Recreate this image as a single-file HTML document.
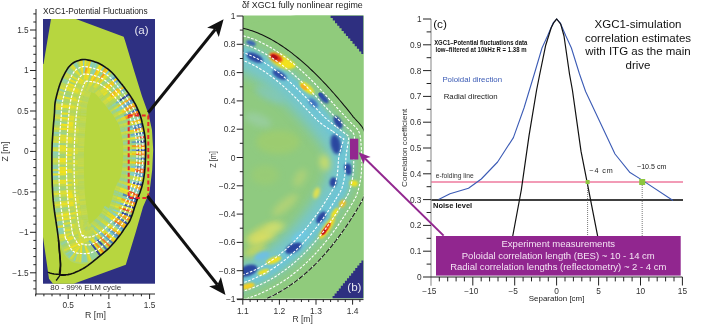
<!DOCTYPE html>
<html><head><meta charset="utf-8"><style>
html,body{margin:0;padding:0;background:#fff;}
svg{display:block;will-change:transform;}
</style></head><body>
<svg width="708" height="327" viewBox="0 0 708 327">
<rect width="708" height="327" fill="#fff"/>
<text x="43.0" y="14.0" font-family="Liberation Sans, sans-serif" font-size="9" fill="#222" text-anchor="start" textLength="104.6" lengthAdjust="spacingAndGlyphs">XGC1-Potential Fluctuations</text>
<rect x="43" y="19" width="112" height="264.7" fill="#2E3082"/>
<path d="M51.0,19.0 L76.0,19.0 L123.7,36.8 L125.2,41.3 L134.4,71.8 L142.0,96.2 L148.6,114.5 L152.0,130.0 L153.2,150.0 L152.2,170.0 L149.5,192.0 L143.0,207.0 L135.5,233.0 L125.8,264.7 L73.7,283.7 L53.0,283.7 L49.0,278.7 L43.0,237.0 L43.0,64.0 L43.5,64.0 L47.5,40.0 Z" fill="#B7D63F"/>
<defs><filter id="bl1" x="-50%" y="-50%" width="200%" height="200%"><feGaussianBlur stdDeviation="0.7"/></filter><filter id="bl2" x="-50%" y="-50%" width="200%" height="200%"><feGaussianBlur stdDeviation="1.6"/></filter><filter id="bl3" x="-50%" y="-50%" width="200%" height="200%"><feGaussianBlur stdDeviation="3"/></filter><filter id="bl15" x="-50%" y="-50%" width="200%" height="200%"><feGaussianBlur stdDeviation="1.2"/></filter><filter id="bl4" x="-50%" y="-50%" width="200%" height="200%"><feGaussianBlur stdDeviation="6"/></filter><filter id="bl05" x="-50%" y="-50%" width="200%" height="200%"><feGaussianBlur stdDeviation="0.6"/></filter><clipPath id="clipA"><path d="M59.8,274.5 L59.5,273.5 L59.6,272.0 L59.8,270.4 L60.1,268.5 L60.4,266.7 L60.5,265.0 L60.5,263.4 L60.4,261.9 L60.3,260.3 L60.1,258.7 L60.0,257.0 L59.8,255.0 L59.6,252.8 L59.4,250.4 L59.2,247.8 L59.0,245.2 L58.8,242.6 L58.5,240.0 L58.2,237.5 L57.9,235.0 L57.6,232.5 L57.2,230.0 L56.9,227.5 L56.5,225.0 L56.1,222.5 L55.8,220.0 L55.4,217.5 L55.0,215.0 L54.6,212.5 L54.3,210.0 L54.0,207.6 L53.7,205.2 L53.5,202.8 L53.2,200.4 L53.0,197.8 L52.8,195.0 L52.6,192.0 L52.5,188.9 L52.3,185.6 L52.2,182.2 L52.1,178.7 L52.0,175.0 L51.9,171.1 L51.9,166.8 L51.9,162.4 L51.9,158.1 L51.9,153.9 L52.0,150.0 L52.1,146.5 L52.2,143.1 L52.4,139.9 L52.6,136.9 L52.8,133.9 L53.0,131.0 L53.2,128.1 L53.4,125.4 L53.6,122.8 L53.9,120.1 L54.1,117.6 L54.3,115.0 L54.5,112.5 L54.6,110.1 L54.7,107.7 L54.8,105.3 L55.1,102.7 L55.6,100.0 L56.3,97.0 L57.1,93.8 L58.0,90.4 L59.0,87.1 L60.1,83.8 L61.3,80.8 L62.5,77.9 L63.9,75.1 L65.3,72.4 L66.8,69.9 L68.3,67.6 L69.9,65.7 L71.6,64.1 L73.4,62.8 L75.2,61.8 L77.1,61.0 L78.9,60.4 L80.6,59.9 L82.2,59.6 L83.7,59.5 L85.2,59.5 L86.7,59.8 L88.2,60.1 L89.8,60.4 L91.5,60.8 L93.3,61.3 L95.1,61.9 L96.9,62.5 L98.7,63.3 L100.5,64.2 L102.3,65.2 L104.1,66.3 L105.9,67.6 L107.8,68.9 L109.5,70.3 L111.2,71.8 L112.9,73.5 L114.5,75.3 L116.1,77.2 L117.7,79.2 L119.1,81.0 L120.3,82.5 L121.3,83.7 L122.1,84.6 L122.7,85.5 L123.4,86.3 L124.1,87.2 L125.0,88.5 L126.1,90.1 L127.5,91.9 L128.8,93.8 L130.3,95.9 L131.6,97.9 L132.9,100.0 L134.1,102.1 L135.3,104.2 L136.4,106.4 L137.4,108.6 L138.4,110.8 L139.3,112.9 L140.1,115.0 L140.7,117.0 L141.3,119.0 L141.8,121.0 L142.2,123.0 L142.7,125.0 L143.2,127.0 L143.6,129.0 L144.0,130.9 L144.4,132.9 L144.7,134.9 L145.0,137.0 L145.2,139.1 L145.4,141.3 L145.5,143.5 L145.6,145.7 L145.7,147.9 L145.7,150.0 L145.7,152.0 L145.7,154.0 L145.6,156.0 L145.5,158.0 L145.4,160.0 L145.3,162.0 L145.2,164.1 L145.0,166.3 L144.9,168.4 L144.7,170.6 L144.5,172.8 L144.2,175.0 L143.9,177.2 L143.5,179.3 L143.1,181.5 L142.6,183.7 L142.1,185.8 L141.5,188.0 L140.8,190.1 L140.1,192.2 L139.3,194.2 L138.5,196.3 L137.6,198.6 L136.7,201.0 L135.8,203.8 L134.7,207.0 L133.7,210.2 L132.7,213.4 L131.6,216.4 L130.7,218.8 L129.9,220.6 L129.1,222.0 L128.4,223.1 L127.7,224.1 L126.8,225.2 L125.9,226.5 L124.8,228.1 L123.6,229.9 L122.4,231.7 L121.1,233.6 L119.7,235.5 L118.3,237.3 L116.9,239.1 L115.4,240.9 L113.9,242.8 L112.3,244.5 L110.7,246.3 L109.1,248.0 L107.4,249.6 L105.6,251.2 L103.8,252.7 L102.0,254.2 L100.2,255.7 L98.4,257.2 L96.6,258.7 L94.7,260.2 L92.9,261.7 L91.0,263.1 L89.3,264.4 L87.7,265.6 L86.2,266.6 L84.9,267.5 L83.7,268.2 L82.5,268.9 L81.3,269.5 L80.0,270.2 L78.7,270.9 L77.3,271.5 L75.9,272.1 L74.5,272.7 L73.2,273.2 L72.0,273.6 L70.9,273.9 L69.9,274.2 L68.9,274.4 L67.9,274.6 L67.0,274.7 L66.0,274.8 L64.9,274.9 L63.7,275.2 L62.5,275.3 L61.4,275.3 L60.4,275.1 Z"/></clipPath><clipPath id="clipB"><rect x="243" y="15.5" width="120.5" height="283"/></clipPath></defs>
<clipPath id="clipA2"><path d="M57.5,240.2 L57.2,238.7 L56.9,237.0 L56.7,235.2 L56.5,233.2 L56.2,231.1 L56.0,229.1 L55.8,227.1 L55.5,225.1 L55.2,223.3 L55.0,221.4 L54.7,219.5 L54.4,217.7 L54.1,215.8 L53.8,213.9 L53.6,212.0 L53.3,210.1 L53.1,208.3 L52.9,206.5 L52.7,204.7 L52.5,202.9 L52.3,201.1 L52.1,199.2 L52.0,197.2 L51.8,195.1 L51.7,192.8 L51.5,190.5 L51.4,188.1 L51.3,185.7 L51.2,183.1 L51.1,180.5 L51.1,177.8 L51.0,175.0 L51.0,172.1 L50.9,169.0 L50.9,165.7 L50.9,162.4 L50.9,159.2 L50.9,155.9 L50.9,152.9 L51.0,150.0 L51.1,147.3 L51.2,144.7 L51.3,142.3 L51.4,139.9 L51.6,137.6 L51.7,135.3 L51.9,133.1 L52.0,130.9 L52.2,128.8 L52.3,126.7 L52.5,124.7 L52.6,122.7 L52.8,120.7 L53.0,118.8 L53.1,116.8 L53.3,114.9 L53.4,113.0 L53.5,111.2 L53.6,109.4 L53.7,107.6 L53.8,105.8 L54.0,103.9 L54.2,101.9 L54.6,99.8 L55.1,97.6 L55.7,95.2 L56.3,92.7 L57.0,90.1 L57.8,87.6 L58.6,85.1 L59.5,82.7 L60.4,80.4 L61.3,78.2 L62.3,76.1 L63.3,74.0 L64.4,71.9 L65.5,70.0 L66.7,68.2 L67.9,66.5 L69.2,65.0 L70.5,63.7 L71.9,62.6 L73.3,61.7 L74.8,60.9 L76.2,60.3 L77.7,59.7 L79.0,59.3 L80.4,58.9 L81.6,58.7 L82.9,58.5 L84.1,58.5 L85.3,58.6 L86.5,58.7 L87.6,58.9 L88.8,59.2 L90.0,59.4 L91.3,59.7 L92.6,60.1 L94.0,60.5 L95.4,60.9 L96.8,61.4 L98.2,62.0 L99.6,62.6 L101.0,63.3 L102.3,64.1 L103.7,64.9 L105.1,65.8 L106.5,66.8 L107.9,67.8 L109.3,68.8 L110.6,69.9 L111.9,71.1 L113.2,72.3 L114.4,73.7 L115.7,75.1 L116.9,76.6 L118.1,78.1 L119.2,79.5 L120.2,80.7 L121.1,81.9 L121.8,82.8 L122.5,83.6 L123.0,84.2 L123.5,84.8 L124.0,85.4 L124.5,86.1 L125.1,86.9 L125.8,87.9 L126.7,89.1 L127.6,90.4 L128.6,91.8 L129.7,93.2 L130.7,94.8 L131.8,96.3 L132.8,97.9 L133.8,99.5 L134.7,101.1 L135.6,102.7 L136.4,104.3 L137.3,106.0 L138.1,107.6 L138.9,109.3 L139.6,110.9 L140.2,112.5 L140.8,114.1 L141.3,115.7 L141.8,117.2 L142.2,118.8 L142.6,120.3 L143.0,121.8 L143.3,123.3 L143.7,124.8 L144.0,126.3 L144.4,127.8 L144.7,129.3 L145.0,130.7 L145.3,132.3 L145.6,133.8 L145.8,135.3 L146.0,136.9 L146.2,138.5 L146.3,140.1 L146.4,141.8 L146.5,143.5 L146.6,145.1 L146.6,146.8 L146.7,148.4 L146.7,150.0 L146.7,151.5 L146.7,153.1 L146.7,154.6 L146.6,156.0 L146.5,157.5 L146.5,159.0 L146.4,160.5 L146.3,162.1 L146.2,163.6 L146.1,165.2 L146.0,166.9 L145.9,168.5 L145.8,170.2 L145.6,171.8 L145.4,173.5 L145.2,175.1 L144.9,176.8 L144.7,178.4 L144.4,180.1 L144.1,181.7 L143.7,183.3 L143.3,185.0 L142.9,186.6 L142.5,188.3 L142.0,189.9 L141.4,191.5 L140.8,193.0 L140.2,194.6 L139.6,196.1 L139.0,197.8 L138.3,199.5 L137.6,201.3 L136.9,203.4 L136.2,205.7 L135.4,208.1 L134.7,210.5 L133.9,213.0 L133.1,215.3 L132.3,217.4 L131.6,219.2 L131.0,220.7 L130.4,221.8 L129.8,222.8 L129.2,223.7 L128.7,224.4 L128.1,225.2 L127.4,226.0 L126.7,227.1 L125.9,228.3 L125.1,229.5 L124.2,230.9 L123.2,232.3 L122.2,233.7 L121.2,235.1 L120.1,236.5 L119.1,237.9 L118.0,239.3 L116.9,240.6 L115.8,242.0 L114.7,243.4 L113.5,244.8 L112.3,246.1 L111.1,247.4 L109.8,248.7 L108.5,250.0 L107.2,251.2 L105.9,252.5 L104.5,253.7 L103.2,254.9 L101.8,256.0 L100.4,257.1 L99.0,258.0 L97.5,258.9 L96.1,259.8 L94.7,260.6 L93.2,261.4 L91.7,262.0 L90.2,262.6 L88.7,263.1 L87.2,263.5 L85.6,263.7 L84.0,263.9 L82.4,264.0 L80.8,264.0 L79.2,263.8 L77.6,263.6 L76.1,263.3 L74.7,263.0 L73.4,262.5 L72.1,261.9 L70.9,261.2 L69.7,260.4 L68.6,259.6 L67.6,258.6 L66.6,257.7 L65.7,256.6 L64.9,255.5 L64.1,254.2 L63.4,252.8 L62.7,251.4 L62.2,250.0 L61.6,248.7 L61.1,247.5 L60.6,246.4 L60.2,245.6 L59.8,245.0 L59.4,244.4 L59.0,243.9 L58.6,243.2 L58.2,242.4 L57.9,241.4 Z"/></clipPath>
<path d="M57.5,240.2 L57.2,238.7 L56.9,237.0 L56.7,235.2 L56.5,233.2 L56.2,231.1 L56.0,229.1 L55.8,227.1 L55.5,225.1 L55.2,223.3 L55.0,221.4 L54.7,219.5 L54.4,217.7 L54.1,215.8 L53.8,213.9 L53.6,212.0 L53.3,210.1 L53.1,208.3 L52.9,206.5 L52.7,204.7 L52.5,202.9 L52.3,201.1 L52.1,199.2 L52.0,197.2 L51.8,195.1 L51.7,192.8 L51.5,190.5 L51.4,188.1 L51.3,185.7 L51.2,183.1 L51.1,180.5 L51.1,177.8 L51.0,175.0 L51.0,172.1 L50.9,169.0 L50.9,165.7 L50.9,162.4 L50.9,159.2 L50.9,155.9 L50.9,152.9 L51.0,150.0 L51.1,147.3 L51.2,144.7 L51.3,142.3 L51.4,139.9 L51.6,137.6 L51.7,135.3 L51.9,133.1 L52.0,130.9 L52.2,128.8 L52.3,126.7 L52.5,124.7 L52.6,122.7 L52.8,120.7 L53.0,118.8 L53.1,116.8 L53.3,114.9 L53.4,113.0 L53.5,111.2 L53.6,109.4 L53.7,107.6 L53.8,105.8 L54.0,103.9 L54.2,101.9 L54.6,99.8 L55.1,97.6 L55.7,95.2 L56.3,92.7 L57.0,90.1 L57.8,87.6 L58.6,85.1 L59.5,82.7 L60.4,80.4 L61.3,78.2 L62.3,76.1 L63.3,74.0 L64.4,71.9 L65.5,70.0 L66.7,68.2 L67.9,66.5 L69.2,65.0 L70.5,63.7 L71.9,62.6 L73.3,61.7 L74.8,60.9 L76.2,60.3 L77.7,59.7 L79.0,59.3 L80.4,58.9 L81.6,58.7 L82.9,58.5 L84.1,58.5 L85.3,58.6 L86.5,58.7 L87.6,58.9 L88.8,59.2 L90.0,59.4 L91.3,59.7 L92.6,60.1 L94.0,60.5 L95.4,60.9 L96.8,61.4 L98.2,62.0 L99.6,62.6 L101.0,63.3 L102.3,64.1 L103.7,64.9 L105.1,65.8 L106.5,66.8 L107.9,67.8 L109.3,68.8 L110.6,69.9 L111.9,71.1 L113.2,72.3 L114.4,73.7 L115.7,75.1 L116.9,76.6 L118.1,78.1 L119.2,79.5 L120.2,80.7 L121.1,81.9 L121.8,82.8 L122.5,83.6 L123.0,84.2 L123.5,84.8 L124.0,85.4 L124.5,86.1 L125.1,86.9 L125.8,87.9 L126.7,89.1 L127.6,90.4 L128.6,91.8 L129.7,93.2 L130.7,94.8 L131.8,96.3 L132.8,97.9 L133.8,99.5 L134.7,101.1 L135.6,102.7 L136.4,104.3 L137.3,106.0 L138.1,107.6 L138.9,109.3 L139.6,110.9 L140.2,112.5 L140.8,114.1 L141.3,115.7 L141.8,117.2 L142.2,118.8 L142.6,120.3 L143.0,121.8 L143.3,123.3 L143.7,124.8 L144.0,126.3 L144.4,127.8 L144.7,129.3 L145.0,130.7 L145.3,132.3 L145.6,133.8 L145.8,135.3 L146.0,136.9 L146.2,138.5 L146.3,140.1 L146.4,141.8 L146.5,143.5 L146.6,145.1 L146.6,146.8 L146.7,148.4 L146.7,150.0 L146.7,151.5 L146.7,153.1 L146.7,154.6 L146.6,156.0 L146.5,157.5 L146.5,159.0 L146.4,160.5 L146.3,162.1 L146.2,163.6 L146.1,165.2 L146.0,166.9 L145.9,168.5 L145.8,170.2 L145.6,171.8 L145.4,173.5 L145.2,175.1 L144.9,176.8 L144.7,178.4 L144.4,180.1 L144.1,181.7 L143.7,183.3 L143.3,185.0 L142.9,186.6 L142.5,188.3 L142.0,189.9 L141.4,191.5 L140.8,193.0 L140.2,194.6 L139.6,196.1 L139.0,197.8 L138.3,199.5 L137.6,201.3 L136.9,203.4 L136.2,205.7 L135.4,208.1 L134.7,210.5 L133.9,213.0 L133.1,215.3 L132.3,217.4 L131.6,219.2 L131.0,220.7 L130.4,221.8 L129.8,222.8 L129.2,223.7 L128.7,224.4 L128.1,225.2 L127.4,226.0 L126.7,227.1 L125.9,228.3 L125.1,229.5 L124.2,230.9 L123.2,232.3 L122.2,233.7 L121.2,235.1 L120.1,236.5 L119.1,237.9 L118.0,239.3 L116.9,240.6 L115.8,242.0 L114.7,243.4 L113.5,244.8 L112.3,246.1 L111.1,247.4 L109.8,248.7 L108.5,250.0 L107.2,251.2 L105.9,252.5 L104.5,253.7 L103.2,254.9 L101.8,256.0 L100.4,257.1 L99.0,258.0 L97.5,258.9 L96.1,259.8 L94.7,260.6 L93.2,261.4 L91.7,262.0 L90.2,262.6 L88.7,263.1 L87.2,263.5 L85.6,263.7 L84.0,263.9 L82.4,264.0 L80.8,264.0 L79.2,263.8 L77.6,263.6 L76.1,263.3 L74.7,263.0 L73.4,262.5 L72.1,261.9 L70.9,261.2 L69.7,260.4 L68.6,259.6 L67.6,258.6 L66.6,257.7 L65.7,256.6 L64.9,255.5 L64.1,254.2 L63.4,252.8 L62.7,251.4 L62.2,250.0 L61.6,248.7 L61.1,247.5 L60.6,246.4 L60.2,245.6 L59.8,245.0 L59.4,244.4 L59.0,243.9 L58.6,243.2 L58.2,242.4 L57.9,241.4 Z" fill="#B0D666"/>
<path d="M81.3,230.8 L81.0,229.8 L80.7,228.7 L80.5,227.6 L80.2,226.6 L80.0,225.6 L79.9,224.6 L79.7,223.5 L79.4,222.2 L79.2,220.7 L79.0,219.1 L78.7,217.4 L78.5,215.6 L78.2,213.8 L78.0,212.0 L77.8,210.1 L77.5,208.3 L77.3,206.4 L77.1,204.6 L76.9,202.7 L76.7,200.9 L76.5,199.0 L76.3,197.0 L76.2,195.1 L76.0,193.0 L75.9,191.0 L75.8,188.8 L75.6,186.6 L75.5,184.3 L75.4,181.9 L75.4,179.4 L75.3,176.9 L75.2,174.4 L75.2,171.8 L75.1,169.2 L75.1,166.6 L75.1,164.0 L75.1,161.4 L75.1,158.8 L75.2,156.2 L75.2,153.6 L75.3,151.0 L75.3,148.5 L75.4,146.0 L75.5,143.5 L75.6,141.1 L75.7,138.8 L75.8,136.5 L76.0,134.3 L76.1,132.1 L76.2,130.0 L76.4,127.9 L76.5,125.9 L76.6,123.9 L76.8,122.0 L76.9,120.2 L77.0,118.4 L77.2,116.6 L77.4,114.8 L77.6,113.0 L77.8,111.2 L78.1,109.4 L78.4,107.7 L78.7,105.9 L79.0,104.2 L79.3,102.4 L79.7,100.7 L80.1,99.1 L80.6,97.5 L81.0,95.9 L81.5,94.5 L81.9,93.1 L82.4,91.8 L82.8,90.6 L83.1,89.4 L83.5,88.3 L83.8,87.3 L84.2,86.4 L84.5,85.5 L84.8,84.8 L85.0,84.2 L85.2,83.7 L85.3,83.2 L85.3,82.9 L85.3,82.6 L85.3,82.3 L85.2,82.2 L85.2,82.1 L85.2,82.1 L85.2,82.2 L85.2,82.2 L85.3,82.2 L85.4,82.3 L85.6,82.3 L85.8,82.2 L86.1,82.2 L86.5,82.2 L86.8,82.1 L87.3,82.1 L87.7,82.1 L88.3,82.2 L88.9,82.2 L89.7,82.3 L90.5,82.3 L91.5,82.4 L92.4,82.5 L93.4,82.7 L94.4,82.9 L95.4,83.2 L96.5,83.5 L97.5,83.9 L98.6,84.4 L99.6,84.9 L100.7,85.5 L101.7,86.1 L102.7,86.7 L103.7,87.4 L104.7,88.0 L105.6,88.7 L106.6,89.4 L107.5,90.1 L108.4,90.9 L109.3,91.8 L110.1,92.6 L111.0,93.6 L111.9,94.6 L112.8,95.6 L113.6,96.6 L114.5,97.6 L115.3,98.6 L116.2,99.6 L117.0,100.6 L117.9,101.6 L118.8,102.6 L119.6,103.7 L120.5,104.8 L121.4,106.0 L122.3,107.2 L123.2,108.4 L124.1,109.7 L125.0,110.9 L125.9,112.2 L126.7,113.5 L127.5,114.7 L128.2,116.0 L128.9,117.3 L129.6,118.6 L130.2,120.0 L130.8,121.3 L131.4,122.6 L131.9,123.9 L132.4,125.3 L132.9,126.6 L133.4,127.9 L133.8,129.3 L134.1,130.6 L134.5,132.0 L134.8,133.4 L135.0,134.8 L135.3,136.2 L135.5,137.7 L135.7,139.1 L135.9,140.5 L136.1,142.0 L136.2,143.4 L136.4,144.8 L136.5,146.2 L136.5,147.7 L136.6,149.1 L136.6,150.6 L136.7,152.1 L136.7,153.5 L136.6,155.0 L136.6,156.5 L136.5,158.0 L136.5,159.5 L136.4,161.0 L136.3,162.5 L136.1,164.0 L136.0,165.4 L135.8,166.9 L135.6,168.4 L135.4,169.9 L135.1,171.3 L134.8,172.8 L134.5,174.3 L134.1,175.7 L133.8,177.1 L133.4,178.6 L132.9,180.0 L132.5,181.5 L132.0,182.9 L131.5,184.5 L131.0,186.0 L130.4,187.6 L129.9,189.3 L129.3,191.0 L128.6,192.8 L128.0,194.5 L127.3,196.3 L126.6,198.0 L125.9,199.6 L125.1,201.1 L124.3,202.6 L123.5,204.0 L122.7,205.4 L122.0,206.8 L121.2,208.2 L120.5,209.6 L119.7,211.0 L118.9,212.3 L118.0,213.6 L117.2,214.8 L116.3,216.0 L115.4,217.1 L114.5,218.1 L113.6,219.1 L112.7,220.0 L111.7,220.9 L110.8,221.7 L109.8,222.6 L108.8,223.5 L107.9,224.5 L106.8,225.5 L105.8,226.6 L104.7,227.7 L103.6,228.7 L102.5,229.7 L101.3,230.6 L100.1,231.5 L98.9,232.3 L97.6,233.0 L96.4,233.7 L95.2,234.3 L93.9,234.9 L92.7,235.3 L91.5,235.7 L90.4,236.0 L89.3,236.2 L88.3,236.2 L87.4,236.2 L86.5,236.1 L85.8,236.0 L85.1,235.9 L84.5,235.7 L83.9,235.5 L83.5,235.2 L83.2,235.0 L83.0,234.8 L82.9,234.6 L82.9,234.5 L82.9,234.4 L83.1,234.4 L83.3,234.4 L83.5,234.5 L83.8,234.6 L84.1,234.8 L84.4,235.2 L84.7,235.5 L84.9,235.9 L85.1,236.3 L85.3,236.7 L85.4,236.9 L85.5,237.1 L85.5,237.1 L85.4,237.0 L85.3,236.9 L85.2,236.7 L85.0,236.5 L84.7,236.4 L84.5,236.3 L84.2,236.2 L83.9,236.1 L83.6,235.9 L83.3,235.5 L83.0,235.1 L82.6,234.5 L82.3,233.7 L82.0,232.8 L81.6,231.9 Z" fill="#B7D641" filter="url(#bl2)"/>
<g clip-path="url(#clipA)"><g clip-path="url(#clipA2)" filter="url(#bl05)"><line x1="59.0" y1="239.9" x2="65.4" y2="238.4" stroke="#A8D46D" stroke-width="2.3"/><line x1="65.4" y1="238.4" x2="72.4" y2="236.7" stroke="#BFD853" stroke-width="2.3"/><line x1="72.4" y1="236.7" x2="78.3" y2="235.3" stroke="#E9E027" stroke-width="2.3"/><line x1="78.3" y1="235.3" x2="84.3" y2="233.9" stroke="#D1DC41" stroke-width="2.3"/><line x1="84.3" y1="233.9" x2="90.2" y2="232.6" stroke="#BDD855" stroke-width="2.3"/><line x1="58.6" y1="237.7" x2="65.1" y2="236.6" stroke="#D8DD39" stroke-width="2.3"/><line x1="65.1" y1="236.6" x2="72.0" y2="235.3" stroke="#E9E028" stroke-width="2.3"/><line x1="72.0" y1="235.3" x2="78.0" y2="234.2" stroke="#EAE126" stroke-width="2.3"/><line x1="78.0" y1="234.2" x2="84.0" y2="233.1" stroke="#BAD759" stroke-width="2.3"/><line x1="84.0" y1="233.1" x2="89.9" y2="232.1" stroke="#C5D94D" stroke-width="2.3"/><line x1="58.3" y1="235.6" x2="64.7" y2="234.6" stroke="#D4DC3E" stroke-width="2.3"/><line x1="64.7" y1="234.6" x2="71.7" y2="233.6" stroke="#D8DD39" stroke-width="2.3"/><line x1="71.7" y1="233.6" x2="77.7" y2="232.7" stroke="#DADD37" stroke-width="2.3"/><line x1="77.7" y1="232.7" x2="83.7" y2="231.9" stroke="#D0DB42" stroke-width="2.3"/><line x1="83.7" y1="231.9" x2="89.7" y2="231.0" stroke="#C2D950" stroke-width="2.3"/><line x1="58.0" y1="233.4" x2="64.5" y2="232.6" stroke="#92D1A3" stroke-width="2.3"/><line x1="64.5" y1="232.6" x2="71.5" y2="231.7" stroke="#B1D562" stroke-width="2.3"/><line x1="71.5" y1="231.7" x2="77.5" y2="230.9" stroke="#C2D950" stroke-width="2.3"/><line x1="77.5" y1="230.9" x2="83.4" y2="230.2" stroke="#B7D75C" stroke-width="2.3"/><line x1="83.4" y1="230.2" x2="89.4" y2="229.4" stroke="#B9D759" stroke-width="2.3"/><line x1="57.8" y1="231.2" x2="64.2" y2="230.5" stroke="#8DD1AE" stroke-width="2.3"/><line x1="64.2" y1="230.5" x2="71.2" y2="229.7" stroke="#DBDE36" stroke-width="2.3"/><line x1="71.2" y1="229.7" x2="77.2" y2="229.0" stroke="#B4D65F" stroke-width="2.3"/><line x1="77.2" y1="229.0" x2="83.2" y2="228.3" stroke="#B8D75A" stroke-width="2.3"/><line x1="83.2" y1="228.3" x2="89.2" y2="227.6" stroke="#B6D75C" stroke-width="2.3"/><line x1="57.5" y1="229.1" x2="64.0" y2="228.3" stroke="#88D0BA" stroke-width="2.3"/><line x1="64.0" y1="228.3" x2="71.0" y2="227.5" stroke="#C1D951" stroke-width="2.3"/><line x1="71.0" y1="227.5" x2="77.0" y2="226.9" stroke="#CDDB44" stroke-width="2.3"/><line x1="77.0" y1="226.9" x2="83.0" y2="226.2" stroke="#D9DD38" stroke-width="2.3"/><line x1="83.0" y1="226.2" x2="88.9" y2="225.5" stroke="#B7D75B" stroke-width="2.3"/><line x1="57.2" y1="226.9" x2="63.7" y2="226.1" stroke="#DDDE34" stroke-width="2.3"/><line x1="63.7" y1="226.1" x2="70.7" y2="225.2" stroke="#A0D381" stroke-width="2.3"/><line x1="70.7" y1="225.2" x2="76.7" y2="224.5" stroke="#E0DF31" stroke-width="2.3"/><line x1="76.7" y1="224.5" x2="82.7" y2="223.7" stroke="#D1DC40" stroke-width="2.3"/><line x1="82.7" y1="223.7" x2="88.7" y2="223.0" stroke="#C6DA4C" stroke-width="2.3"/><line x1="57.0" y1="224.7" x2="63.4" y2="223.8" stroke="#93D19F" stroke-width="2.3"/><line x1="63.4" y1="223.8" x2="70.4" y2="222.8" stroke="#D4DC3D" stroke-width="2.3"/><line x1="70.4" y1="222.8" x2="76.4" y2="222.0" stroke="#B1D562" stroke-width="2.3"/><line x1="76.4" y1="222.0" x2="82.4" y2="221.2" stroke="#CDDB44" stroke-width="2.3"/><line x1="82.4" y1="221.2" x2="88.4" y2="220.4" stroke="#B7D75B" stroke-width="2.3"/><line x1="56.6" y1="222.5" x2="63.1" y2="221.5" stroke="#94D29C" stroke-width="2.3"/><line x1="63.1" y1="221.5" x2="70.1" y2="220.5" stroke="#A5D375" stroke-width="2.3"/><line x1="70.1" y1="220.5" x2="76.1" y2="219.6" stroke="#B4D65E" stroke-width="2.3"/><line x1="76.1" y1="219.6" x2="82.1" y2="218.7" stroke="#BAD759" stroke-width="2.3"/><line x1="82.1" y1="218.7" x2="88.0" y2="217.9" stroke="#B6D65C" stroke-width="2.3"/><line x1="56.3" y1="220.3" x2="62.8" y2="219.3" stroke="#D1DC40" stroke-width="2.3"/><line x1="62.8" y1="219.3" x2="69.8" y2="218.3" stroke="#E4DF2C" stroke-width="2.3"/><line x1="69.8" y1="218.3" x2="75.7" y2="217.4" stroke="#E1DF30" stroke-width="2.3"/><line x1="75.7" y1="217.4" x2="81.7" y2="216.4" stroke="#BAD758" stroke-width="2.3"/><line x1="81.7" y1="216.4" x2="87.7" y2="215.5" stroke="#B6D65D" stroke-width="2.3"/><line x1="56.0" y1="218.1" x2="62.5" y2="217.1" stroke="#BED855" stroke-width="2.3"/><line x1="62.5" y1="217.1" x2="69.4" y2="216.1" stroke="#D3DC3F" stroke-width="2.3"/><line x1="69.4" y1="216.1" x2="75.4" y2="215.1" stroke="#B4D65E" stroke-width="2.3"/><line x1="75.4" y1="215.1" x2="81.4" y2="214.2" stroke="#CDDB44" stroke-width="2.3"/><line x1="81.4" y1="214.2" x2="87.4" y2="213.3" stroke="#C7DA4B" stroke-width="2.3"/><line x1="55.6" y1="216.0" x2="62.1" y2="215.0" stroke="#DCDE35" stroke-width="2.3"/><line x1="62.1" y1="215.0" x2="69.1" y2="213.9" stroke="#F0E220" stroke-width="2.3"/><line x1="69.1" y1="213.9" x2="75.1" y2="213.0" stroke="#E7E02A" stroke-width="2.3"/><line x1="75.1" y1="213.0" x2="81.1" y2="212.1" stroke="#D8DD39" stroke-width="2.3"/><line x1="81.1" y1="212.1" x2="87.0" y2="211.1" stroke="#C6DA4C" stroke-width="2.3"/><line x1="55.3" y1="213.8" x2="61.8" y2="212.8" stroke="#B5D65D" stroke-width="2.3"/><line x1="61.8" y1="212.8" x2="68.8" y2="211.8" stroke="#CBDB46" stroke-width="2.3"/><line x1="68.8" y1="211.8" x2="74.8" y2="210.9" stroke="#ACD467" stroke-width="2.3"/><line x1="74.8" y1="210.9" x2="80.7" y2="210.0" stroke="#CADA47" stroke-width="2.3"/><line x1="80.7" y1="210.0" x2="86.7" y2="209.1" stroke="#C0D853" stroke-width="2.3"/><line x1="55.0" y1="211.6" x2="61.5" y2="210.7" stroke="#98D293" stroke-width="2.3"/><line x1="61.5" y1="210.7" x2="68.5" y2="209.8" stroke="#ACD567" stroke-width="2.3"/><line x1="68.5" y1="209.8" x2="74.5" y2="209.0" stroke="#C0D852" stroke-width="2.3"/><line x1="74.5" y1="209.0" x2="80.4" y2="208.2" stroke="#B7D75C" stroke-width="2.3"/><line x1="80.4" y1="208.2" x2="86.4" y2="207.4" stroke="#B7D75B" stroke-width="2.3"/><line x1="54.7" y1="209.4" x2="61.2" y2="208.6" stroke="#95D29B" stroke-width="2.3"/><line x1="61.2" y1="208.6" x2="68.2" y2="207.7" stroke="#9DD387" stroke-width="2.3"/><line x1="68.2" y1="207.7" x2="74.2" y2="207.0" stroke="#B4D65E" stroke-width="2.3"/><line x1="74.2" y1="207.0" x2="80.2" y2="206.2" stroke="#D6DD3B" stroke-width="2.3"/><line x1="80.2" y1="206.2" x2="86.2" y2="205.5" stroke="#B6D65D" stroke-width="2.3"/><line x1="54.5" y1="207.3" x2="61.0" y2="206.5" stroke="#BAD759" stroke-width="2.3"/><line x1="61.0" y1="206.5" x2="67.9" y2="205.6" stroke="#CDDB45" stroke-width="2.3"/><line x1="67.9" y1="205.6" x2="73.9" y2="204.9" stroke="#E5DF2C" stroke-width="2.3"/><line x1="73.9" y1="204.9" x2="79.9" y2="204.2" stroke="#B2D661" stroke-width="2.3"/><line x1="79.9" y1="204.2" x2="85.9" y2="203.4" stroke="#C6D94C" stroke-width="2.3"/><line x1="54.2" y1="205.1" x2="60.7" y2="204.3" stroke="#DEDE33" stroke-width="2.3"/><line x1="60.7" y1="204.3" x2="67.7" y2="203.5" stroke="#EAE126" stroke-width="2.3"/><line x1="67.7" y1="203.5" x2="73.7" y2="202.8" stroke="#ECE125" stroke-width="2.3"/><line x1="73.7" y1="202.8" x2="79.7" y2="202.1" stroke="#D6DD3B" stroke-width="2.3"/><line x1="79.7" y1="202.1" x2="85.7" y2="201.4" stroke="#C8DA4A" stroke-width="2.3"/><line x1="54.0" y1="202.9" x2="60.5" y2="202.2" stroke="#C2D950" stroke-width="2.3"/><line x1="60.5" y1="202.2" x2="67.5" y2="201.4" stroke="#D4DC3D" stroke-width="2.3"/><line x1="67.5" y1="201.4" x2="73.4" y2="200.7" stroke="#DBDE35" stroke-width="2.3"/><line x1="73.4" y1="200.7" x2="79.4" y2="200.0" stroke="#D2DC40" stroke-width="2.3"/><line x1="79.4" y1="200.0" x2="85.4" y2="199.4" stroke="#B5D65D" stroke-width="2.3"/><line x1="53.8" y1="200.7" x2="60.2" y2="200.1" stroke="#95D29A" stroke-width="2.3"/><line x1="60.2" y1="200.1" x2="67.2" y2="199.4" stroke="#A3D379" stroke-width="2.3"/><line x1="67.2" y1="199.4" x2="73.2" y2="198.9" stroke="#BED855" stroke-width="2.3"/><line x1="73.2" y1="198.9" x2="79.2" y2="198.3" stroke="#D5DC3D" stroke-width="2.3"/><line x1="79.2" y1="198.3" x2="85.2" y2="197.7" stroke="#C6DA4C" stroke-width="2.3"/><line x1="53.6" y1="198.5" x2="60.1" y2="198.0" stroke="#96D299" stroke-width="2.3"/><line x1="60.1" y1="198.0" x2="67.1" y2="197.4" stroke="#A9D46A" stroke-width="2.3"/><line x1="67.1" y1="197.4" x2="73.0" y2="196.9" stroke="#EEE122" stroke-width="2.3"/><line x1="73.0" y1="196.9" x2="79.0" y2="196.3" stroke="#D1DC40" stroke-width="2.3"/><line x1="79.0" y1="196.3" x2="85.0" y2="195.8" stroke="#C6D94C" stroke-width="2.3"/><line x1="53.4" y1="196.3" x2="59.9" y2="195.8" stroke="#AFD564" stroke-width="2.3"/><line x1="59.9" y1="195.8" x2="66.9" y2="195.3" stroke="#C8DA49" stroke-width="2.3"/><line x1="66.9" y1="195.3" x2="72.9" y2="194.9" stroke="#EFE121" stroke-width="2.3"/><line x1="72.9" y1="194.9" x2="78.9" y2="194.4" stroke="#C8DA49" stroke-width="2.3"/><line x1="78.9" y1="194.4" x2="84.9" y2="194.0" stroke="#BFD853" stroke-width="2.3"/><line x1="53.2" y1="194.1" x2="59.7" y2="193.7" stroke="#DEDE33" stroke-width="2.3"/><line x1="59.7" y1="193.7" x2="66.7" y2="193.2" stroke="#E2DF2F" stroke-width="2.3"/><line x1="66.7" y1="193.2" x2="72.7" y2="192.9" stroke="#E9E027" stroke-width="2.3"/><line x1="72.7" y1="192.9" x2="78.7" y2="192.5" stroke="#B7D75B" stroke-width="2.3"/><line x1="78.7" y1="192.5" x2="84.7" y2="192.1" stroke="#C4D94E" stroke-width="2.3"/><line x1="53.1" y1="192.0" x2="59.6" y2="191.6" stroke="#C0D852" stroke-width="2.3"/><line x1="59.6" y1="191.6" x2="66.6" y2="191.2" stroke="#D7DD3A" stroke-width="2.3"/><line x1="66.6" y1="191.2" x2="72.6" y2="190.8" stroke="#D9DD38" stroke-width="2.3"/><line x1="72.6" y1="190.8" x2="78.6" y2="190.4" stroke="#CCDB46" stroke-width="2.3"/><line x1="78.6" y1="190.4" x2="84.6" y2="190.1" stroke="#C1D951" stroke-width="2.3"/><line x1="53.0" y1="189.8" x2="59.5" y2="189.4" stroke="#95D29B" stroke-width="2.3"/><line x1="59.5" y1="189.4" x2="66.5" y2="189.0" stroke="#A2D37C" stroke-width="2.3"/><line x1="66.5" y1="189.0" x2="72.5" y2="188.7" stroke="#BCD856" stroke-width="2.3"/><line x1="72.5" y1="188.7" x2="78.5" y2="188.4" stroke="#B7D75C" stroke-width="2.3"/><line x1="78.5" y1="188.4" x2="84.5" y2="188.1" stroke="#B6D65D" stroke-width="2.3"/><line x1="52.9" y1="187.6" x2="59.4" y2="187.3" stroke="#93D19F" stroke-width="2.3"/><line x1="59.4" y1="187.3" x2="66.4" y2="186.9" stroke="#A8D46C" stroke-width="2.3"/><line x1="66.4" y1="186.9" x2="72.4" y2="186.7" stroke="#BBD757" stroke-width="2.3"/><line x1="72.4" y1="186.7" x2="78.4" y2="186.4" stroke="#B5D65D" stroke-width="2.3"/><line x1="78.4" y1="186.4" x2="84.4" y2="186.1" stroke="#B8D75A" stroke-width="2.3"/><line x1="52.8" y1="185.4" x2="59.3" y2="185.1" stroke="#AAD469" stroke-width="2.3"/><line x1="59.3" y1="185.1" x2="66.3" y2="184.8" stroke="#C2D950" stroke-width="2.3"/><line x1="66.3" y1="184.8" x2="72.3" y2="184.6" stroke="#E6E02B" stroke-width="2.3"/><line x1="72.3" y1="184.6" x2="78.3" y2="184.3" stroke="#C6DA4C" stroke-width="2.3"/><line x1="78.3" y1="184.3" x2="84.3" y2="184.1" stroke="#BDD855" stroke-width="2.3"/><line x1="52.7" y1="183.2" x2="59.2" y2="182.9" stroke="#CBDB47" stroke-width="2.3"/><line x1="59.2" y1="182.9" x2="66.2" y2="182.6" stroke="#E7E029" stroke-width="2.3"/><line x1="66.2" y1="182.6" x2="72.2" y2="182.4" stroke="#ADD566" stroke-width="2.3"/><line x1="72.2" y1="182.4" x2="78.2" y2="182.1" stroke="#CFDB42" stroke-width="2.3"/><line x1="78.2" y1="182.1" x2="84.2" y2="181.9" stroke="#B8D75B" stroke-width="2.3"/><line x1="52.6" y1="181.0" x2="59.1" y2="180.7" stroke="#C8DA49" stroke-width="2.3"/><line x1="59.1" y1="180.7" x2="66.1" y2="180.5" stroke="#EDE123" stroke-width="2.3"/><line x1="66.1" y1="180.5" x2="72.1" y2="180.3" stroke="#E4DF2D" stroke-width="2.3"/><line x1="72.1" y1="180.3" x2="78.1" y2="180.1" stroke="#CEDB43" stroke-width="2.3"/><line x1="78.1" y1="180.1" x2="84.1" y2="179.9" stroke="#C5D94D" stroke-width="2.3"/><line x1="52.6" y1="178.8" x2="59.1" y2="178.6" stroke="#95D299" stroke-width="2.3"/><line x1="59.1" y1="178.6" x2="66.1" y2="178.4" stroke="#A5D474" stroke-width="2.3"/><line x1="66.1" y1="178.4" x2="72.1" y2="178.2" stroke="#BBD758" stroke-width="2.3"/><line x1="72.1" y1="178.2" x2="78.1" y2="178.0" stroke="#BAD759" stroke-width="2.3"/><line x1="78.1" y1="178.0" x2="84.1" y2="177.9" stroke="#B8D75A" stroke-width="2.3"/><line x1="52.5" y1="176.6" x2="59.0" y2="176.4" stroke="#88D0BB" stroke-width="2.3"/><line x1="59.0" y1="176.4" x2="66.0" y2="176.3" stroke="#A4D375" stroke-width="2.3"/><line x1="66.0" y1="176.3" x2="72.0" y2="176.1" stroke="#B8D75B" stroke-width="2.3"/><line x1="72.0" y1="176.1" x2="78.0" y2="176.0" stroke="#B6D75C" stroke-width="2.3"/><line x1="78.0" y1="176.0" x2="84.0" y2="175.8" stroke="#B6D65D" stroke-width="2.3"/><line x1="52.5" y1="174.4" x2="59.0" y2="174.3" stroke="#DFDE32" stroke-width="2.3"/><line x1="59.0" y1="174.3" x2="66.0" y2="174.1" stroke="#E8E029" stroke-width="2.3"/><line x1="66.0" y1="174.1" x2="72.0" y2="174.0" stroke="#B4D65E" stroke-width="2.3"/><line x1="72.0" y1="174.0" x2="78.0" y2="173.9" stroke="#C8DA4A" stroke-width="2.3"/><line x1="78.0" y1="173.9" x2="84.0" y2="173.8" stroke="#BFD853" stroke-width="2.3"/><line x1="52.5" y1="172.2" x2="59.0" y2="172.1" stroke="#8AD0B4" stroke-width="2.3"/><line x1="59.0" y1="172.1" x2="66.0" y2="171.9" stroke="#F1E21F" stroke-width="2.3"/><line x1="66.0" y1="171.9" x2="72.0" y2="171.8" stroke="#E0DF31" stroke-width="2.3"/><line x1="72.0" y1="171.8" x2="78.0" y2="171.7" stroke="#D1DC40" stroke-width="2.3"/><line x1="78.0" y1="171.7" x2="84.0" y2="171.6" stroke="#C6D94C" stroke-width="2.3"/><line x1="52.4" y1="170.0" x2="58.9" y2="169.9" stroke="#CBDA47" stroke-width="2.3"/><line x1="58.9" y1="169.9" x2="65.9" y2="169.8" stroke="#E6E02A" stroke-width="2.3"/><line x1="65.9" y1="169.8" x2="71.9" y2="169.7" stroke="#E6E02B" stroke-width="2.3"/><line x1="71.9" y1="169.7" x2="77.9" y2="169.7" stroke="#B8D75A" stroke-width="2.3"/><line x1="77.9" y1="169.7" x2="83.9" y2="169.6" stroke="#C3D94F" stroke-width="2.3"/><line x1="52.4" y1="167.8" x2="58.9" y2="167.7" stroke="#8ED1AC" stroke-width="2.3"/><line x1="58.9" y1="167.7" x2="65.9" y2="167.7" stroke="#EFE221" stroke-width="2.3"/><line x1="65.9" y1="167.7" x2="71.9" y2="167.6" stroke="#B9D759" stroke-width="2.3"/><line x1="71.9" y1="167.6" x2="77.9" y2="167.6" stroke="#B6D75C" stroke-width="2.3"/><line x1="77.9" y1="167.6" x2="83.9" y2="167.5" stroke="#B4D65E" stroke-width="2.3"/><line x1="52.4" y1="165.6" x2="58.9" y2="165.6" stroke="#91D1A4" stroke-width="2.3"/><line x1="58.9" y1="165.6" x2="65.9" y2="165.5" stroke="#A3D379" stroke-width="2.3"/><line x1="65.9" y1="165.5" x2="71.9" y2="165.5" stroke="#BAD758" stroke-width="2.3"/><line x1="71.9" y1="165.5" x2="77.9" y2="165.5" stroke="#BCD856" stroke-width="2.3"/><line x1="77.9" y1="165.5" x2="83.9" y2="165.4" stroke="#C9DA49" stroke-width="2.3"/><line x1="52.4" y1="163.4" x2="58.9" y2="163.4" stroke="#B7D75C" stroke-width="2.3"/><line x1="58.9" y1="163.4" x2="65.9" y2="163.3" stroke="#D5DC3C" stroke-width="2.3"/><line x1="65.9" y1="163.3" x2="71.9" y2="163.3" stroke="#D7DD3A" stroke-width="2.3"/><line x1="71.9" y1="163.3" x2="77.9" y2="163.3" stroke="#D6DD3B" stroke-width="2.3"/><line x1="77.9" y1="163.3" x2="83.9" y2="163.2" stroke="#C1D951" stroke-width="2.3"/><line x1="52.4" y1="161.2" x2="58.9" y2="161.2" stroke="#CBDB46" stroke-width="2.3"/><line x1="58.9" y1="161.2" x2="65.9" y2="161.2" stroke="#EEE122" stroke-width="2.3"/><line x1="65.9" y1="161.2" x2="71.9" y2="161.2" stroke="#B1D661" stroke-width="2.3"/><line x1="71.9" y1="161.2" x2="77.9" y2="161.2" stroke="#D1DC40" stroke-width="2.3"/><line x1="77.9" y1="161.2" x2="83.9" y2="161.2" stroke="#C5D94D" stroke-width="2.3"/><line x1="52.4" y1="159.0" x2="58.9" y2="159.0" stroke="#C1D951" stroke-width="2.3"/><line x1="58.9" y1="159.0" x2="65.9" y2="159.0" stroke="#F0E221" stroke-width="2.3"/><line x1="65.9" y1="159.0" x2="71.9" y2="159.1" stroke="#D9DD38" stroke-width="2.3"/><line x1="71.9" y1="159.1" x2="77.9" y2="159.1" stroke="#B8D75B" stroke-width="2.3"/><line x1="77.9" y1="159.1" x2="83.9" y2="159.1" stroke="#C3D94E" stroke-width="2.3"/><line x1="52.4" y1="156.8" x2="58.9" y2="156.8" stroke="#98D294" stroke-width="2.3"/><line x1="58.9" y1="156.8" x2="65.9" y2="156.8" stroke="#A8D46B" stroke-width="2.3"/><line x1="65.9" y1="156.8" x2="71.9" y2="156.9" stroke="#BDD855" stroke-width="2.3"/><line x1="71.9" y1="156.9" x2="77.9" y2="156.9" stroke="#BBD857" stroke-width="2.3"/><line x1="77.9" y1="156.9" x2="83.9" y2="156.9" stroke="#B8D75A" stroke-width="2.3"/><line x1="52.4" y1="154.6" x2="58.9" y2="154.7" stroke="#8ED1AA" stroke-width="2.3"/><line x1="58.9" y1="154.7" x2="65.9" y2="154.7" stroke="#A1D37E" stroke-width="2.3"/><line x1="65.9" y1="154.7" x2="71.9" y2="154.8" stroke="#EBE125" stroke-width="2.3"/><line x1="71.9" y1="154.8" x2="77.9" y2="154.8" stroke="#BAD758" stroke-width="2.3"/><line x1="77.9" y1="154.8" x2="83.9" y2="154.9" stroke="#B5D65D" stroke-width="2.3"/><line x1="52.5" y1="152.4" x2="59.0" y2="152.5" stroke="#89D0B8" stroke-width="2.3"/><line x1="59.0" y1="152.5" x2="66.0" y2="152.6" stroke="#C0D852" stroke-width="2.3"/><line x1="66.0" y1="152.6" x2="72.0" y2="152.7" stroke="#CDDB45" stroke-width="2.3"/><line x1="72.0" y1="152.7" x2="78.0" y2="152.8" stroke="#D4DC3D" stroke-width="2.3"/><line x1="78.0" y1="152.8" x2="84.0" y2="152.9" stroke="#B7D75C" stroke-width="2.3"/><line x1="52.5" y1="150.2" x2="59.0" y2="150.3" stroke="#D7DD3A" stroke-width="2.3"/><line x1="59.0" y1="150.3" x2="66.0" y2="150.4" stroke="#E3DF2E" stroke-width="2.3"/><line x1="66.0" y1="150.4" x2="72.0" y2="150.5" stroke="#E6E02B" stroke-width="2.3"/><line x1="72.0" y1="150.5" x2="78.0" y2="150.6" stroke="#D4DC3D" stroke-width="2.3"/><line x1="78.0" y1="150.6" x2="84.0" y2="150.7" stroke="#C8DA4A" stroke-width="2.3"/><line x1="52.6" y1="148.0" x2="59.1" y2="148.2" stroke="#C5D94C" stroke-width="2.3"/><line x1="59.1" y1="148.2" x2="66.1" y2="148.3" stroke="#E6E02B" stroke-width="2.3"/><line x1="66.1" y1="148.3" x2="72.1" y2="148.5" stroke="#E1DF30" stroke-width="2.3"/><line x1="72.1" y1="148.5" x2="78.0" y2="148.6" stroke="#D3DC3E" stroke-width="2.3"/><line x1="78.0" y1="148.6" x2="84.0" y2="148.7" stroke="#C5D94D" stroke-width="2.3"/><line x1="52.6" y1="145.8" x2="59.1" y2="146.0" stroke="#8AD0B6" stroke-width="2.3"/><line x1="59.1" y1="146.0" x2="66.1" y2="146.3" stroke="#E2DF2F" stroke-width="2.3"/><line x1="66.1" y1="146.3" x2="72.1" y2="146.5" stroke="#B3D65F" stroke-width="2.3"/><line x1="72.1" y1="146.5" x2="78.1" y2="146.7" stroke="#B6D65C" stroke-width="2.3"/><line x1="78.1" y1="146.7" x2="84.1" y2="146.9" stroke="#B6D65D" stroke-width="2.3"/><line x1="52.7" y1="143.6" x2="59.2" y2="143.9" stroke="#93D19F" stroke-width="2.3"/><line x1="59.2" y1="143.9" x2="66.2" y2="144.2" stroke="#9DD386" stroke-width="2.3"/><line x1="66.2" y1="144.2" x2="72.2" y2="144.5" stroke="#B5D65E" stroke-width="2.3"/><line x1="72.2" y1="144.5" x2="78.2" y2="144.7" stroke="#B4D65E" stroke-width="2.3"/><line x1="78.2" y1="144.7" x2="84.2" y2="145.0" stroke="#C5D94D" stroke-width="2.3"/><line x1="52.8" y1="141.4" x2="59.3" y2="141.8" stroke="#D6DD3B" stroke-width="2.3"/><line x1="59.3" y1="141.8" x2="66.3" y2="142.1" stroke="#CCDB46" stroke-width="2.3"/><line x1="66.3" y1="142.1" x2="72.3" y2="142.4" stroke="#D5DC3D" stroke-width="2.3"/><line x1="72.3" y1="142.4" x2="78.3" y2="142.7" stroke="#CADA48" stroke-width="2.3"/><line x1="78.3" y1="142.7" x2="84.3" y2="143.0" stroke="#C0D853" stroke-width="2.3"/><line x1="53.0" y1="139.2" x2="59.5" y2="139.6" stroke="#C5D94C" stroke-width="2.3"/><line x1="59.5" y1="139.6" x2="66.4" y2="140.0" stroke="#DFDE32" stroke-width="2.3"/><line x1="66.4" y1="140.0" x2="72.4" y2="140.4" stroke="#E0DF30" stroke-width="2.3"/><line x1="72.4" y1="140.4" x2="78.4" y2="140.7" stroke="#CFDB42" stroke-width="2.3"/><line x1="78.4" y1="140.7" x2="84.4" y2="141.1" stroke="#C3D94F" stroke-width="2.3"/><line x1="53.1" y1="137.0" x2="59.6" y2="137.5" stroke="#D0DC41" stroke-width="2.3"/><line x1="59.6" y1="137.5" x2="66.6" y2="137.9" stroke="#DEDE33" stroke-width="2.3"/><line x1="66.6" y1="137.9" x2="72.6" y2="138.3" stroke="#E5E02C" stroke-width="2.3"/><line x1="72.6" y1="138.3" x2="78.5" y2="138.6" stroke="#D0DB42" stroke-width="2.3"/><line x1="78.5" y1="138.6" x2="84.5" y2="139.0" stroke="#C5D94C" stroke-width="2.3"/><line x1="53.2" y1="134.8" x2="59.7" y2="135.3" stroke="#9ED385" stroke-width="2.3"/><line x1="59.7" y1="135.3" x2="66.7" y2="135.7" stroke="#DBDE35" stroke-width="2.3"/><line x1="66.7" y1="135.7" x2="72.7" y2="136.1" stroke="#C3D94F" stroke-width="2.3"/><line x1="72.7" y1="136.1" x2="78.7" y2="136.5" stroke="#BFD853" stroke-width="2.3"/><line x1="78.7" y1="136.5" x2="84.7" y2="136.9" stroke="#BAD758" stroke-width="2.3"/><line x1="53.4" y1="132.7" x2="59.9" y2="133.1" stroke="#8CD1B1" stroke-width="2.3"/><line x1="59.9" y1="133.1" x2="66.9" y2="133.6" stroke="#9BD28D" stroke-width="2.3"/><line x1="66.9" y1="133.6" x2="72.8" y2="134.0" stroke="#B9D75A" stroke-width="2.3"/><line x1="72.8" y1="134.0" x2="78.8" y2="134.4" stroke="#B5D65D" stroke-width="2.3"/><line x1="78.8" y1="134.4" x2="84.8" y2="134.8" stroke="#B2D661" stroke-width="2.3"/><line x1="53.5" y1="130.5" x2="60.0" y2="130.9" stroke="#B4D65F" stroke-width="2.3"/><line x1="60.0" y1="130.9" x2="67.0" y2="131.4" stroke="#A4D376" stroke-width="2.3"/><line x1="67.0" y1="131.4" x2="73.0" y2="131.8" stroke="#D4DC3D" stroke-width="2.3"/><line x1="73.0" y1="131.8" x2="79.0" y2="132.2" stroke="#C9DA49" stroke-width="2.3"/><line x1="79.0" y1="132.2" x2="85.0" y2="132.6" stroke="#BFD853" stroke-width="2.3"/><line x1="53.7" y1="128.3" x2="60.2" y2="128.7" stroke="#D7DD3A" stroke-width="2.3"/><line x1="60.2" y1="128.7" x2="67.2" y2="129.2" stroke="#EFE121" stroke-width="2.3"/><line x1="67.2" y1="129.2" x2="73.1" y2="129.7" stroke="#E6E02A" stroke-width="2.3"/><line x1="73.1" y1="129.7" x2="79.1" y2="130.1" stroke="#D6DD3B" stroke-width="2.3"/><line x1="79.1" y1="130.1" x2="85.1" y2="130.5" stroke="#C4D94E" stroke-width="2.3"/><line x1="53.9" y1="126.1" x2="60.3" y2="126.6" stroke="#B4D65E" stroke-width="2.3"/><line x1="60.3" y1="126.6" x2="67.3" y2="127.1" stroke="#CBDB46" stroke-width="2.3"/><line x1="67.3" y1="127.1" x2="73.3" y2="127.6" stroke="#D8DD39" stroke-width="2.3"/><line x1="73.3" y1="127.6" x2="79.3" y2="128.0" stroke="#C9DA48" stroke-width="2.3"/><line x1="79.3" y1="128.0" x2="85.3" y2="128.5" stroke="#C0D852" stroke-width="2.3"/><line x1="54.0" y1="123.9" x2="60.5" y2="124.4" stroke="#9CD389" stroke-width="2.3"/><line x1="60.5" y1="124.4" x2="67.5" y2="125.0" stroke="#F2E21E" stroke-width="2.3"/><line x1="67.5" y1="125.0" x2="73.5" y2="125.5" stroke="#EAE126" stroke-width="2.3"/><line x1="73.5" y1="125.5" x2="79.5" y2="126.0" stroke="#BCD856" stroke-width="2.3"/><line x1="79.5" y1="126.0" x2="85.4" y2="126.4" stroke="#B8D75B" stroke-width="2.3"/><line x1="54.2" y1="121.7" x2="60.7" y2="122.2" stroke="#95D29B" stroke-width="2.3"/><line x1="60.7" y1="122.2" x2="67.7" y2="122.8" stroke="#9BD28D" stroke-width="2.3"/><line x1="67.7" y1="122.8" x2="73.7" y2="123.3" stroke="#EEE122" stroke-width="2.3"/><line x1="73.7" y1="123.3" x2="79.6" y2="123.8" stroke="#B8D75B" stroke-width="2.3"/><line x1="79.6" y1="123.8" x2="85.6" y2="124.4" stroke="#B6D65C" stroke-width="2.3"/><line x1="54.4" y1="119.5" x2="60.9" y2="120.1" stroke="#A8D46C" stroke-width="2.3"/><line x1="60.9" y1="120.1" x2="67.9" y2="120.7" stroke="#C0D852" stroke-width="2.3"/><line x1="67.9" y1="120.7" x2="73.8" y2="121.2" stroke="#CDDB45" stroke-width="2.3"/><line x1="73.8" y1="121.2" x2="79.8" y2="121.7" stroke="#C5D94D" stroke-width="2.3"/><line x1="79.8" y1="121.7" x2="85.8" y2="122.2" stroke="#BDD855" stroke-width="2.3"/><line x1="54.6" y1="117.3" x2="61.1" y2="117.9" stroke="#D2DC3F" stroke-width="2.3"/><line x1="61.1" y1="117.9" x2="68.1" y2="118.5" stroke="#EBE125" stroke-width="2.3"/><line x1="68.1" y1="118.5" x2="74.0" y2="119.0" stroke="#E2DF2F" stroke-width="2.3"/><line x1="74.0" y1="119.0" x2="80.0" y2="119.5" stroke="#B3D65F" stroke-width="2.3"/><line x1="80.0" y1="119.5" x2="86.0" y2="120.0" stroke="#C5D94C" stroke-width="2.3"/><line x1="54.8" y1="115.1" x2="61.3" y2="115.7" stroke="#C0D852" stroke-width="2.3"/><line x1="61.3" y1="115.7" x2="68.2" y2="116.3" stroke="#9BD28C" stroke-width="2.3"/><line x1="68.2" y1="116.3" x2="74.2" y2="116.8" stroke="#E0DF30" stroke-width="2.3"/><line x1="74.2" y1="116.8" x2="80.2" y2="117.3" stroke="#CDDB44" stroke-width="2.3"/><line x1="80.2" y1="117.3" x2="86.2" y2="117.8" stroke="#C3D94E" stroke-width="2.3"/><line x1="54.9" y1="112.9" x2="61.4" y2="113.3" stroke="#98D294" stroke-width="2.3"/><line x1="61.4" y1="113.3" x2="68.4" y2="113.7" stroke="#E8E028" stroke-width="2.3"/><line x1="68.4" y1="113.7" x2="74.4" y2="114.1" stroke="#BDD855" stroke-width="2.3"/><line x1="74.4" y1="114.1" x2="80.4" y2="114.4" stroke="#B3D65F" stroke-width="2.3"/><line x1="80.4" y1="114.4" x2="86.4" y2="114.8" stroke="#B8D75B" stroke-width="2.3"/><line x1="55.0" y1="110.7" x2="61.5" y2="111.0" stroke="#97D297" stroke-width="2.3"/><line x1="61.5" y1="111.0" x2="68.5" y2="111.3" stroke="#A3D379" stroke-width="2.3"/><line x1="68.5" y1="111.3" x2="74.5" y2="111.6" stroke="#B5D65E" stroke-width="2.3"/><line x1="74.5" y1="111.6" x2="80.5" y2="111.8" stroke="#B9D759" stroke-width="2.3"/><line x1="80.5" y1="111.8" x2="86.5" y2="112.1" stroke="#B6D65D" stroke-width="2.3"/><line x1="55.1" y1="108.5" x2="61.6" y2="108.8" stroke="#D4DC3D" stroke-width="2.3"/><line x1="61.6" y1="108.8" x2="68.6" y2="109.1" stroke="#B4D65F" stroke-width="2.3"/><line x1="68.6" y1="109.1" x2="74.6" y2="109.3" stroke="#C4D94E" stroke-width="2.3"/><line x1="74.6" y1="109.3" x2="80.6" y2="109.6" stroke="#C0D852" stroke-width="2.3"/><line x1="80.6" y1="109.6" x2="86.6" y2="109.9" stroke="#BAD759" stroke-width="2.3"/><line x1="55.3" y1="106.3" x2="61.8" y2="106.7" stroke="#D9DD38" stroke-width="2.3"/><line x1="61.8" y1="106.7" x2="68.7" y2="107.1" stroke="#EBE126" stroke-width="2.3"/><line x1="68.7" y1="107.1" x2="74.7" y2="107.4" stroke="#E1DF2F" stroke-width="2.3"/><line x1="74.7" y1="107.4" x2="80.7" y2="107.7" stroke="#D6DD3B" stroke-width="2.3"/><line x1="80.7" y1="107.7" x2="86.7" y2="108.0" stroke="#C5D94C" stroke-width="2.3"/><line x1="55.5" y1="104.1" x2="61.9" y2="104.6" stroke="#D5DC3C" stroke-width="2.3"/><line x1="61.9" y1="104.6" x2="68.9" y2="105.2" stroke="#EAE026" stroke-width="2.3"/><line x1="68.9" y1="105.2" x2="74.9" y2="105.7" stroke="#EFE122" stroke-width="2.3"/><line x1="74.9" y1="105.7" x2="80.9" y2="106.1" stroke="#D5DC3D" stroke-width="2.3"/><line x1="80.9" y1="106.1" x2="86.9" y2="106.6" stroke="#C6DA4C" stroke-width="2.3"/><line x1="55.7" y1="102.0" x2="62.2" y2="103.0" stroke="#A4D376" stroke-width="2.3"/><line x1="62.2" y1="103.0" x2="69.1" y2="104.1" stroke="#BAD758" stroke-width="2.3"/><line x1="69.1" y1="104.1" x2="75.0" y2="105.0" stroke="#C8DA49" stroke-width="2.3"/><line x1="75.0" y1="105.0" x2="80.9" y2="106.0" stroke="#C2D950" stroke-width="2.3"/><line x1="80.9" y1="106.0" x2="86.9" y2="106.9" stroke="#B7D75C" stroke-width="2.3"/><line x1="56.1" y1="99.9" x2="62.5" y2="101.1" stroke="#8AD0B4" stroke-width="2.3"/><line x1="62.5" y1="101.1" x2="69.4" y2="102.5" stroke="#A8D46D" stroke-width="2.3"/><line x1="69.4" y1="102.5" x2="75.3" y2="103.7" stroke="#AFD564" stroke-width="2.3"/><line x1="75.3" y1="103.7" x2="81.2" y2="104.8" stroke="#B5D65D" stroke-width="2.3"/><line x1="81.2" y1="104.8" x2="87.0" y2="106.0" stroke="#B4D65F" stroke-width="2.3"/><line x1="56.6" y1="97.7" x2="62.9" y2="99.2" stroke="#D3DC3E" stroke-width="2.3"/><line x1="62.9" y1="99.2" x2="69.8" y2="100.7" stroke="#B0D563" stroke-width="2.3"/><line x1="69.8" y1="100.7" x2="75.6" y2="102.0" stroke="#C3D94F" stroke-width="2.3"/><line x1="75.6" y1="102.0" x2="81.5" y2="103.4" stroke="#C0D852" stroke-width="2.3"/><line x1="81.5" y1="103.4" x2="87.3" y2="104.7" stroke="#BAD758" stroke-width="2.3"/><line x1="57.1" y1="95.6" x2="63.5" y2="97.0" stroke="#D8DD39" stroke-width="2.3"/><line x1="63.5" y1="97.0" x2="70.3" y2="98.6" stroke="#E1DF30" stroke-width="2.3"/><line x1="70.3" y1="98.6" x2="76.1" y2="99.9" stroke="#E8E029" stroke-width="2.3"/><line x1="76.1" y1="99.9" x2="82.0" y2="101.2" stroke="#D7DD3A" stroke-width="2.3"/><line x1="82.0" y1="101.2" x2="87.8" y2="102.6" stroke="#C5D94D" stroke-width="2.3"/><line x1="57.7" y1="93.5" x2="64.0" y2="95.0" stroke="#B3D65F" stroke-width="2.3"/><line x1="64.0" y1="95.0" x2="70.8" y2="96.7" stroke="#99D290" stroke-width="2.3"/><line x1="70.8" y1="96.7" x2="76.6" y2="98.2" stroke="#D4DC3E" stroke-width="2.3"/><line x1="76.6" y1="98.2" x2="82.4" y2="99.6" stroke="#B5D65D" stroke-width="2.3"/><line x1="82.4" y1="99.6" x2="88.2" y2="101.1" stroke="#B5D65E" stroke-width="2.3"/><line x1="58.3" y1="91.3" x2="64.5" y2="93.0" stroke="#CDDB45" stroke-width="2.3"/><line x1="64.5" y1="93.0" x2="71.3" y2="94.9" stroke="#A8D46B" stroke-width="2.3"/><line x1="71.3" y1="94.9" x2="77.1" y2="96.4" stroke="#B3D660" stroke-width="2.3"/><line x1="77.1" y1="96.4" x2="82.9" y2="98.0" stroke="#BED854" stroke-width="2.3"/><line x1="82.9" y1="98.0" x2="88.7" y2="99.5" stroke="#B7D75B" stroke-width="2.3"/><line x1="58.9" y1="89.2" x2="65.1" y2="91.1" stroke="#95D29A" stroke-width="2.3"/><line x1="65.1" y1="91.1" x2="71.8" y2="93.0" stroke="#A4D377" stroke-width="2.3"/><line x1="71.8" y1="93.0" x2="77.6" y2="94.7" stroke="#B8D75B" stroke-width="2.3"/><line x1="77.6" y1="94.7" x2="83.4" y2="96.4" stroke="#B7D75B" stroke-width="2.3"/><line x1="83.4" y1="96.4" x2="89.1" y2="98.1" stroke="#B5D65D" stroke-width="2.3"/><line x1="59.5" y1="87.2" x2="65.7" y2="89.1" stroke="#D7DD3A" stroke-width="2.3"/><line x1="65.7" y1="89.1" x2="72.4" y2="91.2" stroke="#D4DC3E" stroke-width="2.3"/><line x1="72.4" y1="91.2" x2="78.1" y2="93.0" stroke="#D7DD3A" stroke-width="2.3"/><line x1="78.1" y1="93.0" x2="83.8" y2="94.8" stroke="#CADA47" stroke-width="2.3"/><line x1="83.8" y1="94.8" x2="89.6" y2="96.6" stroke="#C0D852" stroke-width="2.3"/><line x1="60.2" y1="85.1" x2="66.4" y2="87.2" stroke="#C7DA4B" stroke-width="2.3"/><line x1="66.4" y1="87.2" x2="73.0" y2="89.5" stroke="#EBE126" stroke-width="2.3"/><line x1="73.0" y1="89.5" x2="78.7" y2="91.4" stroke="#E9E027" stroke-width="2.3"/><line x1="78.7" y1="91.4" x2="84.3" y2="93.3" stroke="#D3DC3E" stroke-width="2.3"/><line x1="84.3" y1="93.3" x2="90.0" y2="95.3" stroke="#C6DA4C" stroke-width="2.3"/><line x1="61.0" y1="83.0" x2="67.0" y2="85.3" stroke="#BCD857" stroke-width="2.3"/><line x1="67.0" y1="85.3" x2="73.6" y2="87.8" stroke="#D4DC3D" stroke-width="2.3"/><line x1="73.6" y1="87.8" x2="79.2" y2="89.9" stroke="#D9DD38" stroke-width="2.3"/><line x1="79.2" y1="89.9" x2="84.8" y2="92.0" stroke="#CBDB47" stroke-width="2.3"/><line x1="84.8" y1="92.0" x2="90.4" y2="94.1" stroke="#C1D951" stroke-width="2.3"/><line x1="61.8" y1="81.0" x2="67.9" y2="83.3" stroke="#99D290" stroke-width="2.3"/><line x1="67.9" y1="83.3" x2="74.4" y2="85.7" stroke="#EEE123" stroke-width="2.3"/><line x1="74.4" y1="85.7" x2="80.0" y2="87.8" stroke="#BCD856" stroke-width="2.3"/><line x1="80.0" y1="87.8" x2="85.6" y2="89.9" stroke="#BDD856" stroke-width="2.3"/><line x1="85.6" y1="89.9" x2="91.3" y2="92.1" stroke="#C4D94E" stroke-width="2.3"/><line x1="62.6" y1="79.0" x2="68.6" y2="81.4" stroke="#8FD1A8" stroke-width="2.3"/><line x1="68.6" y1="81.4" x2="75.1" y2="84.1" stroke="#A8D46B" stroke-width="2.3"/><line x1="75.1" y1="84.1" x2="80.7" y2="86.4" stroke="#B8D75A" stroke-width="2.3"/><line x1="80.7" y1="86.4" x2="86.2" y2="88.7" stroke="#B6D75C" stroke-width="2.3"/><line x1="86.2" y1="88.7" x2="91.8" y2="91.0" stroke="#B5D65E" stroke-width="2.3"/><line x1="63.5" y1="77.0" x2="69.5" y2="79.6" stroke="#B8D75A" stroke-width="2.3"/><line x1="69.5" y1="79.6" x2="75.9" y2="82.5" stroke="#E9E027" stroke-width="2.3"/><line x1="75.9" y1="82.5" x2="81.4" y2="84.9" stroke="#BAD758" stroke-width="2.3"/><line x1="81.4" y1="84.9" x2="86.8" y2="87.3" stroke="#CBDB46" stroke-width="2.3"/><line x1="86.8" y1="87.3" x2="92.3" y2="89.7" stroke="#C3D94F" stroke-width="2.3"/><line x1="64.5" y1="75.0" x2="70.4" y2="77.8" stroke="#CCDB45" stroke-width="2.3"/><line x1="70.4" y1="77.8" x2="76.7" y2="80.8" stroke="#A8D46D" stroke-width="2.3"/><line x1="76.7" y1="80.8" x2="82.1" y2="83.4" stroke="#DEDE33" stroke-width="2.3"/><line x1="82.1" y1="83.4" x2="87.5" y2="85.9" stroke="#D1DC40" stroke-width="2.3"/><line x1="87.5" y1="85.9" x2="93.0" y2="88.5" stroke="#C6DA4C" stroke-width="2.3"/><line x1="65.5" y1="73.1" x2="71.3" y2="76.0" stroke="#C1D951" stroke-width="2.3"/><line x1="71.3" y1="76.0" x2="77.5" y2="79.2" stroke="#E0DE31" stroke-width="2.3"/><line x1="77.5" y1="79.2" x2="82.9" y2="81.9" stroke="#DCDE35" stroke-width="2.3"/><line x1="82.9" y1="81.9" x2="88.2" y2="84.6" stroke="#CEDB43" stroke-width="2.3"/><line x1="88.2" y1="84.6" x2="93.6" y2="87.4" stroke="#C2D950" stroke-width="2.3"/><line x1="66.6" y1="71.2" x2="72.3" y2="74.3" stroke="#94D29C" stroke-width="2.3"/><line x1="72.3" y1="74.3" x2="78.4" y2="77.7" stroke="#A5D474" stroke-width="2.3"/><line x1="78.4" y1="77.7" x2="83.6" y2="80.6" stroke="#EFE121" stroke-width="2.3"/><line x1="83.6" y1="80.6" x2="88.9" y2="83.5" stroke="#B9D75A" stroke-width="2.3"/><line x1="88.9" y1="83.5" x2="94.1" y2="86.4" stroke="#B4D65F" stroke-width="2.3"/><line x1="67.7" y1="69.3" x2="73.3" y2="72.7" stroke="#93D19F" stroke-width="2.3"/><line x1="73.3" y1="72.7" x2="79.3" y2="76.4" stroke="#A9D46A" stroke-width="2.3"/><line x1="79.3" y1="76.4" x2="84.4" y2="79.5" stroke="#BED854" stroke-width="2.3"/><line x1="84.4" y1="79.5" x2="89.5" y2="82.6" stroke="#BBD857" stroke-width="2.3"/><line x1="89.5" y1="82.6" x2="94.6" y2="85.7" stroke="#B7D75C" stroke-width="2.3"/><line x1="69.0" y1="67.6" x2="74.4" y2="71.2" stroke="#A2D37B" stroke-width="2.3"/><line x1="74.4" y1="71.2" x2="80.1" y2="75.2" stroke="#BAD758" stroke-width="2.3"/><line x1="80.1" y1="75.2" x2="85.1" y2="78.6" stroke="#C6DA4C" stroke-width="2.3"/><line x1="85.1" y1="78.6" x2="90.1" y2="81.9" stroke="#B5D65D" stroke-width="2.3"/><line x1="90.1" y1="81.9" x2="95.0" y2="85.3" stroke="#BCD857" stroke-width="2.3"/><line x1="70.4" y1="65.9" x2="75.1" y2="70.4" stroke="#D4DC3D" stroke-width="2.3"/><line x1="75.1" y1="70.4" x2="80.3" y2="75.1" stroke="#DFDE32" stroke-width="2.3"/><line x1="80.3" y1="75.1" x2="84.7" y2="79.2" stroke="#E4DF2C" stroke-width="2.3"/><line x1="84.7" y1="79.2" x2="89.0" y2="83.3" stroke="#D9DD38" stroke-width="2.3"/><line x1="89.0" y1="83.3" x2="93.4" y2="87.4" stroke="#B7D75C" stroke-width="2.3"/><line x1="72.0" y1="64.5" x2="76.2" y2="69.4" stroke="#DFDE31" stroke-width="2.3"/><line x1="76.2" y1="69.4" x2="80.9" y2="74.6" stroke="#DCDE34" stroke-width="2.3"/><line x1="80.9" y1="74.6" x2="84.8" y2="79.1" stroke="#D2DC3F" stroke-width="2.3"/><line x1="84.8" y1="79.1" x2="88.8" y2="83.6" stroke="#CADA48" stroke-width="2.3"/><line x1="88.8" y1="83.6" x2="92.7" y2="88.2" stroke="#C6DA4C" stroke-width="2.3"/><line x1="73.7" y1="63.2" x2="77.5" y2="68.5" stroke="#91D1A4" stroke-width="2.3"/><line x1="77.5" y1="68.5" x2="81.6" y2="74.2" stroke="#A7D470" stroke-width="2.3"/><line x1="81.6" y1="74.2" x2="85.1" y2="79.1" stroke="#B8D75B" stroke-width="2.3"/><line x1="85.1" y1="79.1" x2="88.6" y2="84.0" stroke="#B8D75A" stroke-width="2.3"/><line x1="88.6" y1="84.0" x2="92.1" y2="88.8" stroke="#B5D65E" stroke-width="2.3"/><line x1="75.6" y1="62.2" x2="78.4" y2="68.1" stroke="#8ED1AC" stroke-width="2.3"/><line x1="78.4" y1="68.1" x2="81.5" y2="74.3" stroke="#9ED384" stroke-width="2.3"/><line x1="81.5" y1="74.3" x2="84.1" y2="79.7" stroke="#B6D75C" stroke-width="2.3"/><line x1="84.1" y1="79.7" x2="86.8" y2="85.1" stroke="#B9D759" stroke-width="2.3"/><line x1="86.8" y1="85.1" x2="89.4" y2="90.5" stroke="#B2D660" stroke-width="2.3"/><line x1="77.5" y1="61.4" x2="80.0" y2="67.4" stroke="#AED565" stroke-width="2.3"/><line x1="80.0" y1="67.4" x2="82.7" y2="73.9" stroke="#C6DA4C" stroke-width="2.3"/><line x1="82.7" y1="73.9" x2="85.0" y2="79.4" stroke="#ADD566" stroke-width="2.3"/><line x1="85.0" y1="79.4" x2="87.2" y2="85.0" stroke="#C7DA4B" stroke-width="2.3"/><line x1="87.2" y1="85.0" x2="89.5" y2="90.5" stroke="#B7D75B" stroke-width="2.3"/><line x1="79.6" y1="60.7" x2="81.5" y2="66.9" stroke="#D7DD3A" stroke-width="2.3"/><line x1="81.5" y1="66.9" x2="83.5" y2="73.6" stroke="#ECE125" stroke-width="2.3"/><line x1="83.5" y1="73.6" x2="85.2" y2="79.4" stroke="#EAE026" stroke-width="2.3"/><line x1="85.2" y1="79.4" x2="86.9" y2="85.1" stroke="#D5DC3C" stroke-width="2.3"/><line x1="86.9" y1="85.1" x2="88.7" y2="90.9" stroke="#C7DA4B" stroke-width="2.3"/><line x1="81.7" y1="60.2" x2="83.3" y2="66.5" stroke="#F2DB1E" stroke-width="2.3"/><line x1="83.3" y1="66.5" x2="85.0" y2="73.3" stroke="#DADD37" stroke-width="2.3"/><line x1="85.0" y1="73.3" x2="86.4" y2="79.1" stroke="#A9D46A" stroke-width="2.3"/><line x1="86.4" y1="79.1" x2="87.9" y2="84.9" stroke="#CEDB44" stroke-width="2.3"/><line x1="87.9" y1="84.9" x2="89.3" y2="90.7" stroke="#B2D661" stroke-width="2.3"/><line x1="83.8" y1="60.0" x2="84.2" y2="66.5" stroke="#8AD0B5" stroke-width="2.3"/><line x1="84.2" y1="66.5" x2="84.7" y2="73.5" stroke="#94D29C" stroke-width="2.3"/><line x1="84.7" y1="73.5" x2="85.1" y2="79.4" stroke="#AAD469" stroke-width="2.3"/><line x1="85.1" y1="79.4" x2="85.6" y2="85.4" stroke="#B2D661" stroke-width="2.3"/><line x1="85.6" y1="85.4" x2="86.0" y2="91.4" stroke="#B5D65E" stroke-width="2.3"/><line x1="85.9" y1="60.1" x2="85.3" y2="66.6" stroke="#EFE221" stroke-width="2.3"/><line x1="85.3" y1="66.6" x2="84.6" y2="73.5" stroke="#81CFCA" stroke-width="2.3"/><line x1="84.6" y1="73.5" x2="84.0" y2="79.5" stroke="#A8D46C" stroke-width="2.3"/><line x1="84.0" y1="79.5" x2="83.5" y2="85.5" stroke="#E2DF2E" stroke-width="2.3"/><line x1="83.5" y1="85.5" x2="82.9" y2="91.4" stroke="#A9D46A" stroke-width="2.3"/><line x1="88.0" y1="60.5" x2="86.8" y2="66.8" stroke="#C6DA4C" stroke-width="2.3"/><line x1="86.8" y1="66.8" x2="85.5" y2="73.6" stroke="#F1A71F" stroke-width="2.3"/><line x1="85.5" y1="73.6" x2="84.4" y2="79.5" stroke="#DFDE31" stroke-width="2.3"/><line x1="84.4" y1="79.5" x2="83.2" y2="85.3" stroke="#D0DB42" stroke-width="2.3"/><line x1="83.2" y1="85.3" x2="82.1" y2="91.1" stroke="#ACD566" stroke-width="2.3"/><line x1="90.2" y1="61.0" x2="88.8" y2="67.2" stroke="#F2D11E" stroke-width="2.3"/><line x1="88.8" y1="67.2" x2="87.3" y2="74.0" stroke="#F2D41E" stroke-width="2.3"/><line x1="87.3" y1="74.0" x2="86.0" y2="79.7" stroke="#F2D71E" stroke-width="2.3"/><line x1="86.0" y1="79.7" x2="84.7" y2="85.5" stroke="#A7D46F" stroke-width="2.3"/><line x1="84.7" y1="85.5" x2="83.4" y2="91.3" stroke="#CEDB43" stroke-width="2.3"/><line x1="92.3" y1="61.5" x2="90.6" y2="67.6" stroke="#85D0C1" stroke-width="2.3"/><line x1="90.6" y1="67.6" x2="88.8" y2="74.3" stroke="#ECE124" stroke-width="2.3"/><line x1="88.8" y1="74.3" x2="87.2" y2="79.9" stroke="#E8E028" stroke-width="2.3"/><line x1="87.2" y1="79.9" x2="85.7" y2="85.6" stroke="#E7E029" stroke-width="2.3"/><line x1="85.7" y1="85.6" x2="84.1" y2="91.2" stroke="#C5D94D" stroke-width="2.3"/><line x1="94.4" y1="62.1" x2="92.5" y2="68.2" stroke="#94D29D" stroke-width="2.3"/><line x1="92.5" y1="68.2" x2="90.5" y2="74.7" stroke="#A0D381" stroke-width="2.3"/><line x1="90.5" y1="74.7" x2="88.8" y2="80.3" stroke="#B3D65F" stroke-width="2.3"/><line x1="88.8" y1="80.3" x2="87.1" y2="85.9" stroke="#B9D759" stroke-width="2.3"/><line x1="87.1" y1="85.9" x2="85.3" y2="91.5" stroke="#CCDB45" stroke-width="2.3"/><line x1="96.4" y1="62.9" x2="94.2" y2="68.7" stroke="#83D0C6" stroke-width="2.3"/><line x1="94.2" y1="68.7" x2="91.8" y2="75.0" stroke="#92D1A0" stroke-width="2.3"/><line x1="91.8" y1="75.0" x2="89.7" y2="80.4" stroke="#9CD389" stroke-width="2.3"/><line x1="89.7" y1="80.4" x2="87.6" y2="85.8" stroke="#A9D46A" stroke-width="2.3"/><line x1="87.6" y1="85.8" x2="85.6" y2="91.1" stroke="#B0D562" stroke-width="2.3"/><line x1="98.4" y1="63.7" x2="96.0" y2="69.4" stroke="#A3D378" stroke-width="2.3"/><line x1="96.0" y1="69.4" x2="93.4" y2="75.5" stroke="#87D0BD" stroke-width="2.3"/><line x1="93.4" y1="75.5" x2="91.1" y2="80.8" stroke="#F2C81E" stroke-width="2.3"/><line x1="91.1" y1="80.8" x2="88.9" y2="86.1" stroke="#C2D950" stroke-width="2.3"/><line x1="88.9" y1="86.1" x2="86.6" y2="91.3" stroke="#BBD757" stroke-width="2.3"/><line x1="100.4" y1="64.7" x2="97.5" y2="70.0" stroke="#F2E11E" stroke-width="2.3"/><line x1="97.5" y1="70.0" x2="94.5" y2="75.8" stroke="#F1C41F" stroke-width="2.3"/><line x1="94.5" y1="75.8" x2="91.8" y2="80.8" stroke="#EFE121" stroke-width="2.3"/><line x1="91.8" y1="80.8" x2="89.2" y2="85.7" stroke="#DBDE36" stroke-width="2.3"/><line x1="89.2" y1="85.7" x2="86.6" y2="90.7" stroke="#CADA47" stroke-width="2.3"/><line x1="102.3" y1="65.7" x2="99.3" y2="70.9" stroke="#EBE125" stroke-width="2.3"/><line x1="99.3" y1="70.9" x2="96.0" y2="76.6" stroke="#F2DC1E" stroke-width="2.3"/><line x1="96.0" y1="76.6" x2="93.3" y2="81.4" stroke="#F1BB1F" stroke-width="2.3"/><line x1="93.3" y1="81.4" x2="90.5" y2="86.2" stroke="#E1DF2F" stroke-width="2.3"/><line x1="90.5" y1="86.2" x2="87.7" y2="91.0" stroke="#CADA48" stroke-width="2.3"/><line x1="104.1" y1="66.9" x2="101.0" y2="72.0" stroke="#90D1A7" stroke-width="2.3"/><line x1="101.0" y1="72.0" x2="97.6" y2="77.4" stroke="#A8D46C" stroke-width="2.3"/><line x1="97.6" y1="77.4" x2="94.7" y2="82.1" stroke="#B4D65F" stroke-width="2.3"/><line x1="94.7" y1="82.1" x2="91.8" y2="86.8" stroke="#BAD759" stroke-width="2.3"/><line x1="91.8" y1="86.8" x2="88.9" y2="91.5" stroke="#B7D75C" stroke-width="2.3"/><line x1="105.9" y1="68.1" x2="102.5" y2="72.9" stroke="#F1B61F" stroke-width="2.3"/><line x1="102.5" y1="72.9" x2="98.9" y2="78.0" stroke="#94D29D" stroke-width="2.3"/><line x1="98.9" y1="78.0" x2="95.8" y2="82.4" stroke="#F2D61E" stroke-width="2.3"/><line x1="95.8" y1="82.4" x2="92.7" y2="86.9" stroke="#B1D562" stroke-width="2.3"/><line x1="92.7" y1="86.9" x2="89.6" y2="91.3" stroke="#B3D65F" stroke-width="2.3"/><line x1="107.7" y1="69.4" x2="104.2" y2="74.0" stroke="#F2CE1E" stroke-width="2.3"/><line x1="104.2" y1="74.0" x2="100.4" y2="79.0" stroke="#F19F1F" stroke-width="2.3"/><line x1="100.4" y1="79.0" x2="97.2" y2="83.3" stroke="#C0D852" stroke-width="2.3"/><line x1="97.2" y1="83.3" x2="94.0" y2="87.6" stroke="#DEDE33" stroke-width="2.3"/><line x1="94.0" y1="87.6" x2="90.8" y2="91.8" stroke="#B9D759" stroke-width="2.3"/><line x1="109.4" y1="70.8" x2="105.8" y2="75.2" stroke="#83D0C7" stroke-width="2.3"/><line x1="105.8" y1="75.2" x2="101.9" y2="80.1" stroke="#EEE122" stroke-width="2.3"/><line x1="101.9" y1="80.1" x2="98.6" y2="84.2" stroke="#F1BE1F" stroke-width="2.3"/><line x1="98.6" y1="84.2" x2="95.3" y2="88.3" stroke="#DDDE34" stroke-width="2.3"/><line x1="95.3" y1="88.3" x2="92.0" y2="92.4" stroke="#ABD468" stroke-width="2.3"/><line x1="111.0" y1="72.2" x2="107.2" y2="76.3" stroke="#D5DD3C" stroke-width="2.3"/><line x1="107.2" y1="76.3" x2="103.1" y2="80.7" stroke="#DCDE35" stroke-width="2.3"/><line x1="103.1" y1="80.7" x2="99.5" y2="84.4" stroke="#E3DF2E" stroke-width="2.3"/><line x1="99.5" y1="84.4" x2="96.0" y2="88.2" stroke="#D1DC40" stroke-width="2.3"/><line x1="96.0" y1="88.2" x2="92.5" y2="92.0" stroke="#C5D94C" stroke-width="2.3"/><line x1="112.5" y1="73.7" x2="108.6" y2="77.6" stroke="#99D290" stroke-width="2.3"/><line x1="108.6" y1="77.6" x2="104.4" y2="81.7" stroke="#ABD468" stroke-width="2.3"/><line x1="104.4" y1="81.7" x2="100.7" y2="85.2" stroke="#9DD388" stroke-width="2.3"/><line x1="100.7" y1="85.2" x2="97.1" y2="88.8" stroke="#B9D75A" stroke-width="2.3"/><line x1="97.1" y1="88.8" x2="93.4" y2="92.3" stroke="#B6D75C" stroke-width="2.3"/><line x1="114.0" y1="75.4" x2="110.0" y2="79.0" stroke="#87D0BC" stroke-width="2.3"/><line x1="110.0" y1="79.0" x2="105.6" y2="82.9" stroke="#92D1A2" stroke-width="2.3"/><line x1="105.6" y1="82.9" x2="101.9" y2="86.2" stroke="#A6D471" stroke-width="2.3"/><line x1="101.9" y1="86.2" x2="98.2" y2="89.5" stroke="#A9D46B" stroke-width="2.3"/><line x1="98.2" y1="89.5" x2="94.4" y2="92.9" stroke="#B0D562" stroke-width="2.3"/><line x1="115.4" y1="77.0" x2="111.3" y2="80.5" stroke="#63A3C3" stroke-width="2.3"/><line x1="111.3" y1="80.5" x2="106.9" y2="84.2" stroke="#B6D65D" stroke-width="2.3"/><line x1="106.9" y1="84.2" x2="103.1" y2="87.4" stroke="#C7DA4B" stroke-width="2.3"/><line x1="103.1" y1="87.4" x2="99.3" y2="90.6" stroke="#C1D951" stroke-width="2.3"/><line x1="99.3" y1="90.6" x2="95.6" y2="93.8" stroke="#CEDB43" stroke-width="2.3"/><line x1="116.8" y1="78.7" x2="112.7" y2="82.1" stroke="#F2D91E" stroke-width="2.3"/><line x1="112.7" y1="82.1" x2="108.2" y2="85.7" stroke="#F2C71E" stroke-width="2.3"/><line x1="108.2" y1="85.7" x2="104.4" y2="88.8" stroke="#F2CB1E" stroke-width="2.3"/><line x1="104.4" y1="88.8" x2="100.6" y2="91.9" stroke="#DCDE35" stroke-width="2.3"/><line x1="100.6" y1="91.9" x2="96.8" y2="95.0" stroke="#CADA48" stroke-width="2.3"/><line x1="118.2" y1="80.5" x2="114.0" y2="83.7" stroke="#6AB0C7" stroke-width="2.3"/><line x1="114.0" y1="83.7" x2="109.5" y2="87.3" stroke="#F2C81E" stroke-width="2.3"/><line x1="109.5" y1="87.3" x2="105.7" y2="90.3" stroke="#F0E220" stroke-width="2.3"/><line x1="105.7" y1="90.3" x2="101.8" y2="93.3" stroke="#D8DD39" stroke-width="2.3"/><line x1="101.8" y1="93.3" x2="98.0" y2="96.4" stroke="#CBDA47" stroke-width="2.3"/><line x1="119.5" y1="82.2" x2="115.4" y2="85.5" stroke="#9ED386" stroke-width="2.3"/><line x1="115.4" y1="85.5" x2="110.9" y2="89.1" stroke="#A8D46D" stroke-width="2.3"/><line x1="110.9" y1="89.1" x2="107.1" y2="92.1" stroke="#C1D951" stroke-width="2.3"/><line x1="107.1" y1="92.1" x2="103.2" y2="95.2" stroke="#E4DF2C" stroke-width="2.3"/><line x1="103.2" y1="95.2" x2="99.4" y2="98.2" stroke="#B9D759" stroke-width="2.3"/><line x1="120.9" y1="83.9" x2="116.8" y2="87.3" stroke="#84D0C5" stroke-width="2.3"/><line x1="116.8" y1="87.3" x2="112.4" y2="91.0" stroke="#94D29E" stroke-width="2.3"/><line x1="112.4" y1="91.0" x2="108.6" y2="94.1" stroke="#A3D379" stroke-width="2.3"/><line x1="108.6" y1="94.1" x2="104.8" y2="97.3" stroke="#B2D660" stroke-width="2.3"/><line x1="104.8" y1="97.3" x2="101.0" y2="100.4" stroke="#B2D661" stroke-width="2.3"/><line x1="122.3" y1="85.6" x2="118.2" y2="89.0" stroke="#9ED384" stroke-width="2.3"/><line x1="118.2" y1="89.0" x2="113.7" y2="92.6" stroke="#F1B81F" stroke-width="2.3"/><line x1="113.7" y1="92.6" x2="109.9" y2="95.7" stroke="#F2C71E" stroke-width="2.3"/><line x1="109.9" y1="95.7" x2="106.1" y2="98.8" stroke="#C0D852" stroke-width="2.3"/><line x1="106.1" y1="98.8" x2="102.3" y2="101.9" stroke="#BAD758" stroke-width="2.3"/><line x1="123.6" y1="87.3" x2="119.4" y2="90.5" stroke="#F1BD1F" stroke-width="2.3"/><line x1="119.4" y1="90.5" x2="114.9" y2="93.8" stroke="#F2CE1E" stroke-width="2.3"/><line x1="114.9" y1="93.8" x2="111.0" y2="96.7" stroke="#F1BA1F" stroke-width="2.3"/><line x1="111.0" y1="96.7" x2="107.1" y2="99.6" stroke="#EAE027" stroke-width="2.3"/><line x1="107.1" y1="99.6" x2="103.3" y2="102.5" stroke="#D1DC41" stroke-width="2.3"/><line x1="124.9" y1="89.1" x2="120.7" y2="92.2" stroke="#6DB3C9" stroke-width="2.3"/><line x1="120.7" y1="92.2" x2="116.2" y2="95.5" stroke="#F2DF1E" stroke-width="2.3"/><line x1="116.2" y1="95.5" x2="112.3" y2="98.3" stroke="#F2DB1E" stroke-width="2.3"/><line x1="112.3" y1="98.3" x2="108.4" y2="101.1" stroke="#D8DD39" stroke-width="2.3"/><line x1="108.4" y1="101.1" x2="104.5" y2="104.0" stroke="#CDDB45" stroke-width="2.3"/><line x1="126.2" y1="90.9" x2="122.0" y2="94.0" stroke="#93D19F" stroke-width="2.3"/><line x1="122.0" y1="94.0" x2="117.5" y2="97.3" stroke="#A9D46B" stroke-width="2.3"/><line x1="117.5" y1="97.3" x2="113.6" y2="100.1" stroke="#BAD759" stroke-width="2.3"/><line x1="113.6" y1="100.1" x2="109.7" y2="102.9" stroke="#B9D759" stroke-width="2.3"/><line x1="109.7" y1="102.9" x2="105.8" y2="105.8" stroke="#B7D75B" stroke-width="2.3"/><line x1="127.5" y1="92.7" x2="123.3" y2="95.7" stroke="#B4D65F" stroke-width="2.3"/><line x1="123.3" y1="95.7" x2="118.7" y2="99.0" stroke="#AFD564" stroke-width="2.3"/><line x1="118.7" y1="99.0" x2="114.8" y2="101.8" stroke="#AED565" stroke-width="2.3"/><line x1="114.8" y1="101.8" x2="110.9" y2="104.6" stroke="#ACD567" stroke-width="2.3"/><line x1="110.9" y1="104.6" x2="107.0" y2="107.4" stroke="#ABD468" stroke-width="2.3"/><line x1="128.8" y1="94.5" x2="124.5" y2="97.4" stroke="#304FA5" stroke-width="2.3"/><line x1="124.5" y1="97.4" x2="120.0" y2="100.7" stroke="#304A9F" stroke-width="2.3"/><line x1="120.0" y1="100.7" x2="116.1" y2="103.4" stroke="#70B8CA" stroke-width="2.3"/><line x1="116.1" y1="103.4" x2="112.1" y2="106.2" stroke="#8DD1AE" stroke-width="2.3"/><line x1="112.1" y1="106.2" x2="108.2" y2="109.0" stroke="#99D290" stroke-width="2.3"/><line x1="130.0" y1="96.3" x2="125.8" y2="99.2" stroke="#9CD389" stroke-width="2.3"/><line x1="125.8" y1="99.2" x2="121.2" y2="102.3" stroke="#9DD386" stroke-width="2.3"/><line x1="121.2" y1="102.3" x2="117.2" y2="105.0" stroke="#A3D379" stroke-width="2.3"/><line x1="117.2" y1="105.0" x2="113.3" y2="107.7" stroke="#A5D473" stroke-width="2.3"/><line x1="113.3" y1="107.7" x2="109.4" y2="110.4" stroke="#A6D472" stroke-width="2.3"/><line x1="131.3" y1="98.1" x2="127.0" y2="100.9" stroke="#F1A41F" stroke-width="2.3"/><line x1="127.0" y1="100.9" x2="122.3" y2="104.0" stroke="#F1B21F" stroke-width="2.3"/><line x1="122.3" y1="104.0" x2="118.4" y2="106.6" stroke="#F1C51F" stroke-width="2.3"/><line x1="118.4" y1="106.6" x2="114.4" y2="109.2" stroke="#DBDE36" stroke-width="2.3"/><line x1="114.4" y1="109.2" x2="110.5" y2="111.8" stroke="#C6DA4C" stroke-width="2.3"/><line x1="132.4" y1="99.9" x2="128.1" y2="102.7" stroke="#5186BA" stroke-width="2.3"/><line x1="128.1" y1="102.7" x2="123.4" y2="105.6" stroke="#73BDCC" stroke-width="2.3"/><line x1="123.4" y1="105.6" x2="119.4" y2="108.1" stroke="#80CFCD" stroke-width="2.3"/><line x1="119.4" y1="108.1" x2="115.5" y2="110.6" stroke="#95D29B" stroke-width="2.3"/><line x1="115.5" y1="110.6" x2="111.5" y2="113.1" stroke="#9CD389" stroke-width="2.3"/><line x1="133.5" y1="101.8" x2="129.1" y2="104.3" stroke="#66A8C5" stroke-width="2.3"/><line x1="129.1" y1="104.3" x2="124.4" y2="107.0" stroke="#5F9DC1" stroke-width="2.3"/><line x1="124.4" y1="107.0" x2="120.4" y2="109.2" stroke="#75C1CD" stroke-width="2.3"/><line x1="120.4" y1="109.2" x2="116.4" y2="111.5" stroke="#8AD0B5" stroke-width="2.3"/><line x1="116.4" y1="111.5" x2="112.3" y2="113.8" stroke="#9DD386" stroke-width="2.3"/><line x1="134.6" y1="103.8" x2="130.2" y2="106.1" stroke="#F1C51F" stroke-width="2.3"/><line x1="130.2" y1="106.1" x2="125.5" y2="108.7" stroke="#F1B81F" stroke-width="2.3"/><line x1="125.5" y1="108.7" x2="121.4" y2="110.9" stroke="#DEDE33" stroke-width="2.3"/><line x1="121.4" y1="110.9" x2="117.3" y2="113.1" stroke="#C2D950" stroke-width="2.3"/><line x1="117.3" y1="113.1" x2="113.3" y2="115.3" stroke="#BCD856" stroke-width="2.3"/><line x1="135.6" y1="105.7" x2="131.2" y2="108.0" stroke="#F1901F" stroke-width="2.3"/><line x1="131.2" y1="108.0" x2="126.4" y2="110.5" stroke="#F08320" stroke-width="2.3"/><line x1="126.4" y1="110.5" x2="122.4" y2="112.6" stroke="#F2CB1E" stroke-width="2.3"/><line x1="122.4" y1="112.6" x2="118.3" y2="114.7" stroke="#E4DF2D" stroke-width="2.3"/><line x1="118.3" y1="114.7" x2="114.2" y2="116.8" stroke="#C8DA49" stroke-width="2.3"/><line x1="136.6" y1="107.7" x2="132.1" y2="109.9" stroke="#A5D473" stroke-width="2.3"/><line x1="132.1" y1="109.9" x2="127.4" y2="112.2" stroke="#A6D472" stroke-width="2.3"/><line x1="127.4" y1="112.2" x2="123.3" y2="114.3" stroke="#A7D46E" stroke-width="2.3"/><line x1="123.3" y1="114.3" x2="119.2" y2="116.3" stroke="#A8D46D" stroke-width="2.3"/><line x1="119.2" y1="116.3" x2="115.2" y2="118.4" stroke="#A8D46B" stroke-width="2.3"/><line x1="137.5" y1="109.6" x2="133.1" y2="111.8" stroke="#365BAB" stroke-width="2.3"/><line x1="133.1" y1="111.8" x2="128.3" y2="114.0" stroke="#5790BD" stroke-width="2.3"/><line x1="128.3" y1="114.0" x2="124.2" y2="116.0" stroke="#66A9C5" stroke-width="2.3"/><line x1="124.2" y1="116.0" x2="120.1" y2="117.9" stroke="#8ED1AC" stroke-width="2.3"/><line x1="120.1" y1="117.9" x2="116.0" y2="119.9" stroke="#97D295" stroke-width="2.3"/><line x1="138.4" y1="111.6" x2="133.9" y2="113.5" stroke="#F1901F" stroke-width="2.3"/><line x1="133.9" y1="113.5" x2="129.1" y2="115.6" stroke="#F18F1F" stroke-width="2.3"/><line x1="129.1" y1="115.6" x2="125.0" y2="117.3" stroke="#F1B51F" stroke-width="2.3"/><line x1="125.0" y1="117.3" x2="120.9" y2="119.0" stroke="#DADD37" stroke-width="2.3"/><line x1="120.9" y1="119.0" x2="116.8" y2="120.8" stroke="#CADA47" stroke-width="2.3"/><line x1="139.2" y1="113.7" x2="134.7" y2="115.4" stroke="#DC2A27" stroke-width="2.3"/><line x1="134.7" y1="115.4" x2="129.9" y2="117.3" stroke="#F1951F" stroke-width="2.3"/><line x1="129.9" y1="117.3" x2="125.8" y2="118.9" stroke="#F19C1F" stroke-width="2.3"/><line x1="125.8" y1="118.9" x2="121.6" y2="120.5" stroke="#D9DD38" stroke-width="2.3"/><line x1="121.6" y1="120.5" x2="117.5" y2="122.1" stroke="#C7DA4A" stroke-width="2.3"/><line x1="139.9" y1="115.7" x2="135.4" y2="117.3" stroke="#91D1A4" stroke-width="2.3"/><line x1="135.4" y1="117.3" x2="130.6" y2="119.0" stroke="#95D29A" stroke-width="2.3"/><line x1="130.6" y1="119.0" x2="126.4" y2="120.5" stroke="#9BD28C" stroke-width="2.3"/><line x1="126.4" y1="120.5" x2="122.3" y2="121.9" stroke="#A2D37B" stroke-width="2.3"/><line x1="122.3" y1="121.9" x2="118.1" y2="123.4" stroke="#A4D377" stroke-width="2.3"/><line x1="140.6" y1="117.8" x2="136.0" y2="119.1" stroke="#8DD1AE" stroke-width="2.3"/><line x1="136.0" y1="119.1" x2="131.2" y2="120.5" stroke="#8BD1B2" stroke-width="2.3"/><line x1="131.2" y1="120.5" x2="127.0" y2="121.7" stroke="#93D19F" stroke-width="2.3"/><line x1="127.0" y1="121.7" x2="122.8" y2="122.9" stroke="#A0D380" stroke-width="2.3"/><line x1="122.8" y1="122.9" x2="118.7" y2="124.1" stroke="#A2D37A" stroke-width="2.3"/><line x1="141.1" y1="119.9" x2="136.6" y2="121.1" stroke="#F1BA1F" stroke-width="2.3"/><line x1="136.6" y1="121.1" x2="131.7" y2="122.4" stroke="#F1B51F" stroke-width="2.3"/><line x1="131.7" y1="122.4" x2="127.6" y2="123.5" stroke="#F2D61E" stroke-width="2.3"/><line x1="127.6" y1="123.5" x2="123.4" y2="124.6" stroke="#CADA47" stroke-width="2.3"/><line x1="123.4" y1="124.6" x2="119.2" y2="125.7" stroke="#BFD854" stroke-width="2.3"/><line x1="141.6" y1="122.1" x2="137.1" y2="123.2" stroke="#E5E02C" stroke-width="2.3"/><line x1="137.1" y1="123.2" x2="132.2" y2="124.4" stroke="#CEDB43" stroke-width="2.3"/><line x1="132.2" y1="124.4" x2="128.1" y2="125.4" stroke="#C7DA4B" stroke-width="2.3"/><line x1="128.1" y1="125.4" x2="123.9" y2="126.5" stroke="#B9D759" stroke-width="2.3"/><line x1="123.9" y1="126.5" x2="119.7" y2="127.5" stroke="#B2D661" stroke-width="2.3"/><line x1="142.1" y1="124.2" x2="137.6" y2="125.3" stroke="#4370B2" stroke-width="2.3"/><line x1="137.6" y1="125.3" x2="132.7" y2="126.4" stroke="#65A7C4" stroke-width="2.3"/><line x1="132.7" y1="126.4" x2="128.6" y2="127.4" stroke="#67AAC6" stroke-width="2.3"/><line x1="128.6" y1="127.4" x2="124.4" y2="128.4" stroke="#94D29D" stroke-width="2.3"/><line x1="124.4" y1="128.4" x2="120.2" y2="129.3" stroke="#9CD28A" stroke-width="2.3"/><line x1="142.6" y1="126.3" x2="138.1" y2="127.4" stroke="#4878B5" stroke-width="2.3"/><line x1="138.1" y1="127.4" x2="133.2" y2="128.6" stroke="#4777B4" stroke-width="2.3"/><line x1="133.2" y1="128.6" x2="129.1" y2="129.5" stroke="#80CFCD" stroke-width="2.3"/><line x1="129.1" y1="129.5" x2="124.9" y2="130.5" stroke="#8DD1AE" stroke-width="2.3"/><line x1="124.9" y1="130.5" x2="120.7" y2="131.5" stroke="#99D291" stroke-width="2.3"/><line x1="143.1" y1="128.5" x2="138.6" y2="129.5" stroke="#F1A21F" stroke-width="2.3"/><line x1="138.6" y1="129.5" x2="133.7" y2="130.6" stroke="#F07520" stroke-width="2.3"/><line x1="133.7" y1="130.6" x2="129.5" y2="131.5" stroke="#F2D01E" stroke-width="2.3"/><line x1="129.5" y1="131.5" x2="125.4" y2="132.5" stroke="#D2DC3F" stroke-width="2.3"/><line x1="125.4" y1="132.5" x2="121.2" y2="133.4" stroke="#CBDA47" stroke-width="2.3"/><line x1="143.6" y1="130.6" x2="139.1" y2="131.6" stroke="#DBDE36" stroke-width="2.3"/><line x1="139.1" y1="131.6" x2="134.2" y2="132.6" stroke="#DEDE33" stroke-width="2.3"/><line x1="134.2" y1="132.6" x2="130.0" y2="133.5" stroke="#C1D951" stroke-width="2.3"/><line x1="130.0" y1="133.5" x2="125.8" y2="134.4" stroke="#BDD855" stroke-width="2.3"/><line x1="125.8" y1="134.4" x2="121.6" y2="135.3" stroke="#B5D65E" stroke-width="2.3"/><line x1="144.0" y1="132.8" x2="139.5" y2="133.6" stroke="#3E68AF" stroke-width="2.3"/><line x1="139.5" y1="133.6" x2="134.6" y2="134.5" stroke="#4B7EB7" stroke-width="2.3"/><line x1="134.6" y1="134.5" x2="130.4" y2="135.3" stroke="#67AAC6" stroke-width="2.3"/><line x1="130.4" y1="135.3" x2="126.2" y2="136.0" stroke="#90D1A7" stroke-width="2.3"/><line x1="126.2" y1="136.0" x2="122.0" y2="136.8" stroke="#9BD28C" stroke-width="2.3"/><line x1="144.4" y1="135.0" x2="139.8" y2="135.7" stroke="#86D0BE" stroke-width="2.3"/><line x1="139.8" y1="135.7" x2="134.9" y2="136.5" stroke="#8CD1B1" stroke-width="2.3"/><line x1="134.9" y1="136.5" x2="130.7" y2="137.2" stroke="#8BD0B3" stroke-width="2.3"/><line x1="130.7" y1="137.2" x2="126.5" y2="137.9" stroke="#99D291" stroke-width="2.3"/><line x1="126.5" y1="137.9" x2="122.4" y2="138.5" stroke="#A1D37E" stroke-width="2.3"/><line x1="144.7" y1="137.1" x2="140.1" y2="137.7" stroke="#E13D25" stroke-width="2.3"/><line x1="140.1" y1="137.7" x2="135.2" y2="138.2" stroke="#F1A41F" stroke-width="2.3"/><line x1="135.2" y1="138.2" x2="131.0" y2="138.7" stroke="#EFE122" stroke-width="2.3"/><line x1="131.0" y1="138.7" x2="126.8" y2="139.3" stroke="#E4DF2C" stroke-width="2.3"/><line x1="126.8" y1="139.3" x2="122.6" y2="139.8" stroke="#CEDB43" stroke-width="2.3"/><line x1="144.9" y1="139.3" x2="140.3" y2="139.7" stroke="#95D29A" stroke-width="2.3"/><line x1="140.3" y1="139.7" x2="135.4" y2="140.2" stroke="#98D294" stroke-width="2.3"/><line x1="135.4" y1="140.2" x2="131.2" y2="140.6" stroke="#9ED385" stroke-width="2.3"/><line x1="131.2" y1="140.6" x2="127.0" y2="141.0" stroke="#A1D37E" stroke-width="2.3"/><line x1="127.0" y1="141.0" x2="122.8" y2="141.5" stroke="#A6D472" stroke-width="2.3"/><line x1="145.1" y1="141.5" x2="140.5" y2="141.8" stroke="#2E3285" stroke-width="2.3"/><line x1="140.5" y1="141.8" x2="135.6" y2="142.2" stroke="#4E82B8" stroke-width="2.3"/><line x1="135.6" y1="142.2" x2="131.4" y2="142.6" stroke="#609FC2" stroke-width="2.3"/><line x1="131.4" y1="142.6" x2="127.2" y2="142.9" stroke="#8CD1B0" stroke-width="2.3"/><line x1="127.2" y1="142.9" x2="123.0" y2="143.2" stroke="#96D298" stroke-width="2.3"/><line x1="145.2" y1="143.7" x2="140.6" y2="143.9" stroke="#91D1A5" stroke-width="2.3"/><line x1="140.6" y1="143.9" x2="135.7" y2="144.1" stroke="#90D1A5" stroke-width="2.3"/><line x1="135.7" y1="144.1" x2="131.5" y2="144.3" stroke="#98D294" stroke-width="2.3"/><line x1="131.5" y1="144.3" x2="127.3" y2="144.5" stroke="#A1D37D" stroke-width="2.3"/><line x1="127.3" y1="144.5" x2="123.1" y2="144.7" stroke="#A2D37A" stroke-width="2.3"/><line x1="145.3" y1="145.9" x2="140.7" y2="146.0" stroke="#F07F20" stroke-width="2.3"/><line x1="140.7" y1="146.0" x2="135.8" y2="146.2" stroke="#F1911F" stroke-width="2.3"/><line x1="135.8" y1="146.2" x2="131.6" y2="146.4" stroke="#F1951F" stroke-width="2.3"/><line x1="131.6" y1="146.4" x2="127.4" y2="146.5" stroke="#D7DD3A" stroke-width="2.3"/><line x1="127.4" y1="146.5" x2="123.2" y2="146.7" stroke="#C5D94D" stroke-width="2.3"/><line x1="145.3" y1="148.1" x2="140.8" y2="148.2" stroke="#F2DE1E" stroke-width="2.3"/><line x1="140.8" y1="148.2" x2="135.9" y2="148.3" stroke="#DFDE31" stroke-width="2.3"/><line x1="135.9" y1="148.3" x2="131.7" y2="148.4" stroke="#CFDB42" stroke-width="2.3"/><line x1="131.7" y1="148.4" x2="127.5" y2="148.5" stroke="#C5D94C" stroke-width="2.3"/><line x1="127.5" y1="148.5" x2="123.3" y2="148.7" stroke="#B8D75A" stroke-width="2.3"/><line x1="145.4" y1="150.3" x2="140.8" y2="150.3" stroke="#3050A6" stroke-width="2.3"/><line x1="140.8" y1="150.3" x2="135.9" y2="150.3" stroke="#304FA4" stroke-width="2.3"/><line x1="135.9" y1="150.3" x2="131.7" y2="150.4" stroke="#67ABC6" stroke-width="2.3"/><line x1="131.7" y1="150.4" x2="127.5" y2="150.4" stroke="#8DD1AF" stroke-width="2.3"/><line x1="127.5" y1="150.4" x2="123.3" y2="150.5" stroke="#95D299" stroke-width="2.3"/><line x1="145.3" y1="152.4" x2="140.8" y2="152.4" stroke="#F1AF1F" stroke-width="2.3"/><line x1="140.8" y1="152.4" x2="135.9" y2="152.4" stroke="#F2D31E" stroke-width="2.3"/><line x1="135.9" y1="152.4" x2="131.7" y2="152.4" stroke="#DFDE32" stroke-width="2.3"/><line x1="131.7" y1="152.4" x2="127.5" y2="152.4" stroke="#C1D951" stroke-width="2.3"/><line x1="127.5" y1="152.4" x2="123.3" y2="152.4" stroke="#B9D759" stroke-width="2.3"/><line x1="145.3" y1="154.6" x2="140.8" y2="154.5" stroke="#F08220" stroke-width="2.3"/><line x1="140.8" y1="154.5" x2="135.9" y2="154.4" stroke="#EE6821" stroke-width="2.3"/><line x1="135.9" y1="154.4" x2="131.7" y2="154.3" stroke="#F1C31F" stroke-width="2.3"/><line x1="131.7" y1="154.3" x2="127.5" y2="154.1" stroke="#EBE126" stroke-width="2.3"/><line x1="127.5" y1="154.1" x2="123.3" y2="154.0" stroke="#CDDB45" stroke-width="2.3"/><line x1="145.2" y1="156.8" x2="140.7" y2="156.7" stroke="#A4D377" stroke-width="2.3"/><line x1="140.7" y1="156.7" x2="135.8" y2="156.5" stroke="#A5D473" stroke-width="2.3"/><line x1="135.8" y1="156.5" x2="131.6" y2="156.3" stroke="#A7D470" stroke-width="2.3"/><line x1="131.6" y1="156.3" x2="127.4" y2="156.2" stroke="#A8D46D" stroke-width="2.3"/><line x1="127.4" y1="156.2" x2="123.2" y2="156.0" stroke="#A8D46C" stroke-width="2.3"/><line x1="145.1" y1="159.0" x2="140.6" y2="158.8" stroke="#375DAC" stroke-width="2.3"/><line x1="140.6" y1="158.8" x2="135.7" y2="158.5" stroke="#65A7C4" stroke-width="2.3"/><line x1="135.7" y1="158.5" x2="131.5" y2="158.3" stroke="#87D0BC" stroke-width="2.3"/><line x1="131.5" y1="158.3" x2="127.3" y2="158.1" stroke="#94D29C" stroke-width="2.3"/><line x1="127.3" y1="158.1" x2="123.1" y2="157.9" stroke="#9CD28B" stroke-width="2.3"/><line x1="145.0" y1="161.2" x2="140.4" y2="161.0" stroke="#ABD468" stroke-width="2.3"/><line x1="140.4" y1="161.0" x2="135.5" y2="160.7" stroke="#ABD468" stroke-width="2.3"/><line x1="135.5" y1="160.7" x2="131.3" y2="160.4" stroke="#AAD469" stroke-width="2.3"/><line x1="131.3" y1="160.4" x2="127.1" y2="160.2" stroke="#AAD469" stroke-width="2.3"/><line x1="127.1" y1="160.2" x2="122.9" y2="160.0" stroke="#A9D46A" stroke-width="2.3"/><line x1="144.9" y1="163.4" x2="140.3" y2="163.1" stroke="#F18E1F" stroke-width="2.3"/><line x1="140.3" y1="163.1" x2="135.4" y2="162.9" stroke="#F1941F" stroke-width="2.3"/><line x1="135.4" y1="162.9" x2="131.2" y2="162.6" stroke="#F2CC1E" stroke-width="2.3"/><line x1="131.2" y1="162.6" x2="127.0" y2="162.4" stroke="#E1DF2F" stroke-width="2.3"/><line x1="127.0" y1="162.4" x2="122.8" y2="162.1" stroke="#C3D94F" stroke-width="2.3"/><line x1="144.7" y1="165.6" x2="140.2" y2="165.3" stroke="#8FD1A9" stroke-width="2.3"/><line x1="140.2" y1="165.3" x2="135.3" y2="165.0" stroke="#92D1A1" stroke-width="2.3"/><line x1="135.3" y1="165.0" x2="131.1" y2="164.8" stroke="#9BD28D" stroke-width="2.3"/><line x1="131.1" y1="164.8" x2="126.9" y2="164.5" stroke="#A1D37E" stroke-width="2.3"/><line x1="126.9" y1="164.5" x2="122.7" y2="164.3" stroke="#A4D376" stroke-width="2.3"/><line x1="144.6" y1="167.8" x2="140.0" y2="167.5" stroke="#64A5C4" stroke-width="2.3"/><line x1="140.0" y1="167.5" x2="135.1" y2="167.2" stroke="#5186BA" stroke-width="2.3"/><line x1="135.1" y1="167.2" x2="130.9" y2="166.9" stroke="#79C6CF" stroke-width="2.3"/><line x1="130.9" y1="166.9" x2="126.7" y2="166.6" stroke="#8ED1AC" stroke-width="2.3"/><line x1="126.7" y1="166.6" x2="122.5" y2="166.3" stroke="#99D291" stroke-width="2.3"/><line x1="144.4" y1="170.0" x2="139.9" y2="169.6" stroke="#ED6521" stroke-width="2.3"/><line x1="139.9" y1="169.6" x2="134.9" y2="169.3" stroke="#F08720" stroke-width="2.3"/><line x1="134.9" y1="169.3" x2="130.7" y2="169.0" stroke="#F2D51E" stroke-width="2.3"/><line x1="130.7" y1="169.0" x2="126.5" y2="168.6" stroke="#D8DD39" stroke-width="2.3"/><line x1="126.5" y1="168.6" x2="122.3" y2="168.3" stroke="#BDD855" stroke-width="2.3"/><line x1="144.2" y1="172.2" x2="139.6" y2="171.7" stroke="#EE6B21" stroke-width="2.3"/><line x1="139.6" y1="171.7" x2="134.7" y2="171.2" stroke="#E34224" stroke-width="2.3"/><line x1="134.7" y1="171.2" x2="130.5" y2="170.8" stroke="#F2CE1E" stroke-width="2.3"/><line x1="130.5" y1="170.8" x2="126.3" y2="170.3" stroke="#ECE124" stroke-width="2.3"/><line x1="126.3" y1="170.3" x2="122.1" y2="169.9" stroke="#C4D94E" stroke-width="2.3"/><line x1="143.9" y1="174.4" x2="139.4" y2="173.8" stroke="#69ADC7" stroke-width="2.3"/><line x1="139.4" y1="173.8" x2="134.4" y2="173.2" stroke="#70B8CA" stroke-width="2.3"/><line x1="134.4" y1="173.2" x2="130.2" y2="172.7" stroke="#87D0BD" stroke-width="2.3"/><line x1="130.2" y1="172.7" x2="126.0" y2="172.1" stroke="#93D1A0" stroke-width="2.3"/><line x1="126.0" y1="172.1" x2="121.8" y2="171.6" stroke="#A1D37E" stroke-width="2.3"/><line x1="143.6" y1="176.5" x2="139.0" y2="175.9" stroke="#5D9AC0" stroke-width="2.3"/><line x1="139.0" y1="175.9" x2="134.1" y2="175.2" stroke="#5891BD" stroke-width="2.3"/><line x1="134.1" y1="175.2" x2="129.9" y2="174.6" stroke="#81CFCB" stroke-width="2.3"/><line x1="129.9" y1="174.6" x2="125.7" y2="174.0" stroke="#90D1A8" stroke-width="2.3"/><line x1="125.7" y1="174.0" x2="121.4" y2="173.4" stroke="#9BD28C" stroke-width="2.3"/><line x1="143.2" y1="178.7" x2="138.7" y2="177.9" stroke="#DDDE34" stroke-width="2.3"/><line x1="138.7" y1="177.9" x2="133.7" y2="177.1" stroke="#D5DC3C" stroke-width="2.3"/><line x1="133.7" y1="177.1" x2="129.5" y2="176.3" stroke="#C1D951" stroke-width="2.3"/><line x1="129.5" y1="176.3" x2="125.3" y2="175.6" stroke="#BED854" stroke-width="2.3"/><line x1="125.3" y1="175.6" x2="121.0" y2="174.9" stroke="#B2D660" stroke-width="2.3"/><line x1="142.8" y1="180.8" x2="138.3" y2="180.0" stroke="#D7DD3A" stroke-width="2.3"/><line x1="138.3" y1="180.0" x2="133.3" y2="179.1" stroke="#DBDE36" stroke-width="2.3"/><line x1="133.3" y1="179.1" x2="129.1" y2="178.3" stroke="#CADA48" stroke-width="2.3"/><line x1="129.1" y1="178.3" x2="124.8" y2="177.5" stroke="#BAD758" stroke-width="2.3"/><line x1="124.8" y1="177.5" x2="120.6" y2="176.7" stroke="#B6D65D" stroke-width="2.3"/><line x1="142.4" y1="183.0" x2="137.8" y2="182.1" stroke="#63A3C3" stroke-width="2.3"/><line x1="137.8" y1="182.1" x2="132.8" y2="181.0" stroke="#87D0BD" stroke-width="2.3"/><line x1="132.8" y1="181.0" x2="128.6" y2="180.2" stroke="#8ED1AC" stroke-width="2.3"/><line x1="128.6" y1="180.2" x2="124.4" y2="179.3" stroke="#95D29A" stroke-width="2.3"/><line x1="124.4" y1="179.3" x2="120.1" y2="178.5" stroke="#A1D37E" stroke-width="2.3"/><line x1="141.9" y1="185.1" x2="137.3" y2="184.0" stroke="#2F4296" stroke-width="2.3"/><line x1="137.3" y1="184.0" x2="132.3" y2="182.8" stroke="#3459AA" stroke-width="2.3"/><line x1="132.3" y1="182.8" x2="128.0" y2="181.8" stroke="#81CFCC" stroke-width="2.3"/><line x1="128.0" y1="181.8" x2="123.8" y2="180.7" stroke="#91D1A3" stroke-width="2.3"/><line x1="123.8" y1="180.7" x2="119.5" y2="179.7" stroke="#9AD28F" stroke-width="2.3"/><line x1="141.3" y1="187.2" x2="136.7" y2="186.0" stroke="#F1B51F" stroke-width="2.3"/><line x1="136.7" y1="186.0" x2="131.7" y2="184.7" stroke="#F2D11E" stroke-width="2.3"/><line x1="131.7" y1="184.7" x2="127.5" y2="183.6" stroke="#EAE026" stroke-width="2.3"/><line x1="127.5" y1="183.6" x2="123.2" y2="182.4" stroke="#C5D94C" stroke-width="2.3"/><line x1="123.2" y1="182.4" x2="118.9" y2="181.3" stroke="#BED854" stroke-width="2.3"/><line x1="140.7" y1="189.3" x2="136.1" y2="188.0" stroke="#F19B1F" stroke-width="2.3"/><line x1="136.1" y1="188.0" x2="131.1" y2="186.5" stroke="#F2D71E" stroke-width="2.3"/><line x1="131.1" y1="186.5" x2="126.8" y2="185.3" stroke="#F2DA1E" stroke-width="2.3"/><line x1="126.8" y1="185.3" x2="122.5" y2="184.0" stroke="#CADA48" stroke-width="2.3"/><line x1="122.5" y1="184.0" x2="118.2" y2="182.8" stroke="#C3D94F" stroke-width="2.3"/><line x1="140.0" y1="191.4" x2="135.3" y2="189.7" stroke="#72BCCC" stroke-width="2.3"/><line x1="135.3" y1="189.7" x2="130.3" y2="187.9" stroke="#78C5CF" stroke-width="2.3"/><line x1="130.3" y1="187.9" x2="126.0" y2="186.4" stroke="#80CFCD" stroke-width="2.3"/><line x1="126.0" y1="186.4" x2="121.7" y2="184.8" stroke="#92D1A2" stroke-width="2.3"/><line x1="121.7" y1="184.8" x2="117.3" y2="183.3" stroke="#9DD387" stroke-width="2.3"/><line x1="139.2" y1="193.4" x2="134.5" y2="191.6" stroke="#8DD1AE" stroke-width="2.3"/><line x1="134.5" y1="191.6" x2="129.5" y2="189.7" stroke="#8ED1AB" stroke-width="2.3"/><line x1="129.5" y1="189.7" x2="125.1" y2="188.1" stroke="#9BD28C" stroke-width="2.3"/><line x1="125.1" y1="188.1" x2="120.8" y2="186.4" stroke="#A0D37F" stroke-width="2.3"/><line x1="120.8" y1="186.4" x2="116.5" y2="184.8" stroke="#A2D37A" stroke-width="2.3"/><line x1="138.4" y1="195.5" x2="133.7" y2="193.6" stroke="#E95922" stroke-width="2.3"/><line x1="133.7" y1="193.6" x2="128.6" y2="191.6" stroke="#EB5F22" stroke-width="2.3"/><line x1="128.6" y1="191.6" x2="124.3" y2="189.9" stroke="#EEE122" stroke-width="2.3"/><line x1="124.3" y1="189.9" x2="120.0" y2="188.2" stroke="#EBE125" stroke-width="2.3"/><line x1="120.0" y1="188.2" x2="115.7" y2="186.5" stroke="#C6D94C" stroke-width="2.3"/><line x1="137.6" y1="197.5" x2="132.9" y2="195.7" stroke="#F08920" stroke-width="2.3"/><line x1="132.9" y1="195.7" x2="127.8" y2="193.7" stroke="#F2DC1E" stroke-width="2.3"/><line x1="127.8" y1="193.7" x2="123.5" y2="192.1" stroke="#DCDE35" stroke-width="2.3"/><line x1="123.5" y1="192.1" x2="119.2" y2="190.4" stroke="#D6DD3B" stroke-width="2.3"/><line x1="119.2" y1="190.4" x2="114.9" y2="188.7" stroke="#C2D950" stroke-width="2.3"/><line x1="136.8" y1="199.6" x2="132.1" y2="197.8" stroke="#2F4499" stroke-width="2.3"/><line x1="132.1" y1="197.8" x2="127.1" y2="196.0" stroke="#304DA2" stroke-width="2.3"/><line x1="127.1" y1="196.0" x2="122.8" y2="194.4" stroke="#538ABB" stroke-width="2.3"/><line x1="122.8" y1="194.4" x2="118.5" y2="192.8" stroke="#90D1A7" stroke-width="2.3"/><line x1="118.5" y1="192.8" x2="114.1" y2="191.2" stroke="#9AD28F" stroke-width="2.3"/><line x1="136.1" y1="201.7" x2="131.4" y2="200.0" stroke="#426EB2" stroke-width="2.3"/><line x1="131.4" y1="200.0" x2="126.4" y2="198.3" stroke="#7DCDD1" stroke-width="2.3"/><line x1="126.4" y1="198.3" x2="122.1" y2="196.8" stroke="#89D0B8" stroke-width="2.3"/><line x1="122.1" y1="196.8" x2="117.8" y2="195.3" stroke="#96D298" stroke-width="2.3"/><line x1="117.8" y1="195.3" x2="113.5" y2="193.7" stroke="#9DD388" stroke-width="2.3"/><line x1="135.4" y1="203.8" x2="130.7" y2="202.2" stroke="#F07920" stroke-width="2.3"/><line x1="130.7" y1="202.2" x2="125.7" y2="200.6" stroke="#F07D20" stroke-width="2.3"/><line x1="125.7" y1="200.6" x2="121.4" y2="199.1" stroke="#F1AC1F" stroke-width="2.3"/><line x1="121.4" y1="199.1" x2="117.1" y2="197.7" stroke="#E4DF2C" stroke-width="2.3"/><line x1="117.1" y1="197.7" x2="112.8" y2="196.3" stroke="#C1D951" stroke-width="2.3"/><line x1="134.7" y1="205.9" x2="130.0" y2="204.4" stroke="#F2CD1E" stroke-width="2.3"/><line x1="130.0" y1="204.4" x2="125.0" y2="202.7" stroke="#E3DF2E" stroke-width="2.3"/><line x1="125.0" y1="202.7" x2="120.7" y2="201.4" stroke="#DEDE33" stroke-width="2.3"/><line x1="120.7" y1="201.4" x2="116.4" y2="200.0" stroke="#BED855" stroke-width="2.3"/><line x1="116.4" y1="200.0" x2="112.1" y2="198.6" stroke="#B8D75A" stroke-width="2.3"/><line x1="134.0" y1="208.0" x2="129.4" y2="206.5" stroke="#2F4195" stroke-width="2.3"/><line x1="129.4" y1="206.5" x2="124.4" y2="204.9" stroke="#3961AD" stroke-width="2.3"/><line x1="124.4" y1="204.9" x2="120.1" y2="203.5" stroke="#74BFCD" stroke-width="2.3"/><line x1="120.1" y1="203.5" x2="115.8" y2="202.1" stroke="#8DD1AE" stroke-width="2.3"/><line x1="115.8" y1="202.1" x2="111.5" y2="200.8" stroke="#99D291" stroke-width="2.3"/><line x1="133.4" y1="210.1" x2="128.7" y2="208.6" stroke="#E0DF31" stroke-width="2.3"/><line x1="128.7" y1="208.6" x2="123.7" y2="207.0" stroke="#DEDE33" stroke-width="2.3"/><line x1="123.7" y1="207.0" x2="119.4" y2="205.6" stroke="#CFDB42" stroke-width="2.3"/><line x1="119.4" y1="205.6" x2="115.1" y2="204.2" stroke="#C1D951" stroke-width="2.3"/><line x1="115.1" y1="204.2" x2="110.8" y2="202.9" stroke="#B5D65D" stroke-width="2.3"/><line x1="132.7" y1="212.1" x2="128.0" y2="210.6" stroke="#EB6022" stroke-width="2.3"/><line x1="128.0" y1="210.6" x2="123.0" y2="209.0" stroke="#E44824" stroke-width="2.3"/><line x1="123.0" y1="209.0" x2="118.7" y2="207.7" stroke="#F1B01F" stroke-width="2.3"/><line x1="118.7" y1="207.7" x2="114.4" y2="206.3" stroke="#E3DF2E" stroke-width="2.3"/><line x1="114.4" y1="206.3" x2="110.1" y2="204.9" stroke="#CADA48" stroke-width="2.3"/><line x1="132.0" y1="214.2" x2="127.3" y2="212.7" stroke="#B3D660" stroke-width="2.3"/><line x1="127.3" y1="212.7" x2="122.3" y2="211.0" stroke="#B6D65D" stroke-width="2.3"/><line x1="122.3" y1="211.0" x2="118.0" y2="209.6" stroke="#AFD564" stroke-width="2.3"/><line x1="118.0" y1="209.6" x2="113.7" y2="208.2" stroke="#ADD566" stroke-width="2.3"/><line x1="113.7" y1="208.2" x2="109.4" y2="206.8" stroke="#ACD467" stroke-width="2.3"/><line x1="131.3" y1="216.3" x2="126.6" y2="214.7" stroke="#2F489D" stroke-width="2.3"/><line x1="126.6" y1="214.7" x2="121.6" y2="212.9" stroke="#304CA2" stroke-width="2.3"/><line x1="121.6" y1="212.9" x2="117.3" y2="211.5" stroke="#7ECED2" stroke-width="2.3"/><line x1="117.3" y1="211.5" x2="113.0" y2="210.0" stroke="#81CFCB" stroke-width="2.3"/><line x1="113.0" y1="210.0" x2="108.6" y2="208.5" stroke="#95D29A" stroke-width="2.3"/><line x1="130.5" y1="218.3" x2="125.8" y2="216.6" stroke="#F1C51F" stroke-width="2.3"/><line x1="125.8" y1="216.6" x2="120.8" y2="214.7" stroke="#F1B81F" stroke-width="2.3"/><line x1="120.8" y1="214.7" x2="116.4" y2="213.1" stroke="#DBDE36" stroke-width="2.3"/><line x1="116.4" y1="213.1" x2="112.1" y2="211.5" stroke="#D6DD3B" stroke-width="2.3"/><line x1="112.1" y1="211.5" x2="107.8" y2="209.8" stroke="#B9D759" stroke-width="2.3"/><line x1="129.6" y1="220.3" x2="124.8" y2="218.1" stroke="#F08120" stroke-width="2.3"/><line x1="124.8" y1="218.1" x2="119.8" y2="215.6" stroke="#F1961F" stroke-width="2.3"/><line x1="119.8" y1="215.6" x2="115.4" y2="213.6" stroke="#F2D31E" stroke-width="2.3"/><line x1="115.4" y1="213.6" x2="111.0" y2="211.5" stroke="#D7DD3B" stroke-width="2.3"/><line x1="111.0" y1="211.5" x2="106.7" y2="209.4" stroke="#CEDB44" stroke-width="2.3"/><line x1="128.5" y1="222.2" x2="123.7" y2="219.2" stroke="#BBD758" stroke-width="2.3"/><line x1="123.7" y1="219.2" x2="118.6" y2="216.0" stroke="#B9D75A" stroke-width="2.3"/><line x1="118.6" y1="216.0" x2="114.3" y2="213.2" stroke="#B7D75B" stroke-width="2.3"/><line x1="114.3" y1="213.2" x2="109.9" y2="210.5" stroke="#B0D563" stroke-width="2.3"/><line x1="109.9" y1="210.5" x2="105.5" y2="207.8" stroke="#AED565" stroke-width="2.3"/><line x1="127.2" y1="223.9" x2="122.5" y2="220.4" stroke="#3050A5" stroke-width="2.3"/><line x1="122.5" y1="220.4" x2="117.4" y2="216.5" stroke="#4E82B8" stroke-width="2.3"/><line x1="117.4" y1="216.5" x2="113.0" y2="213.3" stroke="#83D0C6" stroke-width="2.3"/><line x1="113.0" y1="213.3" x2="108.7" y2="210.0" stroke="#93D19E" stroke-width="2.3"/><line x1="108.7" y1="210.0" x2="104.3" y2="206.7" stroke="#99D291" stroke-width="2.3"/><line x1="125.9" y1="225.7" x2="121.2" y2="222.3" stroke="#F1BA1F" stroke-width="2.3"/><line x1="121.2" y1="222.3" x2="116.1" y2="218.6" stroke="#F1AA1F" stroke-width="2.3"/><line x1="116.1" y1="218.6" x2="111.7" y2="215.5" stroke="#F2D61E" stroke-width="2.3"/><line x1="111.7" y1="215.5" x2="107.3" y2="212.4" stroke="#D8DD39" stroke-width="2.3"/><line x1="107.3" y1="212.4" x2="102.9" y2="209.2" stroke="#BCD857" stroke-width="2.3"/><line x1="124.7" y1="227.5" x2="119.9" y2="224.4" stroke="#F1AE1F" stroke-width="2.3"/><line x1="119.9" y1="224.4" x2="114.8" y2="220.9" stroke="#F07320" stroke-width="2.3"/><line x1="114.8" y1="220.9" x2="110.4" y2="218.0" stroke="#F1E21F" stroke-width="2.3"/><line x1="110.4" y1="218.0" x2="106.1" y2="215.1" stroke="#D6DD3B" stroke-width="2.3"/><line x1="106.1" y1="215.1" x2="101.7" y2="212.1" stroke="#BED854" stroke-width="2.3"/><line x1="123.4" y1="229.4" x2="118.7" y2="226.2" stroke="#5A95BE" stroke-width="2.3"/><line x1="118.7" y1="226.2" x2="113.6" y2="222.7" stroke="#609EC2" stroke-width="2.3"/><line x1="113.6" y1="222.7" x2="109.2" y2="219.8" stroke="#8BD1B2" stroke-width="2.3"/><line x1="109.2" y1="219.8" x2="104.8" y2="216.8" stroke="#8FD1A9" stroke-width="2.3"/><line x1="104.8" y1="216.8" x2="100.4" y2="213.9" stroke="#9FD382" stroke-width="2.3"/><line x1="122.2" y1="231.2" x2="117.5" y2="227.9" stroke="#74BFCC" stroke-width="2.3"/><line x1="117.5" y1="227.9" x2="112.4" y2="224.5" stroke="#8AD0B6" stroke-width="2.3"/><line x1="112.4" y1="224.5" x2="108.0" y2="221.5" stroke="#92D1A1" stroke-width="2.3"/><line x1="108.0" y1="221.5" x2="103.6" y2="218.5" stroke="#9AD28E" stroke-width="2.3"/><line x1="103.6" y1="218.5" x2="99.2" y2="215.5" stroke="#A0D381" stroke-width="2.3"/><line x1="120.9" y1="233.0" x2="116.2" y2="229.6" stroke="#F2E11E" stroke-width="2.3"/><line x1="116.2" y1="229.6" x2="111.1" y2="226.0" stroke="#D9DD38" stroke-width="2.3"/><line x1="111.1" y1="226.0" x2="106.7" y2="222.9" stroke="#D3DC3F" stroke-width="2.3"/><line x1="106.7" y1="222.9" x2="102.3" y2="219.8" stroke="#C1D951" stroke-width="2.3"/><line x1="102.3" y1="219.8" x2="98.0" y2="216.7" stroke="#B9D759" stroke-width="2.3"/><line x1="119.7" y1="234.7" x2="114.9" y2="231.3" stroke="#F1A91F" stroke-width="2.3"/><line x1="114.9" y1="231.3" x2="109.8" y2="227.6" stroke="#F1B81F" stroke-width="2.3"/><line x1="109.8" y1="227.6" x2="105.4" y2="224.4" stroke="#E7E029" stroke-width="2.3"/><line x1="105.4" y1="224.4" x2="101.1" y2="221.2" stroke="#D1DC40" stroke-width="2.3"/><line x1="101.1" y1="221.2" x2="96.7" y2="218.1" stroke="#BBD857" stroke-width="2.3"/><line x1="118.3" y1="236.5" x2="113.6" y2="232.9" stroke="#5288BA" stroke-width="2.3"/><line x1="113.6" y1="232.9" x2="108.5" y2="229.1" stroke="#62A1C3" stroke-width="2.3"/><line x1="108.5" y1="229.1" x2="104.1" y2="225.8" stroke="#8ED1AC" stroke-width="2.3"/><line x1="104.1" y1="225.8" x2="99.8" y2="222.6" stroke="#98D293" stroke-width="2.3"/><line x1="99.8" y1="222.6" x2="95.4" y2="219.3" stroke="#9BD28B" stroke-width="2.3"/><line x1="117.0" y1="238.2" x2="112.3" y2="234.6" stroke="#68ACC6" stroke-width="2.3"/><line x1="112.3" y1="234.6" x2="107.2" y2="230.6" stroke="#7AC8D0" stroke-width="2.3"/><line x1="107.2" y1="230.6" x2="102.8" y2="227.2" stroke="#8AD0B5" stroke-width="2.3"/><line x1="102.8" y1="227.2" x2="98.5" y2="223.9" stroke="#99D291" stroke-width="2.3"/><line x1="98.5" y1="223.9" x2="94.1" y2="220.5" stroke="#A1D37D" stroke-width="2.3"/><line x1="115.6" y1="239.9" x2="110.9" y2="236.1" stroke="#ECE125" stroke-width="2.3"/><line x1="110.9" y1="236.1" x2="105.8" y2="232.0" stroke="#DDDE34" stroke-width="2.3"/><line x1="105.8" y1="232.0" x2="101.5" y2="228.5" stroke="#D2DC40" stroke-width="2.3"/><line x1="101.5" y1="228.5" x2="97.1" y2="225.0" stroke="#BBD758" stroke-width="2.3"/><line x1="97.1" y1="225.0" x2="92.8" y2="221.5" stroke="#B7D75B" stroke-width="2.3"/><line x1="114.2" y1="241.6" x2="109.5" y2="237.7" stroke="#F2C81E" stroke-width="2.3"/><line x1="109.5" y1="237.7" x2="104.5" y2="233.6" stroke="#F1931F" stroke-width="2.3"/><line x1="104.5" y1="233.6" x2="100.1" y2="230.0" stroke="#E7E02A" stroke-width="2.3"/><line x1="100.1" y1="230.0" x2="95.8" y2="226.4" stroke="#D1DC41" stroke-width="2.3"/><line x1="95.8" y1="226.4" x2="91.4" y2="222.8" stroke="#C1D951" stroke-width="2.3"/><line x1="112.8" y1="243.3" x2="108.1" y2="239.3" stroke="#4B7DB6" stroke-width="2.3"/><line x1="108.1" y1="239.3" x2="103.1" y2="235.0" stroke="#64A5C4" stroke-width="2.3"/><line x1="103.1" y1="235.0" x2="98.7" y2="231.4" stroke="#6DB4C9" stroke-width="2.3"/><line x1="98.7" y1="231.4" x2="94.4" y2="227.7" stroke="#91D1A5" stroke-width="2.3"/><line x1="94.4" y1="227.7" x2="90.1" y2="224.0" stroke="#9CD388" stroke-width="2.3"/><line x1="111.3" y1="244.9" x2="106.7" y2="240.8" stroke="#93D19F" stroke-width="2.3"/><line x1="106.7" y1="240.8" x2="101.6" y2="236.4" stroke="#89D0B6" stroke-width="2.3"/><line x1="101.6" y1="236.4" x2="97.3" y2="232.6" stroke="#98D293" stroke-width="2.3"/><line x1="97.3" y1="232.6" x2="93.0" y2="228.9" stroke="#9ED384" stroke-width="2.3"/><line x1="93.0" y1="228.9" x2="88.7" y2="225.1" stroke="#A2D37B" stroke-width="2.3"/><line x1="109.8" y1="246.5" x2="105.2" y2="242.1" stroke="#F07C20" stroke-width="2.3"/><line x1="105.2" y1="242.1" x2="100.2" y2="237.4" stroke="#F08320" stroke-width="2.3"/><line x1="100.2" y1="237.4" x2="96.0" y2="233.3" stroke="#F2CE1E" stroke-width="2.3"/><line x1="96.0" y1="233.3" x2="91.7" y2="229.3" stroke="#EAE027" stroke-width="2.3"/><line x1="91.7" y1="229.3" x2="87.4" y2="225.2" stroke="#CDDB45" stroke-width="2.3"/><line x1="108.3" y1="248.1" x2="103.7" y2="243.5" stroke="#C5D94D" stroke-width="2.3"/><line x1="103.7" y1="243.5" x2="98.8" y2="238.6" stroke="#BFD853" stroke-width="2.3"/><line x1="98.8" y1="238.6" x2="94.5" y2="234.4" stroke="#BAD758" stroke-width="2.3"/><line x1="94.5" y1="234.4" x2="90.3" y2="230.2" stroke="#B1D662" stroke-width="2.3"/><line x1="90.3" y1="230.2" x2="86.0" y2="226.0" stroke="#AFD564" stroke-width="2.3"/><line x1="106.7" y1="249.6" x2="102.2" y2="244.9" stroke="#4573B3" stroke-width="2.3"/><line x1="102.2" y1="244.9" x2="97.2" y2="239.9" stroke="#3051A6" stroke-width="2.3"/><line x1="97.2" y1="239.9" x2="93.0" y2="235.6" stroke="#72BCCC" stroke-width="2.3"/><line x1="93.0" y1="235.6" x2="88.8" y2="231.3" stroke="#8ED1AB" stroke-width="2.3"/><line x1="88.8" y1="231.3" x2="84.6" y2="227.0" stroke="#97D296" stroke-width="2.3"/><line x1="105.1" y1="251.1" x2="100.6" y2="246.3" stroke="#A1D37C" stroke-width="2.3"/><line x1="100.6" y1="246.3" x2="95.7" y2="241.2" stroke="#9FD383" stroke-width="2.3"/><line x1="95.7" y1="241.2" x2="91.5" y2="236.8" stroke="#A4D377" stroke-width="2.3"/><line x1="91.5" y1="236.8" x2="87.3" y2="232.4" stroke="#A6D470" stroke-width="2.3"/><line x1="87.3" y1="232.4" x2="83.1" y2="227.9" stroke="#A7D46F" stroke-width="2.3"/><line x1="103.5" y1="252.6" x2="99.1" y2="247.5" stroke="#F1921F" stroke-width="2.3"/><line x1="99.1" y1="247.5" x2="94.2" y2="242.0" stroke="#F1931F" stroke-width="2.3"/><line x1="94.2" y1="242.0" x2="90.1" y2="237.3" stroke="#F2E11E" stroke-width="2.3"/><line x1="90.1" y1="237.3" x2="86.0" y2="232.6" stroke="#E5E02B" stroke-width="2.3"/><line x1="86.0" y1="232.6" x2="81.9" y2="227.9" stroke="#CCDB45" stroke-width="2.3"/><line x1="101.8" y1="254.0" x2="97.4" y2="248.7" stroke="#F2DD1E" stroke-width="2.3"/><line x1="97.4" y1="248.7" x2="92.7" y2="243.0" stroke="#E0DE31" stroke-width="2.3"/><line x1="92.7" y1="243.0" x2="88.6" y2="238.1" stroke="#CCDB46" stroke-width="2.3"/><line x1="88.6" y1="238.1" x2="84.6" y2="233.2" stroke="#BDD856" stroke-width="2.3"/><line x1="84.6" y1="233.2" x2="80.5" y2="228.4" stroke="#B8D75B" stroke-width="2.3"/><line x1="100.1" y1="255.3" x2="95.8" y2="249.8" stroke="#2F3D90" stroke-width="2.3"/><line x1="95.8" y1="249.8" x2="91.2" y2="243.8" stroke="#2F479C" stroke-width="2.3"/><line x1="91.2" y1="243.8" x2="87.2" y2="238.7" stroke="#6FB7CA" stroke-width="2.3"/><line x1="87.2" y1="238.7" x2="83.2" y2="233.6" stroke="#8CD1B1" stroke-width="2.3"/><line x1="83.2" y1="233.6" x2="79.2" y2="228.5" stroke="#95D29B" stroke-width="2.3"/><line x1="98.3" y1="256.6" x2="94.1" y2="250.8" stroke="#A0D37F" stroke-width="2.3"/><line x1="94.1" y1="250.8" x2="89.6" y2="244.5" stroke="#A3D379" stroke-width="2.3"/><line x1="89.6" y1="244.5" x2="85.7" y2="239.1" stroke="#A6D472" stroke-width="2.3"/><line x1="85.7" y1="239.1" x2="81.9" y2="233.7" stroke="#A6D471" stroke-width="2.3"/><line x1="81.9" y1="233.7" x2="78.0" y2="228.4" stroke="#A8D46D" stroke-width="2.3"/><line x1="96.5" y1="257.7" x2="92.6" y2="251.4" stroke="#93D19F" stroke-width="2.3"/><line x1="92.6" y1="251.4" x2="88.3" y2="244.6" stroke="#A6D470" stroke-width="2.3"/><line x1="88.3" y1="244.6" x2="84.7" y2="238.7" stroke="#B5D65D" stroke-width="2.3"/><line x1="84.7" y1="238.7" x2="81.0" y2="232.9" stroke="#BBD857" stroke-width="2.3"/><line x1="81.0" y1="232.9" x2="77.4" y2="227.0" stroke="#B4D65E" stroke-width="2.3"/><line x1="94.6" y1="258.8" x2="90.8" y2="252.3" stroke="#94D29C" stroke-width="2.3"/><line x1="90.8" y1="252.3" x2="86.7" y2="245.2" stroke="#9DD387" stroke-width="2.3"/><line x1="86.7" y1="245.2" x2="83.2" y2="239.2" stroke="#B8D75B" stroke-width="2.3"/><line x1="83.2" y1="239.2" x2="79.7" y2="233.2" stroke="#B5D65D" stroke-width="2.3"/><line x1="79.7" y1="233.2" x2="76.1" y2="227.1" stroke="#B5D65E" stroke-width="2.3"/><line x1="92.7" y1="259.8" x2="89.0" y2="253.0" stroke="#94D29C" stroke-width="2.3"/><line x1="89.0" y1="253.0" x2="85.1" y2="245.7" stroke="#C9DA49" stroke-width="2.3"/><line x1="85.1" y1="245.7" x2="81.7" y2="239.5" stroke="#D2DC3F" stroke-width="2.3"/><line x1="81.7" y1="239.5" x2="78.4" y2="233.2" stroke="#C9DA49" stroke-width="2.3"/><line x1="78.4" y1="233.2" x2="75.0" y2="226.9" stroke="#C9DA49" stroke-width="2.3"/><line x1="90.7" y1="260.7" x2="87.6" y2="253.3" stroke="#E0DF31" stroke-width="2.3"/><line x1="87.6" y1="253.3" x2="84.2" y2="245.3" stroke="#EEE122" stroke-width="2.3"/><line x1="84.2" y1="245.3" x2="81.3" y2="238.5" stroke="#AFD564" stroke-width="2.3"/><line x1="81.3" y1="238.5" x2="78.4" y2="231.6" stroke="#D7DD3A" stroke-width="2.3"/><line x1="78.4" y1="231.6" x2="75.5" y2="224.8" stroke="#C6DA4C" stroke-width="2.3"/><line x1="88.7" y1="261.4" x2="85.9" y2="253.7" stroke="#C3D94F" stroke-width="2.3"/><line x1="85.9" y1="253.7" x2="82.9" y2="245.3" stroke="#DADD37" stroke-width="2.3"/><line x1="82.9" y1="245.3" x2="80.4" y2="238.2" stroke="#E1DF30" stroke-width="2.3"/><line x1="80.4" y1="238.2" x2="77.8" y2="231.0" stroke="#CFDB42" stroke-width="2.3"/><line x1="77.8" y1="231.0" x2="75.3" y2="223.9" stroke="#C3D94F" stroke-width="2.3"/><line x1="86.6" y1="261.9" x2="84.9" y2="253.5" stroke="#8DD1AF" stroke-width="2.3"/><line x1="84.9" y1="253.5" x2="83.0" y2="244.5" stroke="#A4D377" stroke-width="2.3"/><line x1="83.0" y1="244.5" x2="81.4" y2="236.7" stroke="#B3D65F" stroke-width="2.3"/><line x1="81.4" y1="236.7" x2="79.8" y2="229.0" stroke="#B6D75C" stroke-width="2.3"/><line x1="79.8" y1="229.0" x2="78.2" y2="221.2" stroke="#B5D65E" stroke-width="2.3"/><line x1="84.5" y1="262.2" x2="83.3" y2="253.6" stroke="#8FD1A8" stroke-width="2.3"/><line x1="83.3" y1="253.6" x2="82.1" y2="244.3" stroke="#9AD28D" stroke-width="2.3"/><line x1="82.1" y1="244.3" x2="81.0" y2="236.4" stroke="#E4DF2C" stroke-width="2.3"/><line x1="81.0" y1="236.4" x2="79.9" y2="228.4" stroke="#D2DC40" stroke-width="2.3"/><line x1="79.9" y1="228.4" x2="78.8" y2="220.5" stroke="#B5D65E" stroke-width="2.3"/><line x1="82.3" y1="262.3" x2="81.7" y2="253.6" stroke="#8BD0B4" stroke-width="2.3"/><line x1="81.7" y1="253.6" x2="81.0" y2="244.2" stroke="#B3D660" stroke-width="2.3"/><line x1="81.0" y1="244.2" x2="80.4" y2="236.1" stroke="#C5D94D" stroke-width="2.3"/><line x1="80.4" y1="236.1" x2="79.9" y2="228.1" stroke="#C0D852" stroke-width="2.3"/><line x1="79.9" y1="228.1" x2="79.3" y2="220.0" stroke="#BAD758" stroke-width="2.3"/><line x1="80.2" y1="262.2" x2="80.6" y2="253.5" stroke="#D8DD3A" stroke-width="2.3"/><line x1="80.6" y1="253.5" x2="81.0" y2="244.0" stroke="#F0E221" stroke-width="2.3"/><line x1="81.0" y1="244.0" x2="81.4" y2="235.9" stroke="#E8E029" stroke-width="2.3"/><line x1="81.4" y1="235.9" x2="81.7" y2="227.9" stroke="#D6DD3B" stroke-width="2.3"/><line x1="81.7" y1="227.9" x2="82.0" y2="219.8" stroke="#C5D94C" stroke-width="2.3"/><line x1="78.1" y1="262.0" x2="79.0" y2="253.3" stroke="#C1D951" stroke-width="2.3"/><line x1="79.0" y1="253.3" x2="79.9" y2="243.9" stroke="#DBDE36" stroke-width="2.3"/><line x1="79.9" y1="243.9" x2="80.7" y2="235.9" stroke="#E4DF2D" stroke-width="2.3"/><line x1="80.7" y1="235.9" x2="81.5" y2="227.8" stroke="#D2DC3F" stroke-width="2.3"/><line x1="81.5" y1="227.8" x2="82.3" y2="219.8" stroke="#C6DA4C" stroke-width="2.3"/><line x1="76.0" y1="261.6" x2="78.0" y2="253.2" stroke="#CADA48" stroke-width="2.3"/><line x1="78.0" y1="253.2" x2="80.1" y2="244.1" stroke="#B5D65E" stroke-width="2.3"/><line x1="80.1" y1="244.1" x2="81.9" y2="236.3" stroke="#C5D94C" stroke-width="2.3"/><line x1="81.9" y1="236.3" x2="83.7" y2="228.5" stroke="#C1D951" stroke-width="2.3"/><line x1="83.7" y1="228.5" x2="85.6" y2="220.7" stroke="#BAD758" stroke-width="2.3"/><line x1="74.0" y1="260.9" x2="76.6" y2="252.8" stroke="#8ED1AC" stroke-width="2.3"/><line x1="76.6" y1="252.8" x2="79.4" y2="244.0" stroke="#A1D37E" stroke-width="2.3"/><line x1="79.4" y1="244.0" x2="81.8" y2="236.4" stroke="#EDE123" stroke-width="2.3"/><line x1="81.8" y1="236.4" x2="84.2" y2="228.9" stroke="#B9D759" stroke-width="2.3"/><line x1="84.2" y1="228.9" x2="86.6" y2="221.4" stroke="#B4D65E" stroke-width="2.3"/><line x1="72.1" y1="260.0" x2="75.9" y2="252.6" stroke="#B7D75B" stroke-width="2.3"/><line x1="75.9" y1="252.6" x2="80.0" y2="244.7" stroke="#CFDB42" stroke-width="2.3"/><line x1="80.0" y1="244.7" x2="83.5" y2="237.9" stroke="#D9DD38" stroke-width="2.3"/><line x1="83.5" y1="237.9" x2="87.0" y2="231.1" stroke="#CCDB46" stroke-width="2.3"/><line x1="87.0" y1="231.1" x2="90.6" y2="224.3" stroke="#C4D94E" stroke-width="2.3"/><line x1="70.3" y1="258.8" x2="75.0" y2="252.4" stroke="#D2DC3F" stroke-width="2.3"/><line x1="75.0" y1="252.4" x2="80.1" y2="245.4" stroke="#E8E028" stroke-width="2.3"/><line x1="80.1" y1="245.4" x2="84.4" y2="239.4" stroke="#EEE122" stroke-width="2.3"/><line x1="84.4" y1="239.4" x2="88.8" y2="233.5" stroke="#D3DC3F" stroke-width="2.3"/><line x1="88.8" y1="233.5" x2="93.1" y2="227.5" stroke="#C8DA4A" stroke-width="2.3"/><line x1="68.7" y1="257.5" x2="73.7" y2="251.4" stroke="#8AD0B5" stroke-width="2.3"/><line x1="73.7" y1="251.4" x2="79.1" y2="245.0" stroke="#E5E02B" stroke-width="2.3"/><line x1="79.1" y1="245.0" x2="83.8" y2="239.4" stroke="#E5DF2C" stroke-width="2.3"/><line x1="83.8" y1="239.4" x2="88.4" y2="233.8" stroke="#CFDB43" stroke-width="2.3"/><line x1="88.4" y1="233.8" x2="93.0" y2="228.3" stroke="#C5D94D" stroke-width="2.3"/><line x1="67.2" y1="255.9" x2="72.7" y2="250.7" stroke="#99D290" stroke-width="2.3"/><line x1="72.7" y1="250.7" x2="78.7" y2="245.2" stroke="#A7D46E" stroke-width="2.3"/><line x1="78.7" y1="245.2" x2="83.7" y2="240.4" stroke="#BAD758" stroke-width="2.3"/><line x1="83.7" y1="240.4" x2="88.8" y2="235.6" stroke="#B5D65E" stroke-width="2.3"/><line x1="88.8" y1="235.6" x2="93.9" y2="230.8" stroke="#B8D75A" stroke-width="2.3"/><line x1="65.9" y1="254.2" x2="71.9" y2="250.3" stroke="#8ED1AC" stroke-width="2.3"/><line x1="71.9" y1="250.3" x2="78.4" y2="245.9" stroke="#E3DF2E" stroke-width="2.3"/><line x1="78.4" y1="245.9" x2="83.9" y2="242.3" stroke="#B9D759" stroke-width="2.3"/><line x1="83.9" y1="242.3" x2="89.4" y2="238.6" stroke="#BAD758" stroke-width="2.3"/><line x1="89.4" y1="238.6" x2="95.0" y2="234.9" stroke="#B3D660" stroke-width="2.3"/><line x1="64.9" y1="252.4" x2="71.0" y2="249.0" stroke="#A9D469" stroke-width="2.3"/><line x1="71.0" y1="249.0" x2="77.7" y2="245.3" stroke="#C2D950" stroke-width="2.3"/><line x1="77.7" y1="245.3" x2="83.3" y2="242.1" stroke="#CEDB44" stroke-width="2.3"/><line x1="83.3" y1="242.1" x2="89.0" y2="239.0" stroke="#C6D94C" stroke-width="2.3"/><line x1="89.0" y1="239.0" x2="94.7" y2="235.8" stroke="#BDD855" stroke-width="2.3"/><line x1="64.0" y1="250.4" x2="70.3" y2="247.6" stroke="#D4DC3D" stroke-width="2.3"/><line x1="70.3" y1="247.6" x2="77.0" y2="244.7" stroke="#EDE123" stroke-width="2.3"/><line x1="77.0" y1="244.7" x2="82.8" y2="242.1" stroke="#E5E02B" stroke-width="2.3"/><line x1="82.8" y1="242.1" x2="88.6" y2="239.5" stroke="#D2DC3F" stroke-width="2.3"/><line x1="88.6" y1="239.5" x2="94.4" y2="237.0" stroke="#C5D94D" stroke-width="2.3"/><line x1="63.1" y1="248.4" x2="69.4" y2="245.8" stroke="#B7D75B" stroke-width="2.3"/><line x1="69.4" y1="245.8" x2="76.2" y2="242.9" stroke="#CFDB43" stroke-width="2.3"/><line x1="76.2" y1="242.9" x2="82.1" y2="240.5" stroke="#D5DC3C" stroke-width="2.3"/><line x1="82.1" y1="240.5" x2="87.9" y2="238.0" stroke="#CBDA47" stroke-width="2.3"/><line x1="87.9" y1="238.0" x2="93.7" y2="235.6" stroke="#C0D852" stroke-width="2.3"/><line x1="62.3" y1="246.4" x2="68.5" y2="243.6" stroke="#A4D375" stroke-width="2.3"/><line x1="68.5" y1="243.6" x2="75.3" y2="240.6" stroke="#B9D759" stroke-width="2.3"/><line x1="75.3" y1="240.6" x2="81.1" y2="238.0" stroke="#C9DA49" stroke-width="2.3"/><line x1="81.1" y1="238.0" x2="86.9" y2="235.4" stroke="#C2D950" stroke-width="2.3"/><line x1="86.9" y1="235.4" x2="92.7" y2="232.8" stroke="#BCD856" stroke-width="2.3"/><line x1="61.2" y1="244.4" x2="67.3" y2="240.8" stroke="#93D19F" stroke-width="2.3"/><line x1="67.3" y1="240.8" x2="73.9" y2="237.0" stroke="#EAE026" stroke-width="2.3"/><line x1="73.9" y1="237.0" x2="79.5" y2="233.7" stroke="#BBD857" stroke-width="2.3"/><line x1="79.5" y1="233.7" x2="85.2" y2="230.4" stroke="#D1DC40" stroke-width="2.3"/><line x1="85.2" y1="230.4" x2="90.8" y2="227.1" stroke="#B5D65E" stroke-width="2.3"/><line x1="60.0" y1="242.5" x2="66.0" y2="238.6" stroke="#A4D375" stroke-width="2.3"/><line x1="66.0" y1="238.6" x2="72.5" y2="234.5" stroke="#9FD382" stroke-width="2.3"/><line x1="72.5" y1="234.5" x2="78.1" y2="230.9" stroke="#CADA48" stroke-width="2.3"/><line x1="78.1" y1="230.9" x2="83.6" y2="227.3" stroke="#C3D94F" stroke-width="2.3"/><line x1="83.6" y1="227.3" x2="89.2" y2="223.7" stroke="#BCD856" stroke-width="2.3"/><line x1="59.2" y1="240.6" x2="65.6" y2="238.6" stroke="#C8DA4A" stroke-width="2.3"/><line x1="65.6" y1="238.6" x2="72.5" y2="236.5" stroke="#DCDE35" stroke-width="2.3"/><line x1="72.5" y1="236.5" x2="78.4" y2="234.7" stroke="#B2D661" stroke-width="2.3"/><line x1="78.4" y1="234.7" x2="84.3" y2="232.8" stroke="#D4DC3D" stroke-width="2.3"/><line x1="84.3" y1="232.8" x2="90.2" y2="231.0" stroke="#C5D94D" stroke-width="2.3"/></g></g>
<path d="M65.5,238.2 L65.3,237.3 L65.1,236.2 L64.8,234.7 L64.6,233.0 L64.3,231.1 L64.1,229.2 L63.8,227.1 L63.6,225.1 L63.3,223.1 L63.1,221.2 L62.8,219.3 L62.5,217.4 L62.2,215.5 L61.9,213.7 L61.7,211.9 L61.4,210.0 L61.2,208.2 L61.0,206.5 L60.8,204.7 L60.6,202.9 L60.4,201.1 L60.2,199.3 L60.0,197.4 L59.9,195.4 L59.7,193.3 L59.6,191.1 L59.5,188.8 L59.4,186.4 L59.3,184.0 L59.2,181.4 L59.1,178.8 L59.0,176.1 L59.0,173.2 L59.0,170.2 L58.9,167.2 L58.9,164.0 L58.9,160.9 L58.9,157.7 L59.0,154.7 L59.0,151.8 L59.1,149.1 L59.1,146.5 L59.2,144.0 L59.4,141.6 L59.5,139.3 L59.6,137.0 L59.8,134.8 L59.9,132.6 L60.1,130.5 L60.2,128.4 L60.4,126.4 L60.5,124.4 L60.7,122.4 L60.9,120.4 L61.0,118.5 L61.2,116.5 L61.3,114.6 L61.4,112.7 L61.5,110.8 L61.6,109.0 L61.8,107.3 L61.9,105.6 L62.1,103.9 L62.4,102.0 L62.8,100.1 L63.3,98.0 L63.8,95.8 L64.5,93.5 L65.1,91.2 L65.9,89.0 L66.6,86.7 L67.4,84.6 L68.3,82.5 L69.1,80.6 L70.0,78.7 L71.0,76.9 L71.9,75.2 L72.8,73.7 L73.7,72.4 L74.5,71.3 L75.4,70.3 L76.2,69.6 L77.0,69.0 L77.9,68.4 L78.9,68.0 L79.8,67.6 L80.7,67.2 L81.6,66.9 L82.4,66.7 L83.1,66.6 L83.7,66.5 L84.4,66.5 L85.1,66.6 L85.9,66.7 L86.8,66.8 L87.8,66.9 L88.9,67.2 L90.0,67.4 L91.2,67.7 L92.4,67.9 L93.5,68.2 L94.7,68.6 L95.9,69.0 L97.1,69.4 L98.3,69.9 L99.6,70.5 L100.8,71.1 L102.1,71.8 L103.4,72.6 L104.7,73.4 L105.9,74.2 L107.2,75.1 L108.4,76.0 L109.7,77.1 L110.9,78.2 L112.1,79.4 L113.2,80.7 L114.3,82.0 L115.4,83.3 L116.3,84.5 L117.1,85.5 L117.8,86.4 L118.5,87.2 L119.0,87.8 L119.6,88.4 L120.1,89.1 L120.8,89.8 L121.4,90.7 L122.2,91.7 L123.1,92.9 L124.0,94.2 L125.0,95.5 L126.0,96.9 L127.1,98.4 L128.1,99.8 L129.1,101.2 L130.1,102.7 L131.0,104.2 L131.9,105.7 L132.8,107.2 L133.6,108.8 L134.4,110.3 L135.2,111.8 L135.9,113.3 L136.5,114.8 L137.1,116.2 L137.6,117.6 L138.1,119.1 L138.6,120.5 L139.0,122.0 L139.3,123.4 L139.7,124.9 L140.1,126.4 L140.4,127.9 L140.7,129.3 L141.1,130.8 L141.4,132.2 L141.7,133.7 L141.9,135.1 L142.1,136.6 L142.3,138.1 L142.5,139.7 L142.7,141.2 L142.8,142.8 L142.9,144.4 L142.9,146.0 L143.0,147.6 L143.0,149.2 L143.0,150.7 L143.0,152.2 L143.0,153.7 L143.0,155.2 L142.9,156.6 L142.8,158.1 L142.8,159.6 L142.7,161.1 L142.6,162.7 L142.5,164.2 L142.4,165.8 L142.2,167.4 L142.1,169.0 L141.9,170.6 L141.8,172.2 L141.5,173.8 L141.3,175.4 L141.0,177.0 L140.7,178.6 L140.4,180.1 L140.0,181.7 L139.6,183.3 L139.2,184.8 L138.7,186.3 L138.2,187.8 L137.6,189.3 L137.1,190.8 L136.4,192.3 L135.8,193.9 L135.2,195.5 L134.6,197.3 L133.9,199.2 L133.2,201.2 L132.5,203.4 L131.8,205.7 L131.1,208.0 L130.3,210.3 L129.5,212.5 L128.7,214.5 L127.9,216.2 L127.2,217.6 L126.4,218.7 L125.7,219.5 L125.0,220.2 L124.4,220.9 L123.8,221.7 L123.1,222.5 L122.4,223.5 L121.7,224.7 L120.9,225.9 L120.0,227.2 L119.1,228.5 L118.1,229.8 L117.1,231.1 L116.0,232.4 L115.0,233.7 L113.9,235.0 L112.8,236.3 L111.7,237.5 L110.5,238.8 L109.4,240.0 L108.2,241.2 L106.9,242.3 L105.7,243.5 L104.4,244.6 L103.1,245.7 L101.8,246.7 L100.5,247.7 L99.2,248.7 L97.8,249.5 L96.5,250.3 L95.2,251.0 L93.8,251.6 L92.5,252.1 L91.3,252.6 L90.0,253.0 L88.8,253.3 L87.7,253.4 L86.7,253.5 L85.7,253.6 L84.7,253.6 L83.7,253.6 L82.7,253.5 L81.8,253.5 L80.8,253.5 L79.9,253.4 L79.0,253.3 L78.3,253.3 L77.6,253.2 L76.9,253.0 L76.3,252.9 L75.7,252.6 L75.0,252.4 L74.3,252.0 L73.7,251.6 L73.1,251.2 L72.5,250.7 L71.9,250.0 L71.3,249.3 L70.7,248.3 L70.2,247.2 L69.6,246.0 L69.0,244.7 L68.5,243.4 L67.9,242.2 L67.4,241.1 L67.0,240.3 L66.6,239.7 L66.3,239.4 L66.0,239.1 L65.8,238.7 Z" fill="none" stroke="#fff" stroke-width="1.2" stroke-dasharray="2.6,1.2"/>
<path d="M72.7,234.0 L72.5,233.2 L72.3,232.3 L72.1,231.2 L71.9,230.0 L71.7,228.5 L71.4,226.9 L71.2,225.1 L70.9,223.2 L70.6,221.3 L70.4,219.4 L70.1,217.5 L69.9,215.6 L69.6,213.7 L69.3,211.9 L69.1,210.1 L68.9,208.3 L68.6,206.5 L68.4,204.7 L68.2,202.9 L68.0,201.1 L67.8,199.2 L67.7,197.3 L67.5,195.3 L67.4,193.3 L67.2,191.2 L67.1,189.1 L67.0,186.8 L66.9,184.4 L66.8,181.9 L66.7,179.4 L66.6,176.7 L66.6,173.9 L66.5,171.1 L66.5,168.3 L66.5,165.4 L66.5,162.5 L66.5,159.7 L66.5,156.9 L66.6,154.1 L66.6,151.3 L66.7,148.7 L66.8,146.1 L66.9,143.6 L67.0,141.2 L67.1,138.9 L67.2,136.6 L67.3,134.4 L67.5,132.3 L67.6,130.2 L67.8,128.1 L67.9,126.1 L68.1,124.0 L68.2,122.0 L68.4,120.0 L68.5,118.1 L68.7,116.3 L68.8,114.5 L68.9,112.7 L69.1,110.9 L69.3,109.1 L69.5,107.3 L69.8,105.5 L70.1,103.7 L70.4,101.8 L70.8,100.0 L71.2,98.2 L71.7,96.3 L72.2,94.5 L72.8,92.6 L73.5,90.6 L74.2,88.7 L74.9,86.9 L75.6,85.1 L76.3,83.5 L77.0,82.0 L77.7,80.7 L78.3,79.6 L78.8,78.5 L79.4,77.6 L80.0,76.9 L80.5,76.2 L81.1,75.7 L81.5,75.2 L81.9,74.9 L82.3,74.7 L82.6,74.5 L82.8,74.4 L83.1,74.3 L83.5,74.2 L83.9,74.1 L84.4,74.1 L84.9,74.1 L85.4,74.1 L86.0,74.1 L86.6,74.2 L87.2,74.2 L88.0,74.3 L88.8,74.4 L89.7,74.6 L90.7,74.7 L91.7,74.9 L92.8,75.2 L93.8,75.4 L94.9,75.7 L96.0,76.1 L97.1,76.4 L98.3,76.8 L99.4,77.3 L100.6,77.8 L101.8,78.4 L103.0,79.1 L104.2,79.9 L105.4,80.7 L106.5,81.6 L107.7,82.6 L108.7,83.5 L109.8,84.5 L110.8,85.4 L111.7,86.4 L112.5,87.3 L113.4,88.2 L114.2,89.1 L114.9,90.0 L115.6,90.9 L116.4,91.8 L117.1,92.7 L117.9,93.6 L118.6,94.6 L119.4,95.6 L120.3,96.6 L121.2,97.7 L122.1,98.9 L123.0,100.1 L124.0,101.4 L125.0,102.8 L125.9,104.2 L126.9,105.5 L127.8,106.9 L128.7,108.3 L129.6,109.7 L130.4,111.0 L131.2,112.4 L132.0,113.8 L132.7,115.2 L133.3,116.6 L133.9,118.0 L134.5,119.4 L135.0,120.8 L135.5,122.2 L136.0,123.5 L136.4,124.9 L136.8,126.3 L137.2,127.8 L137.5,129.2 L137.9,130.6 L138.2,132.0 L138.4,133.5 L138.7,134.9 L139.0,136.4 L139.2,137.9 L139.4,139.4 L139.5,140.8 L139.7,142.3 L139.8,143.8 L139.9,145.3 L140.0,146.8 L140.0,148.3 L140.1,149.8 L140.1,151.3 L140.1,152.8 L140.0,154.3 L140.0,155.8 L139.9,157.3 L139.9,158.8 L139.8,160.3 L139.7,161.9 L139.6,163.4 L139.5,164.9 L139.3,166.4 L139.2,168.0 L139.0,169.5 L138.8,171.1 L138.6,172.6 L138.3,174.2 L138.0,175.7 L137.7,177.2 L137.4,178.7 L137.0,180.2 L136.6,181.7 L136.1,183.1 L135.6,184.6 L135.1,186.1 L134.5,187.6 L134.0,189.1 L133.4,190.7 L132.8,192.3 L132.2,194.1 L131.5,195.9 L130.8,197.7 L130.2,199.7 L129.5,201.7 L128.7,203.7 L128.0,205.6 L127.2,207.5 L126.5,209.2 L125.7,210.8 L124.9,212.3 L124.1,213.7 L123.3,214.9 L122.5,216.1 L121.8,217.2 L121.0,218.2 L120.2,219.2 L119.4,220.1 L118.6,221.0 L117.8,221.9 L117.0,222.9 L116.1,223.9 L115.2,225.0 L114.3,226.2 L113.4,227.5 L112.4,228.7 L111.3,229.9 L110.2,231.1 L109.1,232.3 L108.0,233.4 L106.8,234.5 L105.6,235.6 L104.4,236.6 L103.2,237.7 L101.9,238.7 L100.7,239.6 L99.4,240.5 L98.1,241.3 L96.8,242.0 L95.5,242.7 L94.3,243.3 L93.0,243.8 L91.8,244.2 L90.6,244.5 L89.4,244.8 L88.4,244.9 L87.4,244.9 L86.5,244.8 L85.7,244.8 L84.9,244.6 L84.2,244.5 L83.6,244.4 L83.1,244.2 L82.6,244.1 L82.2,244.0 L82.0,243.9 L81.7,243.9 L81.5,243.9 L81.3,244.0 L81.1,244.2 L80.9,244.3 L80.7,244.5 L80.5,244.7 L80.3,244.9 L80.1,245.0 L79.8,245.1 L79.5,245.1 L79.2,245.0 L78.8,244.7 L78.4,244.3 L77.9,243.7 L77.4,242.9 L76.9,242.1 L76.4,241.2 L76.0,240.5 L75.5,239.7 L75.1,239.0 L74.7,238.3 L74.3,237.6 L73.9,236.9 L73.6,236.2 L73.2,235.5 L73.0,234.7 Z" fill="none" stroke="#fff" stroke-width="1.2" stroke-dasharray="2.6,1.2"/>
<path d="M80.2,230.7 L79.9,229.7 L79.6,228.6 L79.4,227.7 L79.2,226.7 L79.0,225.7 L78.8,224.5 L78.6,223.3 L78.3,221.8 L78.1,220.2 L77.8,218.5 L77.6,216.7 L77.4,214.8 L77.1,213.0 L76.9,211.1 L76.7,209.3 L76.4,207.5 L76.2,205.6 L76.0,203.8 L75.8,201.9 L75.6,200.1 L75.4,198.2 L75.2,196.2 L75.1,194.2 L74.9,192.2 L74.8,190.1 L74.7,187.9 L74.6,185.6 L74.5,183.3 L74.4,180.9 L74.3,178.4 L74.2,175.8 L74.2,173.2 L74.1,170.6 L74.1,168.0 L74.1,165.3 L74.1,162.7 L74.1,160.0 L74.1,157.4 L74.2,154.8 L74.2,152.2 L74.3,149.6 L74.4,147.1 L74.4,144.6 L74.5,142.2 L74.6,139.8 L74.8,137.5 L74.9,135.3 L75.0,133.1 L75.1,130.9 L75.3,128.8 L75.4,126.8 L75.6,124.8 L75.7,122.8 L75.8,120.9 L76.0,119.1 L76.1,117.3 L76.3,115.5 L76.5,113.7 L76.7,112.0 L76.9,110.2 L77.2,108.4 L77.5,106.6 L77.8,104.8 L78.1,103.1 L78.5,101.4 L78.9,99.7 L79.3,98.0 L79.8,96.4 L80.3,94.9 L80.8,93.4 L81.2,92.0 L81.7,90.6 L82.1,89.3 L82.6,88.1 L82.9,87.0 L83.3,86.0 L83.7,85.1 L84.0,84.3 L84.3,83.6 L84.6,83.0 L84.8,82.5 L84.9,82.1 L84.9,81.8 L84.9,81.6 L84.9,81.4 L84.9,81.3 L84.9,81.2 L84.9,81.2 L84.9,81.3 L85.0,81.3 L85.2,81.3 L85.4,81.3 L85.6,81.3 L85.9,81.3 L86.3,81.3 L86.7,81.2 L87.1,81.2 L87.6,81.2 L88.1,81.3 L88.8,81.3 L89.5,81.4 L90.4,81.5 L91.3,81.6 L92.3,81.7 L93.3,81.8 L94.3,82.0 L95.3,82.3 L96.3,82.6 L97.4,83.0 L98.5,83.4 L99.5,83.9 L100.6,84.5 L101.7,85.2 L102.7,85.8 L103.7,86.5 L104.7,87.2 L105.7,87.9 L106.6,88.6 L107.6,89.3 L108.5,90.1 L109.3,90.9 L110.2,91.8 L111.1,92.7 L112.0,93.7 L112.8,94.7 L113.7,95.7 L114.5,96.7 L115.4,97.7 L116.2,98.7 L117.0,99.7 L117.9,100.7 L118.7,101.7 L119.6,102.8 L120.5,103.9 L121.4,105.1 L122.4,106.3 L123.3,107.5 L124.2,108.8 L125.1,110.1 L126.0,111.3 L126.8,112.6 L127.6,113.9 L128.4,115.2 L129.1,116.5 L129.8,117.8 L130.4,119.1 L131.0,120.5 L131.6,121.8 L132.2,123.1 L132.7,124.5 L133.1,125.8 L133.6,127.1 L134.0,128.5 L134.4,129.8 L134.7,131.2 L135.0,132.6 L135.3,134.0 L135.6,135.5 L135.8,136.9 L136.1,138.3 L136.3,139.8 L136.4,141.2 L136.6,142.6 L136.7,144.1 L136.8,145.5 L136.9,146.9 L137.0,148.4 L137.0,149.8 L137.1,151.3 L137.1,152.8 L137.1,154.3 L137.0,155.8 L137.0,157.3 L136.9,158.8 L136.8,160.3 L136.7,161.8 L136.6,163.2 L136.5,164.7 L136.3,166.2 L136.1,167.7 L135.9,169.2 L135.7,170.7 L135.4,172.2 L135.1,173.6 L134.8,175.1 L134.4,176.5 L134.0,178.0 L133.6,179.4 L133.2,180.8 L132.7,182.3 L132.2,183.8 L131.7,185.3 L131.2,186.9 L130.6,188.5 L130.0,190.2 L129.4,191.9 L128.8,193.7 L128.1,195.4 L127.4,197.2 L126.7,198.9 L126.0,200.6 L125.2,202.2 L124.4,203.6 L123.6,205.1 L122.8,206.5 L122.1,207.9 L121.3,209.3 L120.5,210.7 L119.8,212.0 L119.0,213.3 L118.1,214.6 L117.3,215.8 L116.4,216.9 L115.5,217.9 L114.6,218.9 L113.7,219.8 L112.8,220.7 L111.8,221.6 L110.9,222.5 L109.9,223.4 L109.0,224.4 L108.0,225.5 L106.9,226.5 L105.9,227.6 L104.8,228.7 L103.6,229.7 L102.5,230.7 L101.3,231.6 L100.0,232.5 L98.8,233.3 L97.6,234.0 L96.3,234.7 L95.1,235.3 L93.9,235.9 L92.6,236.4 L91.5,236.7 L90.3,237.0 L89.2,237.2 L88.2,237.2 L87.3,237.2 L86.4,237.2 L85.7,237.0 L85.0,236.9 L84.4,236.7 L83.8,236.4 L83.4,236.2 L83.1,236.0 L82.9,235.8 L82.8,235.6 L82.8,235.5 L82.8,235.5 L83.0,235.4 L83.2,235.5 L83.4,235.5 L83.6,235.7 L83.9,236.0 L84.1,236.3 L84.4,236.7 L84.5,237.1 L84.7,237.5 L84.8,237.8 L84.8,238.0 L84.9,238.2 L84.8,238.1 L84.7,238.0 L84.5,237.8 L84.3,237.5 L84.0,237.3 L83.7,237.1 L83.4,236.9 L83.1,236.7 L82.8,236.5 L82.5,236.2 L82.1,235.7 L81.8,235.2 L81.4,234.5 L81.1,233.6 L80.8,232.7 L80.5,231.7 Z" fill="none" stroke="#fff" stroke-width="1.2" stroke-dasharray="2.6,1.2"/>
<path d="M59.8,274.5 L59.5,273.5 L59.6,272.0 L59.8,270.4 L60.1,268.5 L60.4,266.7 L60.5,265.0 L60.5,263.4 L60.4,261.9 L60.3,260.3 L60.1,258.7 L60.0,257.0 L59.8,255.0 L59.6,252.8 L59.4,250.4 L59.2,247.8 L59.0,245.2 L58.8,242.6 L58.5,240.0 L58.2,237.5 L57.9,235.0 L57.6,232.5 L57.2,230.0 L56.9,227.5 L56.5,225.0 L56.1,222.5 L55.8,220.0 L55.4,217.5 L55.0,215.0 L54.6,212.5 L54.3,210.0 L54.0,207.6 L53.7,205.2 L53.5,202.8 L53.2,200.4 L53.0,197.8 L52.8,195.0 L52.6,192.0 L52.5,188.9 L52.3,185.6 L52.2,182.2 L52.1,178.7 L52.0,175.0 L51.9,171.1 L51.9,166.8 L51.9,162.4 L51.9,158.1 L51.9,153.9 L52.0,150.0 L52.1,146.5 L52.2,143.1 L52.4,139.9 L52.6,136.9 L52.8,133.9 L53.0,131.0 L53.2,128.1 L53.4,125.4 L53.6,122.8 L53.9,120.1 L54.1,117.6 L54.3,115.0 L54.5,112.5 L54.6,110.1 L54.7,107.7 L54.8,105.3 L55.1,102.7 L55.6,100.0 L56.3,97.0 L57.1,93.8 L58.0,90.4 L59.0,87.1 L60.1,83.8 L61.3,80.8 L62.5,77.9 L63.9,75.1 L65.3,72.4 L66.8,69.9 L68.3,67.6 L69.9,65.7 L71.6,64.1 L73.4,62.8 L75.2,61.8 L77.1,61.0 L78.9,60.4 L80.6,59.9 L82.2,59.6 L83.7,59.5 L85.2,59.5 L86.7,59.8 L88.2,60.1 L89.8,60.4 L91.5,60.8 L93.3,61.3 L95.1,61.9 L96.9,62.5 L98.7,63.3 L100.5,64.2 L102.3,65.2 L104.1,66.3 L105.9,67.6 L107.8,68.9 L109.5,70.3 L111.2,71.8 L112.9,73.5 L114.5,75.3 L116.1,77.2 L117.7,79.2 L119.1,81.0 L120.3,82.5 L121.3,83.7 L122.1,84.6 L122.7,85.5 L123.4,86.3 L124.1,87.2 L125.0,88.5 L126.1,90.1 L127.5,91.9 L128.8,93.8 L130.3,95.9 L131.6,97.9 L132.9,100.0 L134.1,102.1 L135.3,104.2 L136.4,106.4 L137.4,108.6 L138.4,110.8 L139.3,112.9 L140.1,115.0 L140.7,117.0 L141.3,119.0 L141.8,121.0 L142.2,123.0 L142.7,125.0 L143.2,127.0 L143.6,129.0 L144.0,130.9 L144.4,132.9 L144.7,134.9 L145.0,137.0 L145.2,139.1 L145.4,141.3 L145.5,143.5 L145.6,145.7 L145.7,147.9 L145.7,150.0 L145.7,152.0 L145.7,154.0 L145.6,156.0 L145.5,158.0 L145.4,160.0 L145.3,162.0 L145.2,164.1 L145.0,166.3 L144.9,168.4 L144.7,170.6 L144.5,172.8 L144.2,175.0 L143.9,177.2 L143.5,179.3 L143.1,181.5 L142.6,183.7 L142.1,185.8 L141.5,188.0 L140.8,190.1 L140.1,192.2 L139.3,194.2 L138.5,196.3 L137.6,198.6 L136.7,201.0 L135.8,203.8 L134.7,207.0 L133.7,210.2 L132.7,213.4 L131.6,216.4 L130.7,218.8 L129.9,220.6 L129.1,222.0 L128.4,223.1 L127.7,224.1 L126.8,225.2 L125.9,226.5 L124.8,228.1 L123.6,229.9 L122.4,231.7 L121.1,233.6 L119.7,235.5 L118.3,237.3 L116.9,239.1 L115.4,240.9 L113.9,242.8 L112.3,244.5 L110.7,246.3 L109.1,248.0 L107.4,249.6 L105.6,251.2 L103.8,252.7 L102.0,254.2 L100.2,255.7 L98.4,257.2 L96.6,258.7 L94.7,260.2 L92.9,261.7 L91.0,263.1 L89.3,264.4 L87.7,265.6 L86.2,266.6 L84.9,267.5 L83.7,268.2 L82.5,268.9 L81.3,269.5 L80.0,270.2 L78.7,270.9 L77.3,271.5 L75.9,272.1 L74.5,272.7 L73.2,273.2 L72.0,273.6 L70.9,273.9 L69.9,274.2 L68.9,274.4 L67.9,274.6 L67.0,274.7 L66.0,274.8 L64.9,274.9 L63.7,275.2 L62.5,275.3 L61.4,275.3 L60.4,275.1 Z" fill="none" stroke="#111" stroke-width="1.6"/>
<path d="M47.7,272.2 L48.3,272.4 L49.0,272.6 L49.9,273.0 L50.9,273.3 L52.0,273.6 L53.0,273.8 L54.1,274.0 L55.2,274.1 L56.3,274.2 L57.5,274.3 L58.7,274.4 L59.8,274.5 L60.9,274.6 L62.1,274.7 L63.3,274.8 L64.4,274.9 L65.3,274.9 L66.0,275.0" fill="none" stroke="#111" stroke-width="1.4"/>
<path d="M58.5,240.0 L58.7,242.9 L59.1,247.1 L59.5,251.9 L60.0,256.9 L60.3,261.4 L60.5,265.0 L60.5,267.6 L60.5,269.6 L60.4,271.1 L60.2,272.4 L60.0,273.5 L59.8,274.5 L59.6,275.4 L59.4,276.0 L59.2,276.4 L59.0,276.7 L58.7,277.1 L58.4,277.5 L58.0,278.0 L57.6,278.6 L57.2,279.2 L56.7,279.8 L56.4,280.3 L56.1,280.6" fill="none" stroke="#111" stroke-width="1.4"/>
<rect x="128.7" y="115.5" width="19.6" height="82.5" fill="none" stroke="#E8262A" stroke-width="2" stroke-dasharray="4,2.5"/>
<text x="134.4" y="33.9" font-family="Liberation Sans, sans-serif" font-size="11.6" fill="#E6E6F0" text-anchor="start" >(a)</text>
<text x="50.2" y="290.4" font-family="Liberation Sans, sans-serif" font-size="8" fill="#333" text-anchor="start" textLength="71" lengthAdjust="spacingAndGlyphs">80 - 99% ELM cycle</text>
<line x1="36" y1="9" x2="36" y2="294.4" stroke="#222" stroke-width="1"/>
<line x1="35.5" y1="294" x2="155" y2="294" stroke="#222" stroke-width="1"/>
<line x1="33.3" y1="288.9" x2="36" y2="288.9" stroke="#222" stroke-width="1"/>
<line x1="33.3" y1="280.8" x2="36" y2="280.8" stroke="#222" stroke-width="1"/>
<line x1="30" y1="272.8" x2="36" y2="272.8" stroke="#222" stroke-width="1"/>
<text x="28.7" y="275.6" font-family="Liberation Sans, sans-serif" font-size="8.3" fill="#333" text-anchor="end" >&#8722;1.5</text>
<line x1="33.3" y1="264.7" x2="36" y2="264.7" stroke="#222" stroke-width="1"/>
<line x1="33.3" y1="256.6" x2="36" y2="256.6" stroke="#222" stroke-width="1"/>
<line x1="33.3" y1="248.5" x2="36" y2="248.5" stroke="#222" stroke-width="1"/>
<line x1="33.3" y1="240.4" x2="36" y2="240.4" stroke="#222" stroke-width="1"/>
<line x1="30" y1="232.3" x2="36" y2="232.3" stroke="#222" stroke-width="1"/>
<text x="28.7" y="235.2" font-family="Liberation Sans, sans-serif" font-size="8.3" fill="#333" text-anchor="end" >&#8722;1</text>
<line x1="33.3" y1="224.2" x2="36" y2="224.2" stroke="#222" stroke-width="1"/>
<line x1="33.3" y1="216.1" x2="36" y2="216.1" stroke="#222" stroke-width="1"/>
<line x1="33.3" y1="208.0" x2="36" y2="208.0" stroke="#222" stroke-width="1"/>
<line x1="33.3" y1="199.9" x2="36" y2="199.9" stroke="#222" stroke-width="1"/>
<line x1="30" y1="191.9" x2="36" y2="191.9" stroke="#222" stroke-width="1"/>
<text x="28.7" y="194.8" font-family="Liberation Sans, sans-serif" font-size="8.3" fill="#333" text-anchor="end" >&#8722;0.5</text>
<line x1="33.3" y1="183.8" x2="36" y2="183.8" stroke="#222" stroke-width="1"/>
<line x1="33.3" y1="175.7" x2="36" y2="175.7" stroke="#222" stroke-width="1"/>
<line x1="33.3" y1="167.6" x2="36" y2="167.6" stroke="#222" stroke-width="1"/>
<line x1="33.3" y1="159.5" x2="36" y2="159.5" stroke="#222" stroke-width="1"/>
<line x1="30" y1="151.4" x2="36" y2="151.4" stroke="#222" stroke-width="1"/>
<text x="28.7" y="154.3" font-family="Liberation Sans, sans-serif" font-size="8.3" fill="#333" text-anchor="end" >0</text>
<line x1="33.3" y1="143.3" x2="36" y2="143.3" stroke="#222" stroke-width="1"/>
<line x1="33.3" y1="135.2" x2="36" y2="135.2" stroke="#222" stroke-width="1"/>
<line x1="33.3" y1="127.1" x2="36" y2="127.1" stroke="#222" stroke-width="1"/>
<line x1="33.3" y1="119.0" x2="36" y2="119.0" stroke="#222" stroke-width="1"/>
<line x1="30" y1="111.0" x2="36" y2="111.0" stroke="#222" stroke-width="1"/>
<text x="28.7" y="113.9" font-family="Liberation Sans, sans-serif" font-size="8.3" fill="#333" text-anchor="end" >0.5</text>
<line x1="33.3" y1="102.9" x2="36" y2="102.9" stroke="#222" stroke-width="1"/>
<line x1="33.3" y1="94.8" x2="36" y2="94.8" stroke="#222" stroke-width="1"/>
<line x1="33.3" y1="86.7" x2="36" y2="86.7" stroke="#222" stroke-width="1"/>
<line x1="33.3" y1="78.6" x2="36" y2="78.6" stroke="#222" stroke-width="1"/>
<line x1="30" y1="70.5" x2="36" y2="70.5" stroke="#222" stroke-width="1"/>
<text x="28.7" y="73.4" font-family="Liberation Sans, sans-serif" font-size="8.3" fill="#333" text-anchor="end" >1</text>
<line x1="33.3" y1="62.4" x2="36" y2="62.4" stroke="#222" stroke-width="1"/>
<line x1="33.3" y1="54.3" x2="36" y2="54.3" stroke="#222" stroke-width="1"/>
<line x1="33.3" y1="46.2" x2="36" y2="46.2" stroke="#222" stroke-width="1"/>
<line x1="33.3" y1="38.1" x2="36" y2="38.1" stroke="#222" stroke-width="1"/>
<line x1="30" y1="30.0" x2="36" y2="30.0" stroke="#222" stroke-width="1"/>
<text x="28.7" y="32.9" font-family="Liberation Sans, sans-serif" font-size="8.3" fill="#333" text-anchor="end" >1.5</text>
<line x1="33.3" y1="22.0" x2="36" y2="22.0" stroke="#222" stroke-width="1"/>
<line x1="33.3" y1="13.9" x2="36" y2="13.9" stroke="#222" stroke-width="1"/>
<line x1="35.7" y1="294" x2="35.7" y2="296.3" stroke="#222" stroke-width="1"/>
<line x1="43.9" y1="294" x2="43.9" y2="296.3" stroke="#222" stroke-width="1"/>
<line x1="52.0" y1="294" x2="52.0" y2="296.3" stroke="#222" stroke-width="1"/>
<line x1="60.1" y1="294" x2="60.1" y2="296.3" stroke="#222" stroke-width="1"/>
<line x1="68.2" y1="294" x2="68.2" y2="299" stroke="#222" stroke-width="1"/>
<text x="68.2" y="308.4" font-family="Liberation Sans, sans-serif" font-size="8.3" fill="#333" text-anchor="middle" >0.5</text>
<line x1="76.4" y1="294" x2="76.4" y2="296.3" stroke="#222" stroke-width="1"/>
<line x1="84.5" y1="294" x2="84.5" y2="296.3" stroke="#222" stroke-width="1"/>
<line x1="92.6" y1="294" x2="92.6" y2="296.3" stroke="#222" stroke-width="1"/>
<line x1="100.8" y1="294" x2="100.8" y2="296.3" stroke="#222" stroke-width="1"/>
<line x1="108.9" y1="294" x2="108.9" y2="299" stroke="#222" stroke-width="1"/>
<text x="108.9" y="308.4" font-family="Liberation Sans, sans-serif" font-size="8.3" fill="#333" text-anchor="middle" >1</text>
<line x1="117.0" y1="294" x2="117.0" y2="296.3" stroke="#222" stroke-width="1"/>
<line x1="125.2" y1="294" x2="125.2" y2="296.3" stroke="#222" stroke-width="1"/>
<line x1="133.3" y1="294" x2="133.3" y2="296.3" stroke="#222" stroke-width="1"/>
<line x1="141.4" y1="294" x2="141.4" y2="296.3" stroke="#222" stroke-width="1"/>
<line x1="149.6" y1="294" x2="149.6" y2="299" stroke="#222" stroke-width="1"/>
<text x="149.6" y="308.4" font-family="Liberation Sans, sans-serif" font-size="8.3" fill="#333" text-anchor="middle" >1.5</text>
<text x="95.5" y="317.5" font-family="Liberation Sans, sans-serif" font-size="8.8" fill="#333" text-anchor="middle" >R [m]</text>
<text transform="translate(8.3,151.5) rotate(-90)" font-family="Liberation Sans, sans-serif" font-size="8.7" fill="#333" text-anchor="middle">Z [m]</text>
<text x="241.9" y="7.9" font-family="Liberation Sans, sans-serif" font-size="8.9" fill="#222" text-anchor="start" >&#948;f XGC1 fully nonlinear regime</text>
<rect x="243" y="15.5" width="120.5" height="283" fill="#90CB7C"/>
<g clip-path="url(#clipB)">
<path d="M232.0,26.5 L234.0,26.7 L236.0,26.9 L238.0,27.2 L240.0,27.6 L242.0,28.0 L244.0,28.5 L246.0,29.0 L248.0,29.6 L250.0,30.2 L252.0,30.8 L254.0,31.5 L256.0,32.3 L258.0,33.1 L260.0,33.9 L262.0,34.8 L264.0,35.7 L266.0,36.7 L268.0,37.7 L270.0,38.8 L272.0,39.9 L274.0,41.0 L276.0,42.2 L278.0,43.4 L280.0,44.7 L282.0,46.0 L284.0,47.4 L286.0,48.8 L288.0,50.2 L290.0,51.7 L292.0,53.2 L294.0,54.8 L296.0,56.4 L298.0,58.0 L300.0,59.7 L302.0,61.4 L304.0,63.1 L306.0,64.9 L308.0,66.7 L310.0,68.6 L312.0,70.5 L314.0,72.4 L316.0,74.4 L318.0,76.4 L320.0,78.4 L322.0,80.5 L324.0,82.6 L326.0,84.7 L328.0,86.8 L330.0,89.0 L332.0,91.3 L334.0,93.5 L336.0,95.8 L338.0,98.1 L340.0,100.5 L342.0,102.9 L344.0,105.3 L346.0,107.7 L348.0,110.2 L350.0,112.7 L352.0,115.2 L352.1,115.4 L352.2,115.5 L352.4,115.7 L352.7,116.1 L353.2,116.8 L354.0,117.7 L355.2,119.0 L356.7,120.7 L358.5,122.5 L360.3,124.6 L362.0,126.7 L363.3,129.0 L364.3,131.4 L365.2,133.9 L365.9,136.6 L366.5,139.4 L367.0,142.2 L367.5,145.0 L367.9,147.8 L368.3,150.6 L368.6,153.4 L368.8,156.2 L368.9,159.1 L369.0,162.0 L369.0,164.9 L368.9,167.9 L368.8,171.0 L368.5,174.0 L368.2,177.0 L367.8,180.0 L367.3,183.0 L366.7,186.0 L366.0,189.0 L365.3,192.0 L364.4,194.8 L363.5,197.5 L362.4,200.1 L361.0,202.7 L359.6,205.2 L358.2,207.5 L357.0,209.5 L356.0,211.2 L355.3,212.3 L354.9,213.1 L354.5,213.6 L354.3,213.9 L354.2,214.2 L354.0,214.4 L352.0,217.6 L350.0,220.7 L348.0,223.7 L346.0,226.6 L344.0,229.5 L342.0,232.4 L340.0,235.1 L338.0,237.8 L336.0,240.5 L334.0,243.0 L332.0,245.6 L330.0,248.0 L328.0,250.4 L326.0,252.7 L324.0,255.0 L322.0,257.2 L320.0,259.4 L318.0,261.5 L316.0,263.5 L314.0,265.5 L312.0,267.4 L310.0,269.3 L308.0,271.1 L306.0,272.9 L304.0,274.7 L302.0,276.3 L300.0,278.0 L298.0,279.5 L296.0,281.1 L294.0,282.6 L292.0,284.0 L290.0,285.4 L288.0,286.8 L286.0,288.1 L284.0,289.3 L282.0,290.6 L280.0,291.7 L278.0,292.9 L276.0,294.0 L274.0,295.1 L272.0,296.1 L270.0,297.1 L268.0,298.0 L266.0,299.0 L264.0,299.9 L262.0,300.7 L260.0,301.5 L258.0,302.3 L256.0,303.1 L254.0,303.8 L252.0,304.5 L250.0,305.2 L248.0,305.8 L246.0,306.4 L244.0,307.0 L242.0,307.6 L240.0,308.1 L238.0,308.7 L236.0,309.2 L234.0,309.6 L230.0,330.0 L230.0,10.0 Z" fill="#8FCA80"/>
<path d="M228.9,55.3 L230.5,55.5 L231.8,55.6 L233.1,55.8 L234.5,56.1 L235.8,56.4 L237.1,56.7 L238.5,57.0 L239.9,57.4 L241.3,57.8 L242.7,58.3 L244.1,58.8 L245.6,59.3 L247.0,59.9 L248.5,60.5 L250.0,61.2 L251.5,61.9 L253.1,62.6 L254.6,63.4 L256.2,64.3 L257.8,65.1 L259.4,66.1 L261.0,67.0 L262.6,68.0 L264.2,69.1 L265.9,70.1 L267.6,71.3 L269.2,72.4 L270.9,73.7 L272.6,74.9 L274.3,76.2 L276.1,77.6 L277.8,78.9 L279.5,80.4 L281.3,81.8 L283.0,83.3 L284.8,84.9 L286.6,86.5 L288.4,88.1 L290.2,89.8 L292.0,91.5 L293.8,93.2 L295.6,95.0 L297.4,96.8 L299.3,98.7 L301.1,100.6 L302.9,102.5 L304.8,104.5 L306.6,106.5 L308.5,108.5 L310.4,110.6 L312.2,112.7 L314.1,114.8 L316.0,117.0 L317.9,119.2 L319.7,121.5 L321.6,123.7 L323.5,126.0 L325.4,128.4 L327.3,130.7 L329.3,133.2 L328.8,132.5 L328.8,132.5 L329.3,133.3 L329.9,134.1 L330.6,135.0 L332.0,136.7 L334.0,138.9 L335.8,140.7 L337.1,142.1 L337.8,142.9 L337.9,143.0 L337.5,142.2 L337.2,141.7 L337.4,142.2 L337.7,143.4 L338.1,145.2 L338.5,147.4 L338.9,149.8 L339.2,151.9 L339.5,153.9 L339.7,155.9 L339.9,158.0 L340.0,160.1 L340.0,162.3 L340.0,164.5 L339.9,166.8 L339.8,169.1 L339.6,171.4 L339.4,173.5 L339.1,175.6 L338.8,177.8 L338.3,180.1 L337.8,182.3 L337.3,184.2 L336.8,185.9 L336.5,187.0 L336.2,187.7 L335.5,188.9 L334.6,190.5 L333.5,192.4 L332.2,194.5 L331.0,196.5 L330.3,197.7 L330.1,197.9 L330.3,197.6 L330.6,197.2 L330.3,197.6 L329.5,198.9 L327.6,202.0 L325.7,204.8 L323.9,207.6 L322.1,210.3 L320.2,212.9 L318.4,215.5 L316.6,218.0 L314.8,220.4 L313.0,222.8 L311.2,225.1 L309.4,227.4 L307.6,229.5 L305.9,231.6 L304.1,233.7 L302.4,235.7 L300.6,237.6 L298.9,239.5 L297.1,241.3 L295.4,243.1 L293.7,244.8 L292.0,246.5 L290.3,248.1 L288.6,249.6 L286.9,251.1 L285.2,252.6 L283.5,254.0 L281.8,255.3 L280.2,256.7 L278.5,257.9 L276.9,259.2 L275.2,260.4 L273.6,261.5 L271.9,262.6 L270.3,263.7 L268.7,264.7 L267.0,265.7 L265.4,266.7 L263.8,267.6 L262.2,268.5 L260.5,269.4 L258.9,270.2 L257.3,271.0 L255.7,271.8 L254.0,272.6 L252.4,273.3 L250.8,274.0 L249.2,274.6 L247.5,275.3 L245.9,275.9 L244.2,276.5 L242.6,277.1 L240.9,277.6 L239.3,278.2 L237.6,278.7 L235.9,279.2 L234.3,279.7 L232.6,280.1 L230.9,280.6 L229.2,281.0 L227.3,281.4" fill="none" stroke="#74C6D0" stroke-width="26" filter="url(#bl4)" opacity="0.95"/>
<path d="M229.4,50.3 L231.1,50.5 L232.6,50.7 L234.0,50.9 L235.4,51.2 L236.9,51.5 L238.3,51.8 L239.8,52.2 L241.3,52.6 L242.8,53.1 L244.3,53.6 L245.8,54.1 L247.4,54.7 L248.9,55.3 L250.5,55.9 L252.1,56.6 L253.7,57.4 L255.3,58.2 L256.9,59.0 L258.6,59.9 L260.2,60.8 L261.9,61.7 L263.6,62.7 L265.3,63.8 L267.0,64.9 L268.7,66.0 L270.4,67.2 L272.1,68.4 L273.9,69.6 L275.6,70.9 L277.4,72.3 L279.1,73.6 L280.9,75.0 L282.7,76.5 L284.5,78.0 L286.3,79.5 L288.1,81.1 L289.9,82.8 L291.8,84.4 L293.6,86.1 L295.4,87.8 L297.3,89.6 L299.1,91.4 L301.0,93.3 L302.8,95.2 L304.7,97.1 L306.6,99.1 L308.4,101.0 L310.3,103.1 L312.2,105.1 L314.1,107.2 L316.0,109.4 L317.9,111.5 L319.8,113.7 L321.7,116.0 L323.6,118.2 L325.5,120.5 L327.4,122.9 L329.3,125.2 L331.2,127.6 L333.2,130.1 L332.8,129.6 L332.8,129.6 L333.3,130.2 L333.9,131.0 L334.5,131.8 L335.8,133.4 L337.7,135.4 L339.4,137.3 L340.8,138.7 L341.7,139.7 L342.1,140.2 L341.9,139.9 L341.9,139.9 L342.2,140.8 L342.5,142.2 L343.0,144.2 L343.4,146.5 L343.8,148.9 L344.2,151.2 L344.5,153.3 L344.7,155.5 L344.8,157.7 L345.0,159.9 L345.0,162.2 L345.0,164.6 L344.9,167.0 L344.8,169.4 L344.6,171.8 L344.4,174.1 L344.1,176.4 L343.7,178.7 L343.2,181.1 L342.7,183.4 L342.2,185.6 L341.6,187.4 L341.1,188.8 L340.7,189.9 L339.9,191.3 L338.9,193.0 L337.7,195.0 L336.5,197.1 L335.3,199.0 L334.6,200.2 L334.4,200.6 L334.5,200.4 L334.7,200.1 L334.4,200.5 L333.7,201.5 L331.8,204.6 L329.9,207.5 L328.0,210.4 L326.2,213.1 L324.3,215.8 L322.5,218.4 L320.6,221.0 L318.8,223.4 L317.0,225.9 L315.1,228.2 L313.3,230.5 L311.5,232.7 L309.7,234.9 L307.9,237.0 L306.1,239.0 L304.3,241.0 L302.5,242.9 L300.7,244.8 L299.0,246.6 L297.2,248.4 L295.4,250.1 L293.7,251.7 L291.9,253.3 L290.2,254.9 L288.4,256.4 L286.7,257.8 L285.0,259.2 L283.3,260.6 L281.5,261.9 L279.8,263.2 L278.1,264.4 L276.4,265.6 L274.7,266.8 L273.0,267.9 L271.3,269.0 L269.6,270.0 L267.9,271.0 L266.2,272.0 L264.5,272.9 L262.9,273.8 L261.2,274.7 L259.5,275.5 L257.8,276.3 L256.1,277.1 L254.4,277.9 L252.7,278.6 L251.0,279.3 L249.3,279.9 L247.6,280.6 L245.9,281.2 L244.2,281.8 L242.5,282.4 L240.8,282.9 L239.1,283.5 L237.3,284.0 L235.6,284.5 L233.9,284.9 L232.1,285.4 L230.4,285.8 L228.5,286.3" fill="none" stroke="#6AC3DA" stroke-width="12" filter="url(#bl2)" opacity="0.6"/>
<ellipse cx="278" cy="142" rx="22" ry="12" transform="rotate(0 278 142)" fill="#A2CE6A" opacity="0.7" filter="url(#bl3)"/>
<ellipse cx="265" cy="175" rx="14" ry="10" transform="rotate(0 265 175)" fill="#9FCD70" opacity="0.6" filter="url(#bl3)"/>
<ellipse cx="262" cy="232" rx="18" ry="5" transform="rotate(-30 262 232)" fill="#D8DC60" opacity="0.8" filter="url(#bl3)"/>
<ellipse cx="255" cy="250" rx="12" ry="4" transform="rotate(-25 255 250)" fill="#E0DC50" opacity="0.7" filter="url(#bl3)"/>
<ellipse cx="285" cy="205" rx="16" ry="5" transform="rotate(-40 285 205)" fill="#C8D870" opacity="0.6" filter="url(#bl3)"/>
<ellipse cx="300" cy="178" rx="10" ry="5" transform="rotate(-60 300 178)" fill="#C8D870" opacity="0.5" filter="url(#bl3)"/>
<ellipse cx="258" cy="120" rx="14" ry="6" transform="rotate(20 258 120)" fill="#9ED0B0" opacity="0.6" filter="url(#bl3)"/>
<ellipse cx="270" cy="95" rx="16" ry="6" transform="rotate(25 270 95)" fill="#80C8C8" opacity="0.6" filter="url(#bl3)"/>
<ellipse cx="254.7" cy="57.6" rx="9" ry="4" transform="rotate(25 254.7 57.6)" fill="#2B46A0" filter="url(#bl15)"/>
<ellipse cx="251" cy="43" rx="5" ry="2.5" transform="rotate(20 251 43)" fill="#3A63B5" filter="url(#bl15)"/>
<ellipse cx="281" cy="61" rx="13" ry="6" transform="rotate(30 281 61)" fill="#F2E21F" filter="url(#bl2)"/>
<ellipse cx="276" cy="57.5" rx="7" ry="3.5" transform="rotate(28 276 57.5)" fill="#E0301E" filter="url(#bl15)"/>
<ellipse cx="274.5" cy="57" rx="3.5" ry="2" transform="rotate(28 274.5 57)" fill="#B01018" filter="url(#bl1)"/>
<ellipse cx="279.5" cy="75" rx="8" ry="3.5" transform="rotate(30 279.5 75)" fill="#2E50A8" filter="url(#bl15)"/>
<ellipse cx="290" cy="64" rx="6" ry="3" transform="rotate(25 290 64)" fill="#F2E21F" filter="url(#bl15)"/>
<ellipse cx="307" cy="88" rx="9" ry="3.5" transform="rotate(40 307 88)" fill="#F2E21F" filter="url(#bl15)"/>
<ellipse cx="304" cy="87" rx="4" ry="2" transform="rotate(40 304 87)" fill="#F5B020" filter="url(#bl1)"/>
<ellipse cx="324" cy="98.7" rx="6" ry="3" transform="rotate(45 324 98.7)" fill="#2E50A8" filter="url(#bl15)"/>
<ellipse cx="313.4" cy="103" rx="6" ry="3" transform="rotate(45 313.4 103)" fill="#3E70C0" filter="url(#bl2)"/>
<ellipse cx="321" cy="95" rx="3" ry="2" transform="rotate(45 321 95)" fill="#2E50A8" filter="url(#bl1)"/>
<ellipse cx="338" cy="122.2" rx="7" ry="3.5" transform="rotate(60 338 122.2)" fill="#2B46A0" filter="url(#bl15)"/>
<ellipse cx="335.6" cy="144.3" rx="10" ry="5" transform="rotate(80 335.6 144.3)" fill="#2B46A0" filter="url(#bl2)"/>
<ellipse cx="347.8" cy="167.5" rx="4" ry="3.5" transform="rotate(80 347.8 167.5)" fill="#2B46A0" filter="url(#bl15)"/>
<ellipse cx="333.2" cy="182.2" rx="5" ry="3.5" transform="rotate(100 333.2 182.2)" fill="#2B46A0" filter="url(#bl15)"/>
<ellipse cx="324.6" cy="162.6" rx="8" ry="5" transform="rotate(80 324.6 162.6)" fill="#C8DC6A" filter="url(#bl3)"/>
<ellipse cx="348.6" cy="172" rx="3" ry="3" transform="rotate(90 348.6 172)" fill="#2B46A0" filter="url(#bl15)"/>
<ellipse cx="354" cy="183.4" rx="3" ry="4" transform="rotate(100 354 183.4)" fill="#F2E21F" filter="url(#bl15)"/>
<ellipse cx="342.4" cy="203.6" rx="4" ry="3" transform="rotate(120 342.4 203.6)" fill="#F2C020" filter="url(#bl15)"/>
<ellipse cx="316.5" cy="193" rx="6" ry="3" transform="rotate(110 316.5 193)" fill="#E0E050" filter="url(#bl2)"/>
<ellipse cx="321" cy="217.4" rx="7" ry="3.5" transform="rotate(125 321 217.4)" fill="#2B46A0" filter="url(#bl15)"/>
<ellipse cx="334.8" cy="212.8" rx="6" ry="2.5" transform="rotate(125 334.8 212.8)" fill="#F2E21F" filter="url(#bl15)"/>
<ellipse cx="327" cy="228" rx="13" ry="3.5" transform="rotate(125 327 228)" fill="#F2D820" filter="url(#bl15)"/>
<ellipse cx="326" cy="229" rx="8" ry="2" transform="rotate(125 326 229)" fill="#E84020" filter="url(#bl1)"/>
<ellipse cx="324" cy="232" rx="3" ry="1.5" transform="rotate(125 324 232)" fill="#C01018" filter="url(#bl1)"/>
<ellipse cx="293.4" cy="248" rx="9" ry="4.5" transform="rotate(150 293.4 248)" fill="#2B46A0" filter="url(#bl15)"/>
<ellipse cx="247.8" cy="270.7" rx="10" ry="5.5" transform="rotate(160 247.8 270.7)" fill="#2B46A0" filter="url(#bl15)"/>
<ellipse cx="273.8" cy="260.3" rx="8" ry="3" transform="rotate(160 273.8 260.3)" fill="#F2E21F" filter="url(#bl15)"/>
<ellipse cx="247.8" cy="286.3" rx="7" ry="3" transform="rotate(165 247.8 286.3)" fill="#F5D020" filter="url(#bl15)"/>
<ellipse cx="263.4" cy="272" rx="6" ry="2.5" transform="rotate(160 263.4 272)" fill="#F2E21F" filter="url(#bl15)"/>
<ellipse cx="262" cy="238" rx="14" ry="4" transform="rotate(160 262 238)" fill="#E0E060" filter="url(#bl3)"/>
<ellipse cx="275" cy="228" rx="10" ry="4" transform="rotate(160 275 228)" fill="#D0E070" filter="url(#bl3)"/>
<ellipse cx="300" cy="236" rx="10" ry="4" transform="rotate(150 300 236)" fill="#70C8E0" filter="url(#bl2)"/>
<ellipse cx="262" cy="256" rx="8" ry="4" transform="rotate(160 262 256)" fill="#70C0E0" filter="url(#bl2)"/>
<path d="M232.0,26.5 L234.0,26.7 L236.0,26.9 L238.0,27.2 L240.0,27.6 L242.0,28.0 L244.0,28.5 L246.0,29.0 L248.0,29.6 L250.0,30.2 L252.0,30.8 L254.0,31.5 L256.0,32.3 L258.0,33.1 L260.0,33.9 L262.0,34.8 L264.0,35.7 L266.0,36.7 L268.0,37.7 L270.0,38.8 L272.0,39.9 L274.0,41.0 L276.0,42.2 L278.0,43.4 L280.0,44.7 L282.0,46.0 L284.0,47.4 L286.0,48.8 L288.0,50.2 L290.0,51.7 L292.0,53.2 L294.0,54.8 L296.0,56.4 L298.0,58.0 L300.0,59.7 L302.0,61.4 L304.0,63.1 L306.0,64.9 L308.0,66.7 L310.0,68.6 L312.0,70.5 L314.0,72.4 L316.0,74.4 L318.0,76.4 L320.0,78.4 L322.0,80.5 L324.0,82.6 L326.0,84.7 L328.0,86.8 L330.0,89.0 L332.0,91.3 L334.0,93.5 L336.0,95.8 L338.0,98.1 L340.0,100.5 L342.0,102.9 L344.0,105.3 L346.0,107.7 L348.0,110.2 L350.0,112.7 L352.0,115.2 L352.1,115.4 L352.2,115.5 L352.4,115.7 L352.7,116.1 L353.2,116.8 L354.0,117.7 L355.2,119.0 L356.7,120.7 L358.5,122.5 L360.3,124.6 L362.0,126.7 L363.3,129.0 L364.3,131.4 L365.2,133.9 L365.9,136.6 L366.5,139.4 L367.0,142.2 L367.5,145.0 L367.9,147.8 L368.3,150.6 L368.6,153.4 L368.8,156.2 L368.9,159.1 L369.0,162.0 L369.0,164.9 L368.9,167.9 L368.8,171.0 L368.5,174.0 L368.2,177.0 L367.8,180.0 L367.3,183.0 L366.7,186.0 L366.0,189.0 L365.3,192.0 L364.4,194.8 L363.5,197.5 L362.4,200.1 L361.0,202.7 L359.6,205.2 L358.2,207.5 L357.0,209.5 L356.0,211.2 L355.3,212.3 L354.9,213.1 L354.5,213.6 L354.3,213.9 L354.2,214.2 L354.0,214.4 L352.0,217.6 L350.0,220.7 L348.0,223.7 L346.0,226.6 L344.0,229.5 L342.0,232.4 L340.0,235.1 L338.0,237.8 L336.0,240.5 L334.0,243.0 L332.0,245.6 L330.0,248.0 L328.0,250.4 L326.0,252.7 L324.0,255.0 L322.0,257.2 L320.0,259.4 L318.0,261.5 L316.0,263.5 L314.0,265.5 L312.0,267.4 L310.0,269.3 L308.0,271.1 L306.0,272.9 L304.0,274.7 L302.0,276.3 L300.0,278.0 L298.0,279.5 L296.0,281.1 L294.0,282.6 L292.0,284.0 L290.0,285.4 L288.0,286.8 L286.0,288.1 L284.0,289.3 L282.0,290.6 L280.0,291.7 L278.0,292.9 L276.0,294.0 L274.0,295.1 L272.0,296.1 L270.0,297.1 L268.0,298.0 L266.0,299.0 L264.0,299.9 L262.0,300.7 L260.0,301.5 L258.0,302.3 L256.0,303.1 L254.0,303.8 L252.0,304.5 L250.0,305.2 L248.0,305.8 L246.0,306.4 L244.0,307.0 L242.0,307.6 L240.0,308.1 L238.0,308.7 L236.0,309.2 L234.0,309.6 L380.0,330.0 L380.0,0.0 Z" fill="#90CB7C"/>
<path d="M328.4,15.5 L330.6,15.5 L330.6,18.1 L332.8,18.1 L332.8,20.6 L335.0,20.6 L335.0,23.2 L337.2,23.2 L337.2,25.8 L339.4,25.8 L339.4,28.3 L341.6,28.3 L341.6,30.9 L343.8,30.9 L343.8,33.4 L345.9,33.4 L345.9,36.0 L348.1,36.0 L348.1,38.6 L350.3,38.6 L350.3,41.1 L352.5,41.1 L352.5,43.7 L354.7,43.7 L354.7,46.2 L356.9,46.2 L356.9,48.8 L359.1,48.8 L359.1,51.4 L361.3,51.4 L361.3,53.9 L363.5,53.9 L363.5,56.5 L363.5,15.5 Z" fill="#2E2F80"/>
<path d="M330.5,298.5 L332.6,298.5 L332.6,296.0 L334.6,296.0 L334.6,293.4 L336.7,293.4 L336.7,290.9 L338.8,290.9 L338.8,288.4 L340.8,288.4 L340.8,285.8 L342.9,285.8 L342.9,283.3 L344.9,283.3 L344.9,280.8 L347.0,280.8 L347.0,278.2 L349.1,278.2 L349.1,275.7 L351.1,275.7 L351.1,273.2 L353.2,273.2 L353.2,270.7 L355.2,270.7 L355.2,268.1 L357.3,268.1 L357.3,265.6 L359.4,265.6 L359.4,263.1 L361.4,263.1 L361.4,260.5 L363.5,260.5 L363.5,258.0 L363.5,298.5 Z" fill="#2E2F80"/>
<path d="M231.2,33.7 L233.1,33.9 L235.0,34.2 L236.8,34.4 L238.6,34.8 L240.4,35.2 L242.3,35.6 L244.1,36.1 L246.0,36.6 L247.8,37.1 L249.7,37.7 L251.5,38.4 L253.4,39.1 L255.2,39.8 L257.1,40.6 L259.0,41.4 L260.9,42.3 L262.7,43.2 L264.6,44.2 L266.5,45.2 L268.4,46.2 L270.3,47.3 L272.2,48.5 L274.1,49.6 L276.0,50.8 L277.9,52.1 L279.9,53.4 L281.8,54.7 L283.7,56.1 L285.6,57.5 L287.6,59.0 L289.5,60.5 L291.4,62.1 L293.4,63.6 L295.3,65.3 L297.2,66.9 L299.2,68.6 L301.1,70.3 L303.1,72.1 L305.0,73.9 L307.0,75.8 L308.9,77.6 L310.9,79.6 L312.8,81.5 L314.8,83.5 L316.7,85.5 L318.7,87.6 L320.7,89.7 L322.6,91.8 L324.6,93.9 L326.6,96.1 L328.6,98.3 L330.6,100.5 L332.6,102.8 L334.6,105.1 L336.6,107.3 L338.7,109.6 L340.8,111.9 L343.0,114.2 L345.1,116.5 L347.3,118.9 L347.3,118.9 L347.4,119.0 L347.7,119.3 L348.1,119.8 L348.7,120.4 L349.7,121.5 L351.1,122.9 L352.8,124.4 L354.6,126.1 L356.3,127.9 L357.7,129.6 L358.7,131.3 L359.5,133.2 L360.1,135.5 L360.5,137.9 L360.8,140.6 L361.0,143.3 L361.2,146.1 L361.4,148.7 L361.5,151.3 L361.6,154.0 L361.7,156.7 L361.8,159.3 L361.8,162.1 L361.7,164.8 L361.6,167.7 L361.5,170.5 L361.3,173.3 L361.0,176.1 L360.6,178.9 L360.1,181.7 L359.6,184.5 L358.9,187.3 L358.3,190.0 L357.5,192.6 L356.7,194.9 L355.8,197.0 L354.6,199.2 L353.3,201.5 L352.0,203.7 L350.7,205.7 L349.7,207.5 L349.0,208.7 L348.6,209.3 L348.4,209.6 L348.4,209.7 L348.2,210.0 L347.8,210.5 L345.8,213.6 L343.9,216.7 L341.9,219.6 L340.0,222.5 L338.0,225.4 L336.1,228.1 L334.1,230.8 L332.2,233.5 L330.2,236.0 L328.3,238.5 L326.3,241.0 L324.4,243.4 L322.4,245.7 L320.5,247.9 L318.6,250.1 L316.6,252.3 L314.7,254.4 L312.7,256.4 L310.8,258.4 L308.9,260.3 L307.0,262.2 L305.0,264.0 L303.1,265.7 L301.2,267.4 L299.3,269.1 L297.3,270.7 L295.4,272.3 L293.5,273.8 L291.6,275.3 L289.7,276.7 L287.8,278.1 L285.9,279.4 L284.0,280.7 L282.0,281.9 L280.1,283.1 L278.2,284.3 L276.3,285.4 L274.4,286.5 L272.5,287.6 L270.6,288.6 L268.7,289.6 L266.8,290.5 L264.9,291.4 L263.0,292.3 L261.1,293.2 L259.2,294.0 L257.3,294.8 L255.4,295.5 L253.5,296.2 L251.5,296.9 L249.6,297.6 L247.7,298.3 L245.8,298.9 L243.9,299.5 L242.0,300.0 L240.1,300.6 L238.1,301.1 L236.2,301.6 L234.3,302.1 L232.3,302.5" fill="none" stroke="#fff" stroke-width="1.1" stroke-dasharray="2.6,1.5"/>
<path d="M230.4,41.8 L232.2,42.0 L233.8,42.2 L235.4,42.4 L237.1,42.7 L238.7,43.1 L240.4,43.5 L242.0,43.9 L243.7,44.3 L245.4,44.9 L247.1,45.4 L248.8,46.0 L250.5,46.6 L252.2,47.3 L253.9,48.0 L255.6,48.8 L257.4,49.6 L259.1,50.5 L260.9,51.4 L262.7,52.3 L264.4,53.3 L266.2,54.3 L268.0,55.4 L269.8,56.5 L271.6,57.6 L273.4,58.8 L275.3,60.1 L277.1,61.4 L278.9,62.7 L280.8,64.0 L282.6,65.4 L284.5,66.9 L286.3,68.4 L288.2,69.9 L290.1,71.4 L291.9,73.0 L293.8,74.7 L295.7,76.4 L297.6,78.1 L299.5,79.8 L301.4,81.6 L303.3,83.5 L305.2,85.3 L307.1,87.2 L309.0,89.2 L310.9,91.1 L312.8,93.1 L314.7,95.2 L316.7,97.2 L318.6,99.3 L320.6,101.5 L322.5,103.6 L324.5,105.8 L326.5,108.0 L328.6,110.1 L330.7,112.3 L332.8,114.5 L335.1,116.6 L337.4,118.7 L339.7,120.9 L342.1,123.0 L342.0,122.8 L342.1,122.9 L342.5,123.3 L343.0,123.8 L343.7,124.5 L344.9,125.6 L346.6,127.1 L348.4,128.6 L350.2,130.1 L351.8,131.5 L353.0,132.8 L353.7,133.9 L354.1,135.3 L354.4,137.1 L354.5,139.4 L354.4,141.9 L354.3,144.5 L354.2,147.2 L354.1,149.8 L354.0,152.2 L353.9,154.7 L353.8,157.1 L353.8,159.6 L353.7,162.1 L353.7,164.7 L353.6,167.4 L353.4,170.0 L353.2,172.6 L352.9,175.2 L352.6,177.7 L352.1,180.3 L351.6,182.9 L351.1,185.4 L350.4,187.9 L349.8,190.1 L349.1,191.9 L348.4,193.5 L347.5,195.4 L346.3,197.4 L345.1,199.5 L343.8,201.5 L342.7,203.4 L342.0,204.6 L341.7,205.1 L341.7,205.1 L341.7,205.1 L341.5,205.4 L341.0,206.1 L339.0,209.3 L337.1,212.2 L335.2,215.1 L333.3,218.0 L331.4,220.7 L329.5,223.4 L327.6,226.0 L325.7,228.6 L323.8,231.1 L321.9,233.5 L320.0,235.9 L318.1,238.2 L316.3,240.4 L314.4,242.6 L312.5,244.7 L310.6,246.8 L308.8,248.8 L306.9,250.8 L305.1,252.7 L303.2,254.5 L301.4,256.3 L299.5,258.0 L297.7,259.7 L295.8,261.3 L294.0,262.9 L292.2,264.5 L290.4,266.0 L288.5,267.4 L286.7,268.8 L284.9,270.1 L283.1,271.4 L281.3,272.7 L279.5,273.9 L277.7,275.1 L275.9,276.3 L274.1,277.4 L272.2,278.4 L270.4,279.5 L268.6,280.5 L266.8,281.4 L265.0,282.4 L263.2,283.2 L261.4,284.1 L259.6,284.9 L257.8,285.7 L256.0,286.5 L254.2,287.3 L252.4,288.0 L250.6,288.7 L248.8,289.3 L247.0,289.9 L245.2,290.6 L243.4,291.1 L241.5,291.7 L239.7,292.2 L237.9,292.8 L236.1,293.3 L234.2,293.7 L232.4,294.2 L230.5,294.6" fill="none" stroke="#fff" stroke-width="1.1" stroke-dasharray="2.6,1.5"/>
<path d="M229.5,49.8 L231.2,50.0 L232.6,50.2 L234.1,50.4 L235.5,50.7 L237.0,51.0 L238.4,51.3 L239.9,51.7 L241.4,52.1 L242.9,52.6 L244.5,53.1 L246.0,53.6 L247.6,54.2 L249.1,54.8 L250.7,55.5 L252.3,56.2 L253.9,56.9 L255.5,57.7 L257.2,58.6 L258.8,59.4 L260.5,60.3 L262.1,61.3 L263.8,62.3 L265.5,63.4 L267.2,64.4 L268.9,65.6 L270.7,66.7 L272.4,68.0 L274.2,69.2 L275.9,70.5 L277.7,71.9 L279.5,73.2 L281.2,74.7 L283.0,76.1 L284.8,77.6 L286.6,79.2 L288.5,80.8 L290.3,82.4 L292.1,84.0 L293.9,85.7 L295.8,87.5 L297.6,89.3 L299.5,91.1 L301.3,92.9 L303.2,94.8 L305.1,96.7 L306.9,98.7 L308.8,100.7 L310.7,102.7 L312.6,104.8 L314.5,106.8 L316.5,108.9 L318.5,111.0 L320.5,113.1 L322.6,115.2 L324.7,117.3 L327.0,119.3 L329.3,121.3 L331.8,123.3 L334.3,125.2 L336.9,127.1 L336.7,126.7 L336.8,126.8 L337.2,127.3 L337.8,127.8 L338.6,128.5 L340.1,129.8 L342.0,131.3 L344.1,132.8 L345.9,134.0 L347.4,135.1 L348.3,136.0 L348.6,136.5 L348.7,137.3 L348.7,138.8 L348.5,140.8 L348.1,143.1 L347.6,145.7 L347.2,148.4 L346.8,150.8 L346.4,153.1 L346.1,155.4 L345.9,157.6 L345.8,159.9 L345.7,162.2 L345.6,164.6 L345.5,167.1 L345.3,169.5 L345.1,171.9 L344.9,174.2 L344.6,176.5 L344.2,178.8 L343.7,181.2 L343.2,183.5 L342.6,185.7 L342.1,187.6 L341.6,189.0 L341.1,190.1 L340.4,191.5 L339.4,193.3 L338.2,195.2 L336.9,197.3 L335.7,199.3 L335.0,200.5 L334.8,200.8 L334.9,200.7 L335.1,200.4 L334.8,200.8 L334.1,201.8 L332.2,204.9 L330.3,207.8 L328.5,210.6 L326.6,213.4 L324.7,216.1 L322.9,218.7 L321.0,221.3 L319.2,223.7 L317.4,226.2 L315.5,228.5 L313.7,230.8 L311.9,233.0 L310.1,235.2 L308.3,237.3 L306.5,239.4 L304.7,241.3 L302.9,243.3 L301.1,245.1 L299.3,247.0 L297.5,248.7 L295.8,250.4 L294.0,252.1 L292.3,253.7 L290.5,255.3 L288.8,256.8 L287.0,258.2 L285.3,259.6 L283.6,261.0 L281.8,262.3 L280.1,263.6 L278.4,264.8 L276.7,266.0 L275.0,267.2 L273.3,268.3 L271.6,269.4 L269.9,270.4 L268.2,271.4 L266.5,272.4 L264.8,273.3 L263.1,274.3 L261.4,275.1 L259.7,276.0 L258.0,276.8 L256.3,277.6 L254.6,278.3 L252.9,279.0 L251.2,279.7 L249.5,280.4 L247.8,281.1 L246.1,281.7 L244.4,282.3 L242.7,282.9 L240.9,283.4 L239.2,284.0 L237.5,284.5 L235.7,285.0 L234.0,285.4 L232.2,285.9 L230.5,286.3 L228.6,286.8" fill="none" stroke="#fff" stroke-width="1.1" stroke-dasharray="2.6,1.5"/>
<path d="M228.7,57.3 L230.3,57.4 L231.6,57.6 L232.8,57.8 L234.1,58.0 L235.4,58.3 L236.7,58.6 L238.0,58.9 L239.3,59.3 L240.7,59.7 L242.1,60.2 L243.4,60.7 L244.9,61.2 L246.3,61.8 L247.7,62.4 L249.2,63.0 L250.7,63.7 L252.2,64.4 L253.7,65.2 L255.2,66.0 L256.8,66.9 L258.4,67.8 L259.9,68.7 L261.5,69.7 L263.1,70.7 L264.8,71.8 L266.4,72.9 L268.1,74.1 L269.7,75.3 L271.4,76.5 L273.1,77.8 L274.8,79.1 L276.5,80.5 L278.3,81.9 L280.0,83.4 L281.7,84.8 L283.5,86.4 L285.3,88.0 L287.0,89.6 L288.8,91.2 L290.6,92.9 L292.4,94.6 L294.2,96.4 L296.0,98.2 L297.8,100.1 L299.7,101.9 L301.5,103.9 L303.3,105.8 L305.2,107.8 L307.1,109.8 L309.0,111.8 L310.9,113.8 L312.9,115.9 L314.9,117.9 L317.0,119.9 L319.2,121.9 L321.5,123.8 L324.0,125.6 L326.6,127.4 L329.3,129.2 L332.1,130.9 L331.7,130.3 L331.8,130.3 L332.4,130.9 L333.1,131.6 L334.0,132.3 L335.6,133.6 L337.9,135.3 L340.0,136.7 L341.9,137.7 L343.2,138.5 L343.9,138.9 L343.9,138.9 L343.7,139.2 L343.5,140.4 L342.9,142.1 L342.2,144.3 L341.4,146.9 L340.7,149.5 L340.0,151.8 L339.4,153.9 L339.0,156.0 L338.7,158.1 L338.4,160.2 L338.3,162.3 L338.1,164.5 L338.0,166.8 L337.9,169.0 L337.7,171.2 L337.4,173.3 L337.2,175.3 L336.8,177.5 L336.4,179.7 L335.9,181.8 L335.4,183.7 L334.9,185.3 L334.6,186.3 L334.3,186.9 L333.8,187.9 L332.9,189.5 L331.8,191.3 L330.5,193.4 L329.2,195.5 L328.5,196.7 L328.4,196.9 L328.7,196.5 L329.0,196.1 L328.7,196.5 L327.8,197.8 L325.9,200.9 L324.0,203.7 L322.2,206.5 L320.4,209.2 L318.6,211.8 L316.8,214.3 L315.0,216.8 L313.2,219.2 L311.4,221.6 L309.6,223.9 L307.9,226.1 L306.1,228.3 L304.4,230.4 L302.6,232.4 L300.9,234.4 L299.1,236.3 L297.4,238.1 L295.7,239.9 L294.0,241.7 L292.3,243.4 L290.6,245.0 L288.9,246.6 L287.2,248.1 L285.6,249.6 L283.9,251.1 L282.2,252.4 L280.6,253.8 L279.0,255.1 L277.3,256.3 L275.7,257.6 L274.1,258.7 L272.4,259.9 L270.8,261.0 L269.2,262.0 L267.6,263.0 L266.0,264.0 L264.4,265.0 L262.8,265.9 L261.2,266.8 L259.6,267.6 L258.0,268.4 L256.4,269.2 L254.8,270.0 L253.2,270.7 L251.6,271.4 L250.0,272.1 L248.4,272.8 L246.8,273.4 L245.2,274.0 L243.6,274.6 L241.9,275.2 L240.3,275.7 L238.7,276.3 L237.0,276.8 L235.4,277.3 L233.7,277.7 L232.1,278.2 L230.4,278.6 L228.7,279.0 L226.9,279.5" fill="none" stroke="#fff" stroke-width="1.1" stroke-dasharray="2.6,1.5"/>
<path d="M232.0,26.5 L234.0,26.7 L236.0,26.9 L238.0,27.2 L240.0,27.6 L242.0,28.0 L244.0,28.5 L246.0,29.0 L248.0,29.6 L250.0,30.2 L252.0,30.8 L254.0,31.5 L256.0,32.3 L258.0,33.1 L260.0,33.9 L262.0,34.8 L264.0,35.7 L266.0,36.7 L268.0,37.7 L270.0,38.8 L272.0,39.9 L274.0,41.0 L276.0,42.2 L278.0,43.4 L280.0,44.7 L282.0,46.0 L284.0,47.4 L286.0,48.8 L288.0,50.2 L290.0,51.7 L292.0,53.2 L294.0,54.8 L296.0,56.4 L298.0,58.0 L300.0,59.7 L302.0,61.4 L304.0,63.1 L306.0,64.9 L308.0,66.7 L310.0,68.6 L312.0,70.5 L314.0,72.4 L316.0,74.4 L318.0,76.4 L320.0,78.4 L322.0,80.5 L324.0,82.6 L326.0,84.7 L328.0,86.8 L330.0,89.0 L332.0,91.3 L334.0,93.5 L336.0,95.8 L338.0,98.1 L340.0,100.5 L342.0,102.9 L344.0,105.3 L346.0,107.7 L348.0,110.2 L350.0,112.7 L352.0,115.2 L352.1,115.4 L352.2,115.5 L352.4,115.7 L352.7,116.1 L353.2,116.8 L354.0,117.7 L355.2,119.0 L356.7,120.7 L358.5,122.5 L360.3,124.6 L362.0,126.7 L363.3,129.0 L364.3,131.4 L365.2,133.9 L365.9,136.6 L366.5,139.4 L367.0,142.2 L367.5,145.0 L367.9,147.8 L368.3,150.6 L368.6,153.4 L368.8,156.2 L368.9,159.1" fill="none" stroke="#111" stroke-width="1.05"/>
<path d="M368.9,159.1 L369.0,162.0 L369.0,164.9 L368.9,167.9 L368.8,171.0 L368.5,174.0 L368.2,177.0 L367.8,180.0 L367.3,183.0 L366.7,186.0 L366.0,189.0 L365.3,192.0 L364.4,194.8 L363.5,197.5 L362.4,200.1 L361.0,202.7 L359.6,205.2 L358.2,207.5 L357.0,209.5 L356.0,211.2 L355.3,212.3 L354.9,213.1 L354.5,213.6 L354.3,213.9 L354.2,214.2 L354.0,214.4 L352.0,217.6 L350.0,220.7 L348.0,223.7 L346.0,226.6 L344.0,229.5 L342.0,232.4 L340.0,235.1 L338.0,237.8 L336.0,240.5 L334.0,243.0 L332.0,245.6 L330.0,248.0 L328.0,250.4 L326.0,252.7 L324.0,255.0 L322.0,257.2 L320.0,259.4 L318.0,261.5 L316.0,263.5 L314.0,265.5 L312.0,267.4 L310.0,269.3 L308.0,271.1 L306.0,272.9 L304.0,274.7 L302.0,276.3 L300.0,278.0 L298.0,279.5 L296.0,281.1 L294.0,282.6 L292.0,284.0 L290.0,285.4 L288.0,286.8 L286.0,288.1 L284.0,289.3 L282.0,290.6 L280.0,291.7 L278.0,292.9 L276.0,294.0 L274.0,295.1 L272.0,296.1 L270.0,297.1 L268.0,298.0 L266.0,299.0 L264.0,299.9 L262.0,300.7 L260.0,301.5 L258.0,302.3 L256.0,303.1 L254.0,303.8 L252.0,304.5 L250.0,305.2 L248.0,305.8 L246.0,306.4 L244.0,307.0 L242.0,307.6 L240.0,308.1 L238.0,308.7 L236.0,309.2 L234.0,309.6" fill="none" stroke="#fff" stroke-width="1"/>
<path d="M368.9,159.1 L369.0,162.0 L369.0,164.9 L368.9,167.9 L368.8,171.0 L368.5,174.0 L368.2,177.0 L367.8,180.0 L367.3,183.0 L366.7,186.0 L366.0,189.0 L365.3,192.0 L364.4,194.8 L363.5,197.5 L362.4,200.1 L361.0,202.7 L359.6,205.2 L358.2,207.5 L357.0,209.5 L356.0,211.2 L355.3,212.3 L354.9,213.1 L354.5,213.6 L354.3,213.9 L354.2,214.2 L354.0,214.4 L352.0,217.6 L350.0,220.7 L348.0,223.7 L346.0,226.6 L344.0,229.5 L342.0,232.4 L340.0,235.1 L338.0,237.8 L336.0,240.5 L334.0,243.0 L332.0,245.6 L330.0,248.0 L328.0,250.4 L326.0,252.7 L324.0,255.0 L322.0,257.2 L320.0,259.4 L318.0,261.5 L316.0,263.5 L314.0,265.5 L312.0,267.4 L310.0,269.3 L308.0,271.1 L306.0,272.9 L304.0,274.7 L302.0,276.3 L300.0,278.0 L298.0,279.5 L296.0,281.1 L294.0,282.6 L292.0,284.0 L290.0,285.4 L288.0,286.8 L286.0,288.1 L284.0,289.3 L282.0,290.6 L280.0,291.7 L278.0,292.9 L276.0,294.0 L274.0,295.1 L272.0,296.1 L270.0,297.1 L268.0,298.0 L266.0,299.0 L264.0,299.9 L262.0,300.7 L260.0,301.5 L258.0,302.3 L256.0,303.1 L254.0,303.8 L252.0,304.5 L250.0,305.2 L248.0,305.8 L246.0,306.4 L244.0,307.0 L242.0,307.6 L240.0,308.1 L238.0,308.7 L236.0,309.2 L234.0,309.6" fill="none" stroke="#111" stroke-width="1.05" stroke-dasharray="5,1.3"/>
</g>
<rect x="350" y="138.7" width="8.3" height="20.8" fill="#92278F"/>
<text x="347.3" y="290.6" font-family="Liberation Sans, sans-serif" font-size="11.6" fill="#E6E6F0" text-anchor="start" >(b)</text>
<line x1="243" y1="16" x2="243" y2="299.6" stroke="#222" stroke-width="1"/>
<line x1="237" y1="299.6" x2="363.5" y2="299.6" stroke="#222" stroke-width="1"/>
<line x1="236.7" y1="299.0" x2="243" y2="299.0" stroke="#222" stroke-width="1"/>
<text x="235.6" y="302.0" font-family="Liberation Sans, sans-serif" font-size="8.5" fill="#333" text-anchor="end" >&#8722;1</text>
<line x1="239.8" y1="284.9" x2="243" y2="284.9" stroke="#222" stroke-width="1"/>
<line x1="236.7" y1="270.7" x2="243" y2="270.7" stroke="#222" stroke-width="1"/>
<text x="235.6" y="273.7" font-family="Liberation Sans, sans-serif" font-size="8.5" fill="#333" text-anchor="end" >&#8722;0.8</text>
<line x1="239.8" y1="256.6" x2="243" y2="256.6" stroke="#222" stroke-width="1"/>
<line x1="236.7" y1="242.4" x2="243" y2="242.4" stroke="#222" stroke-width="1"/>
<text x="235.6" y="245.4" font-family="Liberation Sans, sans-serif" font-size="8.5" fill="#333" text-anchor="end" >&#8722;0.6</text>
<line x1="239.8" y1="228.2" x2="243" y2="228.2" stroke="#222" stroke-width="1"/>
<line x1="236.7" y1="214.1" x2="243" y2="214.1" stroke="#222" stroke-width="1"/>
<text x="235.6" y="217.1" font-family="Liberation Sans, sans-serif" font-size="8.5" fill="#333" text-anchor="end" >&#8722;0.4</text>
<line x1="239.8" y1="199.9" x2="243" y2="199.9" stroke="#222" stroke-width="1"/>
<line x1="236.7" y1="185.8" x2="243" y2="185.8" stroke="#222" stroke-width="1"/>
<text x="235.6" y="188.8" font-family="Liberation Sans, sans-serif" font-size="8.5" fill="#333" text-anchor="end" >&#8722;0.2</text>
<line x1="239.8" y1="171.7" x2="243" y2="171.7" stroke="#222" stroke-width="1"/>
<line x1="236.7" y1="157.5" x2="243" y2="157.5" stroke="#222" stroke-width="1"/>
<text x="235.6" y="160.5" font-family="Liberation Sans, sans-serif" font-size="8.5" fill="#333" text-anchor="end" >0</text>
<line x1="239.8" y1="143.3" x2="243" y2="143.3" stroke="#222" stroke-width="1"/>
<line x1="236.7" y1="129.2" x2="243" y2="129.2" stroke="#222" stroke-width="1"/>
<text x="235.6" y="132.2" font-family="Liberation Sans, sans-serif" font-size="8.5" fill="#333" text-anchor="end" >0.2</text>
<line x1="239.8" y1="115.1" x2="243" y2="115.1" stroke="#222" stroke-width="1"/>
<line x1="236.7" y1="100.9" x2="243" y2="100.9" stroke="#222" stroke-width="1"/>
<text x="235.6" y="103.9" font-family="Liberation Sans, sans-serif" font-size="8.5" fill="#333" text-anchor="end" >0.4</text>
<line x1="239.8" y1="86.8" x2="243" y2="86.8" stroke="#222" stroke-width="1"/>
<line x1="236.7" y1="72.6" x2="243" y2="72.6" stroke="#222" stroke-width="1"/>
<text x="235.6" y="75.6" font-family="Liberation Sans, sans-serif" font-size="8.5" fill="#333" text-anchor="end" >0.6</text>
<line x1="239.8" y1="58.5" x2="243" y2="58.5" stroke="#222" stroke-width="1"/>
<line x1="236.7" y1="44.3" x2="243" y2="44.3" stroke="#222" stroke-width="1"/>
<text x="235.6" y="47.3" font-family="Liberation Sans, sans-serif" font-size="8.5" fill="#333" text-anchor="end" >0.8</text>
<line x1="239.8" y1="30.1" x2="243" y2="30.1" stroke="#222" stroke-width="1"/>
<line x1="236.7" y1="16.0" x2="243" y2="16.0" stroke="#222" stroke-width="1"/>
<text x="235.6" y="19.0" font-family="Liberation Sans, sans-serif" font-size="8.5" fill="#333" text-anchor="end" >1</text>
<line x1="242.8" y1="299.6" x2="242.8" y2="304.7" stroke="#222" stroke-width="1"/>
<text x="242.8" y="314.3" font-family="Liberation Sans, sans-serif" font-size="8.5" fill="#333" text-anchor="middle" >1.1</text>
<line x1="250.1" y1="299.6" x2="250.1" y2="302" stroke="#222" stroke-width="1"/>
<line x1="257.4" y1="299.6" x2="257.4" y2="302" stroke="#222" stroke-width="1"/>
<line x1="264.8" y1="299.6" x2="264.8" y2="302" stroke="#222" stroke-width="1"/>
<line x1="272.1" y1="299.6" x2="272.1" y2="302" stroke="#222" stroke-width="1"/>
<line x1="279.4" y1="299.6" x2="279.4" y2="304.7" stroke="#222" stroke-width="1"/>
<text x="279.4" y="314.3" font-family="Liberation Sans, sans-serif" font-size="8.5" fill="#333" text-anchor="middle" >1.2</text>
<line x1="286.7" y1="299.6" x2="286.7" y2="302" stroke="#222" stroke-width="1"/>
<line x1="294.0" y1="299.6" x2="294.0" y2="302" stroke="#222" stroke-width="1"/>
<line x1="301.4" y1="299.6" x2="301.4" y2="302" stroke="#222" stroke-width="1"/>
<line x1="308.7" y1="299.6" x2="308.7" y2="302" stroke="#222" stroke-width="1"/>
<line x1="316.0" y1="299.6" x2="316.0" y2="304.7" stroke="#222" stroke-width="1"/>
<text x="316.0" y="314.3" font-family="Liberation Sans, sans-serif" font-size="8.5" fill="#333" text-anchor="middle" >1.3</text>
<line x1="323.3" y1="299.6" x2="323.3" y2="302" stroke="#222" stroke-width="1"/>
<line x1="330.6" y1="299.6" x2="330.6" y2="302" stroke="#222" stroke-width="1"/>
<line x1="338.0" y1="299.6" x2="338.0" y2="302" stroke="#222" stroke-width="1"/>
<line x1="345.3" y1="299.6" x2="345.3" y2="302" stroke="#222" stroke-width="1"/>
<line x1="352.6" y1="299.6" x2="352.6" y2="304.7" stroke="#222" stroke-width="1"/>
<text x="352.6" y="314.3" font-family="Liberation Sans, sans-serif" font-size="8.5" fill="#333" text-anchor="middle" >1.4</text>
<line x1="359.9" y1="299.6" x2="359.9" y2="302" stroke="#222" stroke-width="1"/>
<text x="302.6" y="322.2" font-family="Liberation Sans, sans-serif" font-size="8.5" fill="#333" text-anchor="middle" >R [m]</text>
<text transform="translate(216.3,159.5) rotate(-90)" font-family="Liberation Sans, sans-serif" font-size="8.4" fill="#333" text-anchor="middle" textLength="16.5" lengthAdjust="spacingAndGlyphs">Z [m]</text>
<text x="638.0" y="28.2" font-family="Liberation Sans, sans-serif" font-size="11.5" fill="#111" text-anchor="middle" >XGC1-simulation</text>
<text x="638.0" y="41.8" font-family="Liberation Sans, sans-serif" font-size="11.5" fill="#111" text-anchor="middle" >correlation estimates</text>
<text x="638.0" y="55.3" font-family="Liberation Sans, sans-serif" font-size="11.5" fill="#111" text-anchor="middle" >with ITG as the main</text>
<text x="638.0" y="68.9" font-family="Liberation Sans, sans-serif" font-size="11.5" fill="#111" text-anchor="middle" >drive</text>
<text x="433.2" y="27.6" font-family="Liberation Sans, sans-serif" font-size="11.8" fill="#111" text-anchor="start" >(c)</text>
<text x="480.7" y="44.9" font-family="Liberation Sans, sans-serif" font-size="6.3" fill="#111" text-anchor="middle" font-weight="bold" textLength="93" lengthAdjust="spacingAndGlyphs">XGC1&#8211;Potential fluctuations data</text>
<text x="481.0" y="52.0" font-family="Liberation Sans, sans-serif" font-size="6.3" fill="#111" text-anchor="middle" font-weight="bold" textLength="91" lengthAdjust="spacingAndGlyphs">low&#8211;filtered at 10kHz R = 1.38 m</text>
<text x="442.4" y="81.7" font-family="Liberation Sans, sans-serif" font-size="7.83" fill="#3B5BB5" text-anchor="start" >Poloidal direction</text>
<text x="443.7" y="98.6" font-family="Liberation Sans, sans-serif" font-size="7.83" fill="#222" text-anchor="start" >Radial direction</text>
<text x="435.8" y="177.5" font-family="Liberation Sans, sans-serif" font-size="6.7" fill="#333" text-anchor="start" >e-folding line</text>
<text x="433.0" y="207.8" font-family="Liberation Sans, sans-serif" font-size="7.5" fill="#111" text-anchor="start" font-weight="bold">Noise level</text>
<text x="589.3" y="172.6" font-family="Liberation Sans, sans-serif" font-size="7.2" fill="#222" text-anchor="start" textLength="23.4" lengthAdjust="spacing">~4  cm</text>
<text x="637.0" y="168.7" font-family="Liberation Sans, sans-serif" font-size="7.1" fill="#222" text-anchor="start" >~10.5 cm</text>
<line x1="431" y1="182" x2="683" y2="182" stroke="#EE7A9E" stroke-width="1.6"/>
<line x1="431" y1="200" x2="683" y2="200" stroke="#000" stroke-width="1.5"/>
<path d="M438.6,199.6 L450.0,193.8 L468.5,188.3 L481.3,179.0 L497.6,162.0 L513.4,137.6 L524.0,108.0 L534.3,74.0 L542.0,48.0 L547.5,36.0 L553.0,23.2 L556.7,19.0 L560.4,23.2 L565.9,36.0 L571.4,48.0 L579.5,74.0 L585.6,91.5 L615.0,154.0 L629.6,172.2 L640.2,178.9 L673.0,200.5" fill="none" stroke="#3B5BB5" stroke-width="1.1" stroke-linejoin="round"/>
<path d="M509.0,260.0 L512.0,240.0 L521.3,190.0 L529.0,135.9 L536.6,90.0 L539.8,74.0 L545.7,45.2 L551.2,27.8 L554.0,22.3 L556.7,19.0 L560.7,24.1 L564.0,36.0 L569.5,74.0 L572.4,90.0 L581.0,151.2 L587.0,181.7 L597.5,235.4 L600.0,250.0" fill="none" stroke="#111" stroke-width="1.2" stroke-linejoin="round"/>
<line x1="587.6" y1="184" x2="587.6" y2="236" stroke="#555" stroke-width="0.8" stroke-dasharray="1,1"/>
<line x1="642.2" y1="185" x2="642.2" y2="236" stroke="#555" stroke-width="0.8" stroke-dasharray="1,1"/>
<rect x="585.6" y="180" width="4" height="4" fill="#8DC63F"/>
<rect x="639.2" y="179" width="6" height="6" fill="#8DC63F"/>
<line x1="431" y1="19" x2="431" y2="285.8" stroke="#999" stroke-width="1.2"/>
<line x1="423" y1="277.0" x2="431" y2="277.0" stroke="#222" stroke-width="1"/>
<text x="421.5" y="279.9" font-family="Liberation Sans, sans-serif" font-size="8.3" fill="#333" text-anchor="end" >0</text>
<line x1="426.6" y1="264.1" x2="431" y2="264.1" stroke="#222" stroke-width="1"/>
<line x1="423" y1="251.2" x2="431" y2="251.2" stroke="#222" stroke-width="1"/>
<text x="421.5" y="254.1" font-family="Liberation Sans, sans-serif" font-size="8.3" fill="#333" text-anchor="end" >0.1</text>
<line x1="426.6" y1="238.3" x2="431" y2="238.3" stroke="#222" stroke-width="1"/>
<line x1="423" y1="225.4" x2="431" y2="225.4" stroke="#222" stroke-width="1"/>
<text x="421.5" y="228.3" font-family="Liberation Sans, sans-serif" font-size="8.3" fill="#333" text-anchor="end" >0.2</text>
<line x1="426.6" y1="212.5" x2="431" y2="212.5" stroke="#222" stroke-width="1"/>
<line x1="423" y1="199.6" x2="431" y2="199.6" stroke="#222" stroke-width="1"/>
<text x="421.5" y="202.5" font-family="Liberation Sans, sans-serif" font-size="8.3" fill="#333" text-anchor="end" >0.3</text>
<line x1="426.6" y1="186.7" x2="431" y2="186.7" stroke="#222" stroke-width="1"/>
<line x1="423" y1="173.8" x2="431" y2="173.8" stroke="#222" stroke-width="1"/>
<text x="421.5" y="176.7" font-family="Liberation Sans, sans-serif" font-size="8.3" fill="#333" text-anchor="end" >0.4</text>
<line x1="426.6" y1="160.9" x2="431" y2="160.9" stroke="#222" stroke-width="1"/>
<line x1="423" y1="148.0" x2="431" y2="148.0" stroke="#222" stroke-width="1"/>
<text x="421.5" y="150.9" font-family="Liberation Sans, sans-serif" font-size="8.3" fill="#333" text-anchor="end" >0.5</text>
<line x1="426.6" y1="135.1" x2="431" y2="135.1" stroke="#222" stroke-width="1"/>
<line x1="423" y1="122.2" x2="431" y2="122.2" stroke="#222" stroke-width="1"/>
<text x="421.5" y="125.1" font-family="Liberation Sans, sans-serif" font-size="8.3" fill="#333" text-anchor="end" >0.6</text>
<line x1="426.6" y1="109.3" x2="431" y2="109.3" stroke="#222" stroke-width="1"/>
<line x1="423" y1="96.4" x2="431" y2="96.4" stroke="#222" stroke-width="1"/>
<text x="421.5" y="99.3" font-family="Liberation Sans, sans-serif" font-size="8.3" fill="#333" text-anchor="end" >0.7</text>
<line x1="426.6" y1="83.5" x2="431" y2="83.5" stroke="#222" stroke-width="1"/>
<line x1="423" y1="70.6" x2="431" y2="70.6" stroke="#222" stroke-width="1"/>
<text x="421.5" y="73.5" font-family="Liberation Sans, sans-serif" font-size="8.3" fill="#333" text-anchor="end" >0.8</text>
<line x1="426.6" y1="57.7" x2="431" y2="57.7" stroke="#222" stroke-width="1"/>
<line x1="423" y1="44.8" x2="431" y2="44.8" stroke="#222" stroke-width="1"/>
<text x="421.5" y="47.7" font-family="Liberation Sans, sans-serif" font-size="8.3" fill="#333" text-anchor="end" >0.9</text>
<line x1="426.6" y1="31.9" x2="431" y2="31.9" stroke="#222" stroke-width="1"/>
<line x1="423" y1="19.0" x2="431" y2="19.0" stroke="#222" stroke-width="1"/>
<text x="421.5" y="21.9" font-family="Liberation Sans, sans-serif" font-size="8.3" fill="#333" text-anchor="end" >1</text>
<line x1="431" y1="277" x2="682.4" y2="277" stroke="#222" stroke-width="1.1"/>
<line x1="439.3" y1="277" x2="439.3" y2="281.4" stroke="#222" stroke-width="1"/>
<line x1="447.7" y1="277" x2="447.7" y2="281.4" stroke="#222" stroke-width="1"/>
<line x1="456.1" y1="277" x2="456.1" y2="281.4" stroke="#222" stroke-width="1"/>
<line x1="464.4" y1="277" x2="464.4" y2="281.4" stroke="#222" stroke-width="1"/>
<line x1="472.8" y1="277" x2="472.8" y2="285.5" stroke="#222" stroke-width="1"/>
<line x1="481.2" y1="277" x2="481.2" y2="281.4" stroke="#222" stroke-width="1"/>
<line x1="489.6" y1="277" x2="489.6" y2="281.4" stroke="#222" stroke-width="1"/>
<line x1="498.0" y1="277" x2="498.0" y2="281.4" stroke="#222" stroke-width="1"/>
<line x1="506.4" y1="277" x2="506.4" y2="281.4" stroke="#222" stroke-width="1"/>
<line x1="514.7" y1="277" x2="514.7" y2="285.5" stroke="#222" stroke-width="1"/>
<line x1="523.1" y1="277" x2="523.1" y2="281.4" stroke="#222" stroke-width="1"/>
<line x1="531.5" y1="277" x2="531.5" y2="281.4" stroke="#222" stroke-width="1"/>
<line x1="539.9" y1="277" x2="539.9" y2="281.4" stroke="#222" stroke-width="1"/>
<line x1="548.3" y1="277" x2="548.3" y2="281.4" stroke="#222" stroke-width="1"/>
<line x1="556.6" y1="277" x2="556.6" y2="285.5" stroke="#222" stroke-width="1"/>
<line x1="565.0" y1="277" x2="565.0" y2="281.4" stroke="#222" stroke-width="1"/>
<line x1="573.4" y1="277" x2="573.4" y2="281.4" stroke="#222" stroke-width="1"/>
<line x1="581.8" y1="277" x2="581.8" y2="281.4" stroke="#222" stroke-width="1"/>
<line x1="590.2" y1="277" x2="590.2" y2="281.4" stroke="#222" stroke-width="1"/>
<line x1="598.6" y1="277" x2="598.6" y2="285.5" stroke="#222" stroke-width="1"/>
<line x1="606.9" y1="277" x2="606.9" y2="281.4" stroke="#222" stroke-width="1"/>
<line x1="615.3" y1="277" x2="615.3" y2="281.4" stroke="#222" stroke-width="1"/>
<line x1="623.7" y1="277" x2="623.7" y2="281.4" stroke="#222" stroke-width="1"/>
<line x1="632.1" y1="277" x2="632.1" y2="281.4" stroke="#222" stroke-width="1"/>
<line x1="640.5" y1="277" x2="640.5" y2="285.5" stroke="#222" stroke-width="1"/>
<line x1="648.9" y1="277" x2="648.9" y2="281.4" stroke="#222" stroke-width="1"/>
<line x1="657.2" y1="277" x2="657.2" y2="281.4" stroke="#222" stroke-width="1"/>
<line x1="665.6" y1="277" x2="665.6" y2="281.4" stroke="#222" stroke-width="1"/>
<line x1="674.0" y1="277" x2="674.0" y2="281.4" stroke="#222" stroke-width="1"/>
<line x1="682.4" y1="277" x2="682.4" y2="285.5" stroke="#222" stroke-width="1"/>
<text x="429.4" y="293.7" font-family="Liberation Sans, sans-serif" font-size="8.3" fill="#333" text-anchor="middle" >&#8722;15</text>
<text x="471.3" y="293.7" font-family="Liberation Sans, sans-serif" font-size="8.3" fill="#333" text-anchor="middle" >&#8722;10</text>
<text x="513.2" y="293.7" font-family="Liberation Sans, sans-serif" font-size="8.3" fill="#333" text-anchor="middle" >&#8722;5</text>
<text x="556.6" y="293.7" font-family="Liberation Sans, sans-serif" font-size="8.3" fill="#333" text-anchor="middle" >0</text>
<text x="598.6" y="293.7" font-family="Liberation Sans, sans-serif" font-size="8.3" fill="#333" text-anchor="middle" >5</text>
<text x="640.5" y="293.7" font-family="Liberation Sans, sans-serif" font-size="8.3" fill="#333" text-anchor="middle" >10</text>
<text x="682.4" y="293.7" font-family="Liberation Sans, sans-serif" font-size="8.3" fill="#333" text-anchor="middle" >15</text>
<text x="556.6" y="301.3" font-family="Liberation Sans, sans-serif" font-size="7.95" fill="#222" text-anchor="middle" >Separation [cm]</text>
<text transform="translate(407.3,147.9) rotate(-90)" font-family="Liberation Sans, sans-serif" font-size="8.1" fill="#333" text-anchor="middle">Correlation coefficient</text>
<rect x="436" y="236" width="244.7" height="39.6" fill="#91268F"/>
<text x="558.3" y="247.1" font-family="Liberation Sans, sans-serif" font-size="9.5" fill="#F4E4F4" text-anchor="middle" >Experiment measurements</text>
<text x="558.3" y="258.6" font-family="Liberation Sans, sans-serif" font-size="9.5" fill="#F4E4F4" text-anchor="middle" >Poloidal correlation length (BES) ~ 10 - 14 cm</text>
<text x="558.3" y="270.0" font-family="Liberation Sans, sans-serif" font-size="9.5" fill="#F4E4F4" text-anchor="middle" >Radial correlation lengths (reflectometry) ~ 2 - 4 cm</text>
<line x1="148.4" y1="112.5" x2="215.4" y2="29.3" stroke="#111" stroke-width="3"/>
<path d="M223.6,19.2 L218.8,37.1 L215.4,29.3 L207.1,27.7 Z" fill="#111"/>
<line x1="147.4" y1="196.0" x2="217.4" y2="284.8" stroke="#111" stroke-width="3"/>
<path d="M225.5,295.0 L209.1,286.3 L217.4,284.8 L220.9,277.0 Z" fill="#111"/>
<line x1="443.6" y1="235.6" x2="365.0" y2="158.5" stroke="#92278F" stroke-width="2"/>
<path d="M358.6,152.2 L370.7,157.0 L365.0,158.5 L363.7,164.2 Z" fill="#92278F"/>
</svg>
</body></html>
